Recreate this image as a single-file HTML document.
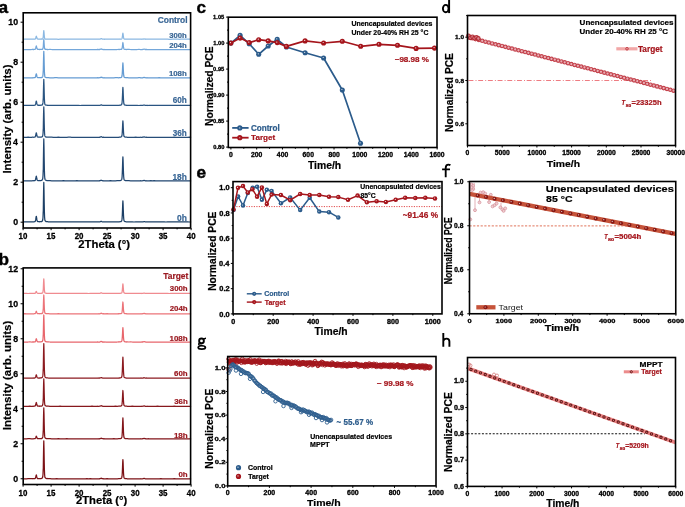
<!DOCTYPE html>
<html><head><meta charset="utf-8"><style>
html,body{margin:0;padding:0;background:#fff;overflow:hidden;width:685px;height:507px;}
svg{display:block;will-change:transform;}
text{font-family:"Liberation Sans",sans-serif;}
</style></head><body>
<svg width="685" height="507" viewBox="0 0 685 507">
<rect width="685" height="507" fill="#fff"/>
<text x="-1.62" y="12.86" font-size="17.2" fill="#000" stroke="#000" stroke-width="0.5" font-weight="bold">a</text>
<text x="-1.62" y="264.85" font-size="17.2" fill="#000" stroke="#000" stroke-width="0.35" font-weight="bold">b</text>
<text x="196.61" y="13.11" font-size="17.2" fill="#000" stroke="#000" stroke-width="0.35" font-weight="bold">c</text>
<g fill="none" stroke="#000"><ellipse cx="445.75" cy="8.6" rx="2.85" ry="3.7" stroke-width="1.9"/><path d="M449.1,-1 L449.1,13.1" stroke-width="1.95"/></g>
<text x="196.51" y="177.51" font-size="17.2" fill="#000" stroke="#000" stroke-width="0.5" font-weight="bold">e</text>
<path d="M445.7,177.2 L445.7,168 Q445.7,164.6 448.5,164.6 Q449.6,164.6 450.4,165.2 M442.1,169.4 L450,169.4" fill="none" stroke="#000" stroke-width="1.85"/>
<g fill="none" stroke="#000"><circle cx="201.5" cy="340.9" r="2.35" stroke-width="1.9"/><path d="M203.5,339.3 Q204.4,338.3 206,338.2" stroke-width="1.5"/><path d="M199.9,342.7 Q198.2,343.6 198.8,344.8 Q199.5,345.4 202.4,345.4" stroke-width="1.5"/><ellipse cx="201.8" cy="347.4" rx="3.6" ry="1.65" stroke-width="1.7"/></g>
<path d="M443.3,333 L443.3,346.7 M443.3,341 Q444,338.6 446.5,338.6 Q449.4,338.6 449.4,341.5 L449.4,346.7" fill="none" stroke="#000" stroke-width="1.9"/>
<polyline points="23.1,39.3 24.8,39.2 26.5,39.2 28.1,39.1 29.8,39.2 31.5,39.2 32.4,39.2 32.6,39.2 32.8,39.2 33,39.2 33.2,39.1 33.4,39.2 33.6,39.2 33.8,39.2 34,39.1 34.2,39.1 34.4,39.1 34.6,39.1 34.7,39.1 34.9,39 34.9,39 35.1,39 35.3,38.9 35.5,38.5 35.7,38 35.9,37.3 36.1,36.6 36.3,36.2 36.5,36.5 36.5,36.6 36.7,37.3 36.9,38.1 37.1,38.5 37.3,38.8 37.5,38.9 37.7,39 37.9,39.1 38.1,39.1 38.2,39.1 38.3,39.1 38.5,39.1 38.7,39.2 38.9,39.1 39.1,39.1 39.3,39.1 39.5,39.1 39.6,39.1 39.8,39.1 39.9,39.1 40,39.1 40.1,39.2 40.3,39.2 40.5,39.2 40.7,39.2 40.9,39.2 41.1,39.1 41.3,39.1 41.5,39 41.6,39.1 41.7,39 41.9,39.1 42.1,39.1 42.3,39 42.4,39 42.6,38.8 42.8,38.7 43,38.2 43.2,37 43.3,36.9 43.4,35.1 43.6,32.3 43.8,30.7 44,32.3 44.2,35.1 44.4,37.1 44.6,38.2 44.8,38.7 44.9,38.8 45,38.8 45.2,39 45.4,39 45.6,39.1 45.8,39.1 46,39.1 46.2,39.1 46.4,39.2 46.6,39.1 46.6,39.1 46.8,39.1 47,39.1 47.2,39.1 47.3,39.1 47.5,39.1 48.3,39.2 50,39.2 51.7,39.2 53.3,39.2 55,39.2 56.7,39.2 58.4,39.3 60.1,39.2 61.7,39.2 63.4,39.2 65.1,39.2 66.8,39.2 68.5,39.2 70.1,39.2 71.8,39.2 73.5,39.2 75.2,39.2 76.9,39.2 78.5,39.2 80.2,39.2 81.9,39.2 83.6,39.2 85.3,39.2 86.9,39.2 88.6,39.2 90.3,39.2 92,39.2 93.7,39.2 95.3,39.2 97,39.2 97.3,39.1 97.5,39.2 97.7,39.2 97.9,39.2 98.1,39.2 98.3,39.2 98.5,39.2 98.7,39.2 98.7,39.2 98.9,39.2 99.1,39.2 99.3,39.2 99.5,39.2 99.7,39.1 99.8,39.2 100,39.1 100.2,39 100.4,39 100.4,39 100.6,38.9 100.8,38.8 101,38.6 101.2,38.6 101.4,38.7 101.6,38.7 101.8,38.9 102,39 102.1,39 102.2,39.1 102.4,39.1 102.6,39.1 102.8,39.2 103,39.2 103.2,39.2 103.4,39.2 103.6,39.2 103.7,39.2 103.8,39.2 104,39.2 104.2,39.2 104.4,39.1 104.6,39.3 104.7,39.2 104.9,39.1 105.4,39.2 107.1,39.2 108.8,39.2 110.5,39.2 112.1,39.2 113.8,39.2 115.5,39.2 117.2,39.2 118.9,39.1 119,39.1 119.2,39.2 119.4,39.2 119.6,39.2 119.8,39.2 120,39.2 120.1,39.1 120.3,39.1 120.5,39.1 120.7,39.1 120.9,39.1 121.1,39.1 121.3,39.1 121.5,39 121.7,38.9 121.9,38.6 122.1,38.2 122.2,37.7 122.3,37.3 122.5,35.8 122.7,34.2 122.9,33.2 123.1,34.1 123.3,35.8 123.5,37.2 123.7,38.2 123.9,38.7 123.9,38.7 124.1,38.9 124.3,39 124.5,39.1 124.7,39.1 124.9,39.1 125,39.1 125.2,39.1 125.4,39.2 125.6,39.1 125.6,39.2 125.8,39.1 126,39.2 126.2,39.2 126.4,39.2 126.6,39.2 127.3,39.2 128.9,39.2 130.6,39.2 132.3,39.2 134,39.2 135.7,39.2 137.3,39.2 139,39.1 140.1,39.2 140.3,39.2 140.5,39.2 140.7,39.2 140.7,39.2 140.9,39.2 141.1,39.2 141.3,39.3 141.5,39.2 141.7,39.2 141.9,39.2 142.1,39.2 142.3,39.1 142.4,39.2 142.5,39.2 142.7,39.2 142.9,39.1 143.1,39.1 143.3,39.1 143.5,39 143.7,39 143.9,38.9 144.1,38.8 144.3,38.9 144.5,38.8 144.6,39 144.8,39 145,39.1 145.2,39.1 145.4,39.1 145.6,39.1 145.7,39.3 145.8,39.2 146,39.2 146.2,39.2 146.4,39.2 146.6,39.2 146.8,39.2 147,39.2 147.2,39.2 147.4,39.2 147.4,39.2 147.6,39.2 147.8,39.2 148,39.2 149.1,39.2 150.8,39.2 152.5,39.2 154.1,39.2 155.8,39.2 157.5,39.1 159.2,39.2 160.9,39.2 162.5,39.2 164.2,39.2 165.9,39.2 167.6,39.2 169.3,39.3 170.9,39.3 172.6,39.2 174.3,39.2 176,39.2 177.7,39.2 179.3,39.3 181,39.2 182.7,39.2 184.4,39.2 186.1,39.2 187.7,39.2 189.4,39.2 191.1,39.2" fill="none" stroke="#8bb8e2" stroke-width="1.25" stroke-linejoin="round" />
<polyline points="23.1,49.5 24.8,49.5 26.5,49.5 28.1,49.5 29.8,49.5 31.5,49.5 32.4,49.4 32.6,49.4 32.8,49.5 33,49.5 33.2,49.4 33.4,49.5 33.6,49.5 33.8,49.5 34,49.4 34.2,49.4 34.4,49.4 34.6,49.3 34.7,49.4 34.9,49.3 34.9,49.3 35.1,49.2 35.3,49.1 35.5,48.7 35.7,48.1 35.9,47.3 36.1,46.4 36.3,45.9 36.5,46.4 36.5,46.6 36.7,47.3 36.9,48.1 37.1,48.7 37.3,49 37.5,49.2 37.7,49.4 37.9,49.3 38.1,49.3 38.2,49.4 38.3,49.4 38.5,49.4 38.7,49.4 38.9,49.4 39.1,49.4 39.3,49.5 39.5,49.5 39.6,49.5 39.8,49.4 39.9,49.4 40,49.3 40.1,49.4 40.3,49.4 40.5,49.4 40.7,49.4 40.9,49.4 41.1,49.4 41.3,49.4 41.5,49.4 41.6,49.3 41.7,49.3 41.9,49.3 42.1,49.3 42.3,49.3 42.4,49.3 42.6,49.1 42.8,48.9 43,48.3 43.2,47 43.3,46.7 43.4,44.6 43.6,41.4 43.8,39.5 44,41.4 44.2,44.6 44.4,47 44.6,48.3 44.8,48.9 44.9,49 45,49.1 45.2,49.3 45.4,49.2 45.6,49.3 45.8,49.3 46,49.4 46.2,49.3 46.4,49.4 46.6,49.4 46.6,49.4 46.8,49.4 47,49.5 47.2,49.4 47.3,49.4 47.5,49.5 48.3,49.5 50,49.4 51.7,49.5 53.3,49.5 55,49.5 56.7,49.6 58.4,49.5 60.1,49.5 61.7,49.5 63.4,49.5 65.1,49.5 66.8,49.5 68.5,49.5 70.1,49.5 71.8,49.5 73.5,49.6 75.2,49.5 76.9,49.5 78.5,49.5 80.2,49.5 81.9,49.5 83.6,49.5 85.3,49.5 86.9,49.5 88.6,49.5 90.3,49.5 92,49.5 93.7,49.5 95.3,49.5 97,49.5 97.3,49.5 97.5,49.4 97.7,49.5 97.9,49.5 98.1,49.4 98.3,49.5 98.5,49.5 98.7,49.5 98.7,49.5 98.9,49.5 99.1,49.5 99.3,49.4 99.5,49.5 99.7,49.5 99.8,49.4 100,49.3 100.2,49.3 100.4,49.3 100.4,49.3 100.6,49.2 100.8,49 101,49 101.2,48.9 101.4,48.9 101.6,49.1 101.8,49.1 102,49.3 102.1,49.3 102.2,49.4 102.4,49.4 102.6,49.4 102.8,49.5 103,49.5 103.2,49.5 103.4,49.5 103.6,49.5 103.7,49.5 103.8,49.5 104,49.4 104.2,49.5 104.4,49.5 104.6,49.5 104.7,49.5 104.9,49.5 105.4,49.5 107.1,49.5 108.8,49.5 110.5,49.5 112.1,49.5 113.8,49.5 115.5,49.5 117.2,49.5 118.9,49.4 119,49.5 119.2,49.5 119.4,49.5 119.6,49.4 119.8,49.4 120,49.4 120.1,49.4 120.3,49.4 120.5,49.4 120.7,49.4 120.9,49.4 121.1,49.3 121.3,49.3 121.5,49.3 121.7,49.1 121.9,48.9 122.1,48.3 122.2,47.7 122.3,47.3 122.5,45.5 122.7,43.5 122.9,42.5 123.1,43.6 123.3,45.5 123.5,47.2 123.7,48.2 123.9,48.9 123.9,48.9 124.1,49.1 124.3,49.2 124.5,49.3 124.7,49.4 124.9,49.3 125,49.4 125.2,49.4 125.4,49.4 125.6,49.4 125.6,49.4 125.8,49.4 126,49.5 126.2,49.4 126.4,49.5 126.6,49.5 127.3,49.4 128.9,49.4 130.6,49.5 132.3,49.5 134,49.5 135.7,49.5 137.3,49.5 139,49.4 140.1,49.5 140.3,49.5 140.5,49.6 140.7,49.5 140.7,49.5 140.9,49.5 141.1,49.5 141.3,49.5 141.5,49.5 141.7,49.5 141.9,49.5 142.1,49.5 142.3,49.5 142.4,49.5 142.5,49.4 142.7,49.4 142.9,49.4 143.1,49.4 143.3,49.4 143.5,49.3 143.7,49.2 143.9,49.2 144.1,49.1 144.3,49.1 144.5,49.1 144.6,49.2 144.8,49.3 145,49.3 145.2,49.5 145.4,49.5 145.6,49.5 145.7,49.4 145.8,49.4 146,49.5 146.2,49.5 146.4,49.4 146.6,49.5 146.8,49.5 147,49.5 147.2,49.5 147.4,49.5 147.4,49.5 147.6,49.5 147.8,49.5 148,49.5 149.1,49.5 150.8,49.5 152.5,49.5 154.1,49.5 155.8,49.5 157.5,49.5 159.2,49.5 160.9,49.5 162.5,49.5 164.2,49.5 165.9,49.5 167.6,49.5 169.3,49.5 170.9,49.5 172.6,49.5 174.3,49.5 176,49.5 177.7,49.5 179.3,49.5 181,49.6 182.7,49.5 184.4,49.5 186.1,49.5 187.7,49.5 189.4,49.5 191.1,49.5" fill="none" stroke="#74a7da" stroke-width="1.25" stroke-linejoin="round" />
<polyline points="23.1,77.8 24.8,77.8 26.5,77.8 28.1,77.8 29.8,77.8 31.5,77.8 32.4,77.8 32.6,77.8 32.8,77.7 33,77.8 33.2,77.8 33.4,77.8 33.6,77.7 33.8,77.7 34,77.7 34.2,77.7 34.4,77.7 34.6,77.7 34.7,77.7 34.9,77.6 34.9,77.6 35.1,77.5 35.3,77.3 35.5,76.9 35.7,76.2 35.9,75.2 36.1,74.2 36.3,73.8 36.5,74.3 36.5,74.4 36.7,75.2 36.9,76.2 37.1,76.8 37.3,77.3 37.5,77.5 37.7,77.6 37.9,77.6 38.1,77.6 38.2,77.6 38.3,77.7 38.5,77.7 38.7,77.7 38.9,77.7 39.1,77.7 39.3,77.7 39.5,77.7 39.6,77.6 39.8,77.6 39.9,77.7 40,77.7 40.1,77.6 40.3,77.7 40.5,77.7 40.7,77.6 40.9,77.6 41.1,77.6 41.3,77.6 41.5,77.5 41.6,77.6 41.7,77.5 41.9,77.4 42.1,77.4 42.3,77.2 42.4,77.1 42.6,76.7 42.8,76.2 43,74.6 43.2,71.2 43.3,70.5 43.4,64.8 43.6,56.3 43.8,51.3 44,56.2 44.2,64.8 44.4,71.2 44.6,74.7 44.8,76.2 44.9,76.8 45,76.8 45.2,77.1 45.4,77.2 45.6,77.4 45.8,77.4 46,77.5 46.2,77.5 46.4,77.5 46.6,77.6 46.6,77.6 46.8,77.6 47,77.6 47.2,77.7 47.3,77.7 47.5,77.7 48.3,77.7 50,77.8 51.7,77.8 53.3,77.8 55,77.7 56.7,77.7 58.4,77.8 60.1,77.8 61.7,77.8 63.4,77.8 65.1,77.8 66.8,77.8 68.5,77.8 70.1,77.8 71.8,77.8 73.5,77.8 75.2,77.8 76.9,77.8 78.5,77.8 80.2,77.8 81.9,77.8 83.6,77.8 85.3,77.8 86.9,77.8 88.6,77.8 90.3,77.8 92,77.8 93.7,77.8 95.3,77.8 97,77.8 97.3,77.7 97.5,77.8 97.7,77.8 97.9,77.7 98.1,77.8 98.3,77.8 98.5,77.8 98.7,77.7 98.7,77.8 98.9,77.8 99.1,77.8 99.3,77.8 99.5,77.7 99.7,77.7 99.8,77.7 100,77.7 100.2,77.7 100.4,77.6 100.4,77.6 100.6,77.4 100.8,77.3 101,77.2 101.2,77.3 101.4,77.2 101.6,77.3 101.8,77.4 102,77.6 102.1,77.5 102.2,77.6 102.4,77.7 102.6,77.7 102.8,77.8 103,77.8 103.2,77.7 103.4,77.8 103.6,77.8 103.7,77.8 103.8,77.8 104,77.8 104.2,77.8 104.4,77.8 104.6,77.7 104.7,77.8 104.9,77.8 105.4,77.8 107.1,77.8 108.8,77.8 110.5,77.8 112.1,77.8 113.8,77.8 115.5,77.7 117.2,77.7 118.9,77.8 119,77.7 119.2,77.7 119.4,77.7 119.6,77.7 119.8,77.7 120,77.7 120.1,77.6 120.3,77.6 120.5,77.6 120.7,77.6 120.9,77.5 121.1,77.5 121.3,77.4 121.5,77.2 121.7,77 121.9,76.5 122.1,75.2 122.2,74.1 122.3,72.9 122.5,69.3 122.7,65.1 122.9,62.8 123.1,65 123.3,69.3 123.5,72.9 123.7,75.2 123.9,76.4 123.9,76.6 124.1,77 124.3,77.2 124.5,77.4 124.7,77.4 124.9,77.6 125,77.6 125.2,77.6 125.4,77.6 125.6,77.6 125.6,77.6 125.8,77.7 126,77.7 126.2,77.7 126.4,77.8 126.6,77.7 127.3,77.7 128.9,77.8 130.6,77.8 132.3,77.8 134,77.8 135.7,77.8 137.3,77.8 139,77.7 140.1,77.7 140.3,77.8 140.5,77.8 140.7,77.8 140.7,77.8 140.9,77.7 141.1,77.8 141.3,77.8 141.5,77.8 141.7,77.8 141.9,77.8 142.1,77.8 142.3,77.8 142.4,77.8 142.5,77.8 142.7,77.7 142.9,77.8 143.1,77.7 143.3,77.7 143.5,77.6 143.7,77.5 143.9,77.4 144.1,77.4 144.3,77.4 144.5,77.5 144.6,77.6 144.8,77.7 145,77.6 145.2,77.7 145.4,77.7 145.6,77.8 145.7,77.8 145.8,77.8 146,77.8 146.2,77.8 146.4,77.7 146.6,77.8 146.8,77.8 147,77.8 147.2,77.8 147.4,77.9 147.4,77.8 147.6,77.7 147.8,77.8 148,77.8 149.1,77.8 150.8,77.8 152.5,77.8 154.1,77.8 155.8,77.8 157.5,77.8 159.2,77.7 160.9,77.8 162.5,77.8 164.2,77.8 165.9,77.8 167.6,77.8 169.3,77.8 170.9,77.8 172.6,77.8 174.3,77.8 176,77.8 177.7,77.8 179.3,77.8 181,77.8 182.7,77.8 184.4,77.8 186.1,77.8 187.7,77.8 189.4,77.8 191.1,77.8" fill="none" stroke="#659cd3" stroke-width="1.25" stroke-linejoin="round" />
<polyline points="23.1,105.4 24.8,105.4 26.5,105.4 28.1,105.4 29.8,105.3 31.5,105.4 32.4,105.4 32.6,105.4 32.8,105.4 33,105.4 33.2,105.4 33.4,105.4 33.6,105.3 33.8,105.3 34,105.3 34.2,105.3 34.4,105.3 34.6,105.2 34.7,105.2 34.9,105.2 34.9,105.2 35.1,105.1 35.3,104.9 35.5,104.4 35.7,103.7 35.9,102.7 36.1,101.6 36.3,101.1 36.5,101.6 36.5,101.7 36.7,102.7 36.9,103.7 37.1,104.3 37.3,104.8 37.5,105 37.7,105.2 37.9,105.2 38.1,105.3 38.2,105.3 38.3,105.2 38.5,105.2 38.7,105.3 38.9,105.2 39.1,105.3 39.3,105.2 39.5,105.3 39.6,105.3 39.8,105.3 39.9,105.3 40,105.2 40.1,105.2 40.3,105.3 40.5,105.3 40.7,105.2 40.9,105.2 41.1,105.2 41.3,105.2 41.5,105.2 41.6,105.1 41.7,105.1 41.9,105.1 42.1,104.9 42.3,104.9 42.4,104.7 42.6,104.4 42.8,103.8 43,102.4 43.2,98.9 43.3,98.2 43.4,92.6 43.6,84.3 43.8,79.4 44,84.3 44.2,92.6 44.4,98.9 44.6,102.3 44.8,103.8 44.9,104.3 45,104.4 45.2,104.7 45.4,104.9 45.6,105 45.8,105 46,105.1 46.2,105.2 46.4,105.2 46.6,105.2 46.6,105.2 46.8,105.2 47,105.3 47.2,105.2 47.3,105.3 47.5,105.3 48.3,105.3 50,105.4 51.7,105.3 53.3,105.4 55,105.4 56.7,105.4 58.4,105.4 60.1,105.4 61.7,105.4 63.4,105.4 65.1,105.4 66.8,105.4 68.5,105.4 70.1,105.4 71.8,105.4 73.5,105.3 75.2,105.4 76.9,105.3 78.5,105.3 80.2,105.5 81.9,105.4 83.6,105.4 85.3,105.4 86.9,105.4 88.6,105.4 90.3,105.4 92,105.4 93.7,105.4 95.3,105.4 97,105.4 97.3,105.4 97.5,105.4 97.7,105.4 97.9,105.3 98.1,105.4 98.3,105.4 98.5,105.4 98.7,105.4 98.7,105.4 98.9,105.4 99.1,105.4 99.3,105.4 99.5,105.4 99.7,105.4 99.8,105.3 100,105.3 100.2,105.3 100.4,105.2 100.4,105.1 100.6,105.1 100.8,105 101,104.8 101.2,104.8 101.4,104.8 101.6,105 101.8,105 102,105.2 102.1,105.1 102.2,105.2 102.4,105.3 102.6,105.3 102.8,105.3 103,105.4 103.2,105.4 103.4,105.4 103.6,105.4 103.7,105.4 103.8,105.4 104,105.4 104.2,105.4 104.4,105.4 104.6,105.4 104.7,105.4 104.9,105.3 105.4,105.4 107.1,105.3 108.8,105.4 110.5,105.3 112.1,105.4 113.8,105.4 115.5,105.3 117.2,105.3 118.9,105.4 119,105.3 119.2,105.3 119.4,105.2 119.6,105.2 119.8,105.3 120,105.3 120.1,105.2 120.3,105.2 120.5,105.1 120.7,105.2 120.9,105.1 121.1,105 121.3,104.8 121.5,104.7 121.7,104.4 121.9,103.8 122.1,102.3 122.2,100.9 122.3,99.5 122.5,95.2 122.7,90.1 122.9,87.3 123.1,90.1 123.3,95.2 123.5,99.5 123.7,102.3 123.9,103.8 123.9,103.8 124.1,104.4 124.3,104.7 124.5,104.9 124.7,105 124.9,105.1 125,105.1 125.2,105.2 125.4,105.2 125.6,105.2 125.6,105.2 125.8,105.2 126,105.3 126.2,105.2 126.4,105.3 126.6,105.4 127.3,105.4 128.9,105.4 130.6,105.4 132.3,105.4 134,105.4 135.7,105.4 137.3,105.4 139,105.5 140.1,105.4 140.3,105.4 140.5,105.4 140.7,105.4 140.7,105.4 140.9,105.4 141.1,105.4 141.3,105.4 141.5,105.4 141.7,105.3 141.9,105.4 142.1,105.3 142.3,105.4 142.4,105.4 142.5,105.3 142.7,105.3 142.9,105.3 143.1,105.3 143.3,105.2 143.5,105.1 143.7,105.1 143.9,105 144.1,105 144.3,105 144.5,105.1 144.6,105.1 144.8,105.2 145,105.3 145.2,105.4 145.4,105.3 145.6,105.4 145.7,105.3 145.8,105.4 146,105.3 146.2,105.3 146.4,105.4 146.6,105.3 146.8,105.4 147,105.4 147.2,105.4 147.4,105.4 147.4,105.4 147.6,105.4 147.8,105.4 148,105.5 149.1,105.4 150.8,105.3 152.5,105.4 154.1,105.4 155.8,105.4 157.5,105.4 159.2,105.4 160.9,105.4 162.5,105.4 164.2,105.4 165.9,105.4 167.6,105.3 169.3,105.4 170.9,105.4 172.6,105.4 174.3,105.4 176,105.4 177.7,105.4 179.3,105.4 181,105.4 182.7,105.4 184.4,105.4 186.1,105.4 187.7,105.4 189.4,105.4 191.1,105.3" fill="none" stroke="#2a5582" stroke-width="1.25" stroke-linejoin="round" />
<polyline points="23.1,137.2 24.8,137.3 26.5,137.3 28.1,137.2 29.8,137.3 31.5,137.3 32.4,137.2 32.6,137.2 32.8,137.2 33,137.3 33.2,137.3 33.4,137.3 33.6,137.2 33.8,137.2 34,137.2 34.2,137.2 34.4,137.2 34.6,137.2 34.7,137.1 34.9,137.1 34.9,137.1 35.1,136.9 35.3,136.7 35.5,136.2 35.7,135.5 35.9,134.4 36.1,133.3 36.3,132.8 36.5,133.3 36.5,133.5 36.7,134.4 36.9,135.5 37.1,136.2 37.3,136.7 37.5,136.9 37.7,137 37.9,137.1 38.1,137.1 38.2,137.1 38.3,137.2 38.5,137.1 38.7,137.2 38.9,137.1 39.1,137.2 39.3,137.2 39.5,137.1 39.6,137.2 39.8,137.1 39.9,137.2 40,137.2 40.1,137.2 40.3,137.2 40.5,137.1 40.7,137.1 40.9,137.1 41.1,137.1 41.3,137.1 41.5,137 41.6,136.9 41.7,136.9 41.9,136.8 42.1,136.8 42.3,136.6 42.4,136.5 42.6,136.1 42.8,135.4 43,133.7 43.2,129.7 43.3,128.9 43.4,122.3 43.6,112.5 43.8,106.8 44,112.5 44.2,122.4 44.4,129.6 44.6,133.7 44.8,135.4 44.9,135.9 45,136.1 45.2,136.4 45.4,136.6 45.6,136.8 45.8,136.8 46,137 46.2,137 46.4,137 46.6,137 46.6,137 46.8,137.1 47,137.1 47.2,137.2 47.3,137.2 47.5,137.1 48.3,137.1 50,137.2 51.7,137.2 53.3,137.3 55,137.3 56.7,137.4 58.4,137.2 60.1,137.3 61.7,137.3 63.4,137.3 65.1,137.3 66.8,137.3 68.5,137.2 70.1,137.2 71.8,137.3 73.5,137.3 75.2,137.3 76.9,137.3 78.5,137.4 80.2,137.3 81.9,137.3 83.6,137.3 85.3,137.3 86.9,137.3 88.6,137.3 90.3,137.3 92,137.3 93.7,137.3 95.3,137.3 97,137.3 97.3,137.3 97.5,137.3 97.7,137.3 97.9,137.3 98.1,137.3 98.3,137.3 98.5,137.3 98.7,137.3 98.7,137.3 98.9,137.3 99.1,137.3 99.3,137.3 99.5,137.2 99.7,137.3 99.8,137.2 100,137.2 100.2,137.1 100.4,137.1 100.4,137.1 100.6,136.9 100.8,136.8 101,136.7 101.2,136.7 101.4,136.7 101.6,136.8 101.8,137 102,137.1 102.1,137.1 102.2,137.1 102.4,137.3 102.6,137.2 102.8,137.3 103,137.3 103.2,137.2 103.4,137.3 103.6,137.3 103.7,137.2 103.8,137.3 104,137.3 104.2,137.3 104.4,137.3 104.6,137.3 104.7,137.3 104.9,137.3 105.4,137.3 107.1,137.3 108.8,137.3 110.5,137.3 112.1,137.3 113.8,137.3 115.5,137.3 117.2,137.3 118.9,137.3 119,137.2 119.2,137.2 119.4,137.2 119.6,137.2 119.8,137.1 120,137.1 120.1,137.1 120.3,137.1 120.5,137.1 120.7,137.1 120.9,137 121.1,136.9 121.3,136.8 121.5,136.7 121.7,136.4 121.9,135.8 122.1,134.5 122.2,133.2 122.3,131.9 122.5,127.9 122.7,123.3 122.9,120.8 123.1,123.3 123.3,127.9 123.5,131.9 123.7,134.5 123.9,135.8 123.9,135.9 124.1,136.4 124.3,136.7 124.5,136.8 124.7,136.9 124.9,137 125,137 125.2,137.1 125.4,137.1 125.6,137.1 125.6,137.2 125.8,137.2 126,137.2 126.2,137.2 126.4,137.2 126.6,137.2 127.3,137.3 128.9,137.3 130.6,137.3 132.3,137.3 134,137.3 135.7,137.2 137.3,137.3 139,137.3 140.1,137.3 140.3,137.3 140.5,137.3 140.7,137.2 140.7,137.2 140.9,137.2 141.1,137.3 141.3,137.3 141.5,137.3 141.7,137.3 141.9,137.3 142.1,137.3 142.3,137.3 142.4,137.2 142.5,137.3 142.7,137.2 142.9,137.2 143.1,137.2 143.3,137.2 143.5,137.1 143.7,137 143.9,136.9 144.1,136.9 144.3,136.9 144.5,137 144.6,137.1 144.8,137.2 145,137.2 145.2,137.2 145.4,137.2 145.6,137.3 145.7,137.3 145.8,137.3 146,137.3 146.2,137.2 146.4,137.3 146.6,137.2 146.8,137.4 147,137.3 147.2,137.3 147.4,137.3 147.4,137.3 147.6,137.3 147.8,137.3 148,137.3 149.1,137.3 150.8,137.3 152.5,137.3 154.1,137.3 155.8,137.3 157.5,137.3 159.2,137.3 160.9,137.4 162.5,137.3 164.2,137.3 165.9,137.4 167.6,137.3 169.3,137.3 170.9,137.3 172.6,137.3 174.3,137.2 176,137.3 177.7,137.3 179.3,137.3 181,137.3 182.7,137.3 184.4,137.3 186.1,137.3 187.7,137.3 189.4,137.2 191.1,137.3" fill="none" stroke="#264d78" stroke-width="1.25" stroke-linejoin="round" />
<polyline points="23.1,180.8 24.8,180.8 26.5,180.8 28.1,180.8 29.8,180.8 31.5,180.8 32.4,180.8 32.6,180.7 32.8,180.7 33,180.7 33.2,180.7 33.4,180.8 33.6,180.7 33.8,180.7 34,180.8 34.2,180.7 34.4,180.6 34.6,180.7 34.7,180.6 34.9,180.6 34.9,180.5 35.1,180.5 35.3,180.2 35.5,179.7 35.7,179 35.9,177.9 36.1,176.8 36.3,176.2 36.5,176.8 36.5,176.9 36.7,177.9 36.9,179 37.1,179.7 37.3,180.2 37.5,180.4 37.7,180.5 37.9,180.5 38.1,180.6 38.2,180.6 38.3,180.6 38.5,180.6 38.7,180.7 38.9,180.7 39.1,180.6 39.3,180.7 39.5,180.6 39.6,180.7 39.8,180.7 39.9,180.5 40,180.6 40.1,180.6 40.3,180.6 40.5,180.5 40.7,180.5 40.9,180.5 41.1,180.5 41.3,180.4 41.5,180.3 41.6,180.4 41.7,180.3 41.9,180.2 42.1,180 42.3,179.8 42.4,179.6 42.6,179.2 42.8,178.1 43,175.8 43.2,170.4 43.3,169.1 43.4,160.1 43.6,146.7 43.8,138.8 44,146.6 44.2,160.1 44.4,170.3 44.6,175.8 44.8,178.2 44.9,179 45,179.2 45.2,179.6 45.4,179.9 45.6,180.1 45.8,180.2 46,180.3 46.2,180.4 46.4,180.4 46.6,180.5 46.6,180.5 46.8,180.5 47,180.5 47.2,180.6 47.3,180.6 47.5,180.6 48.3,180.7 50,180.7 51.7,180.8 53.3,180.8 55,180.8 56.7,180.8 58.4,180.8 60.1,180.8 61.7,180.8 63.4,180.7 65.1,180.8 66.8,180.8 68.5,180.8 70.1,180.8 71.8,180.8 73.5,180.8 75.2,180.8 76.9,180.7 78.5,180.8 80.2,180.8 81.9,180.8 83.6,180.8 85.3,180.8 86.9,180.8 88.6,180.8 90.3,180.8 92,180.8 93.7,180.8 95.3,180.8 97,180.8 97.3,180.8 97.5,180.8 97.7,180.8 97.9,180.8 98.1,180.8 98.3,180.8 98.5,180.8 98.7,180.8 98.7,180.8 98.9,180.8 99.1,180.8 99.3,180.8 99.5,180.7 99.7,180.7 99.8,180.8 100,180.7 100.2,180.6 100.4,180.6 100.4,180.6 100.6,180.5 100.8,180.3 101,180.2 101.2,180.2 101.4,180.3 101.6,180.4 101.8,180.4 102,180.6 102.1,180.6 102.2,180.6 102.4,180.7 102.6,180.8 102.8,180.7 103,180.8 103.2,180.8 103.4,180.7 103.6,180.8 103.7,180.8 103.8,180.8 104,180.8 104.2,180.8 104.4,180.8 104.6,180.8 104.7,180.8 104.9,180.8 105.4,180.8 107.1,180.8 108.8,180.8 110.5,180.7 112.1,180.8 113.8,180.8 115.5,180.8 117.2,180.7 118.9,180.6 119,180.7 119.2,180.7 119.4,180.7 119.6,180.6 119.8,180.7 120,180.6 120.1,180.6 120.3,180.5 120.5,180.5 120.7,180.4 120.9,180.4 121.1,180.2 121.3,180.1 121.5,179.9 121.7,179.5 121.9,178.6 122.1,176.7 122.2,174.8 122.3,172.9 122.5,167.1 122.7,160.4 122.9,156.8 123.1,160.4 123.3,167.1 123.5,172.9 123.7,176.7 123.9,178.6 123.9,178.8 124.1,179.5 124.3,180 124.5,180.1 124.7,180.3 124.9,180.4 125,180.4 125.2,180.5 125.4,180.5 125.6,180.6 125.6,180.6 125.8,180.6 126,180.6 126.2,180.7 126.4,180.6 126.6,180.7 127.3,180.7 128.9,180.7 130.6,180.8 132.3,180.8 134,180.8 135.7,180.8 137.3,180.8 139,180.8 140.1,180.8 140.3,180.8 140.5,180.7 140.7,180.8 140.7,180.7 140.9,180.8 141.1,180.8 141.3,180.8 141.5,180.8 141.7,180.8 141.9,180.8 142.1,180.8 142.3,180.8 142.4,180.8 142.5,180.8 142.7,180.7 142.9,180.7 143.1,180.7 143.3,180.6 143.5,180.5 143.7,180.5 143.9,180.4 144.1,180.4 144.3,180.4 144.5,180.5 144.6,180.6 144.8,180.6 145,180.7 145.2,180.8 145.4,180.7 145.6,180.8 145.7,180.8 145.8,180.8 146,180.8 146.2,180.7 146.4,180.8 146.6,180.8 146.8,180.8 147,180.8 147.2,180.8 147.4,180.8 147.4,180.8 147.6,180.8 147.8,180.8 148,180.8 149.1,180.8 150.8,180.7 152.5,180.8 154.1,180.7 155.8,180.8 157.5,180.8 159.2,180.8 160.9,180.8 162.5,180.8 164.2,180.8 165.9,180.8 167.6,180.8 169.3,180.8 170.9,180.8 172.6,180.8 174.3,180.8 176,180.8 177.7,180.8 179.3,180.8 181,180.8 182.7,180.8 184.4,180.8 186.1,180.8 187.7,180.8 189.4,180.8 191.1,180.8" fill="none" stroke="#214670" stroke-width="1.25" stroke-linejoin="round" />
<polyline points="23.1,221.8 24.8,221.9 26.5,221.8 28.1,221.9 29.8,221.9 31.5,221.8 32.4,221.8 32.6,221.8 32.8,221.8 33,221.8 33.2,221.8 33.4,221.8 33.6,221.8 33.8,221.8 34,221.8 34.2,221.8 34.4,221.7 34.6,221.7 34.7,221.7 34.9,221.6 34.9,221.5 35.1,221.5 35.3,221.1 35.5,220.6 35.7,219.7 35.9,218.3 36.1,216.9 36.3,216.3 36.5,216.9 36.5,217.1 36.7,218.3 36.9,219.7 37.1,220.6 37.3,221.1 37.5,221.4 37.7,221.5 37.9,221.6 38.1,221.7 38.2,221.7 38.3,221.7 38.5,221.7 38.7,221.7 38.9,221.7 39.1,221.7 39.3,221.8 39.5,221.8 39.6,221.7 39.8,221.7 39.9,221.7 40,221.7 40.1,221.7 40.3,221.7 40.5,221.7 40.7,221.7 40.9,221.6 41.1,221.6 41.3,221.5 41.5,221.5 41.6,221.5 41.7,221.5 41.9,221.3 42.1,221.2 42.3,221.1 42.4,220.8 42.6,220.3 42.8,219.5 43,217.2 43.2,212 43.3,211 43.4,202.5 43.6,189.8 43.8,182.4 44,189.8 44.2,202.5 44.4,212 44.6,217.2 44.8,219.5 44.9,220.2 45,220.4 45.2,220.8 45.4,221 45.6,221.2 45.8,221.3 46,221.5 46.2,221.5 46.4,221.6 46.6,221.6 46.6,221.6 46.8,221.7 47,221.7 47.2,221.7 47.3,221.7 47.5,221.7 48.3,221.8 50,221.8 51.7,221.9 53.3,221.9 55,221.9 56.7,221.9 58.4,221.9 60.1,221.9 61.7,221.8 63.4,221.9 65.1,221.9 66.8,221.9 68.5,221.9 70.1,221.9 71.8,221.9 73.5,221.9 75.2,221.9 76.9,221.9 78.5,221.9 80.2,221.9 81.9,221.9 83.6,221.9 85.3,221.9 86.9,221.9 88.6,221.9 90.3,221.9 92,221.9 93.7,221.9 95.3,221.9 97,221.9 97.3,221.9 97.5,221.9 97.7,221.8 97.9,221.9 98.1,221.8 98.3,221.9 98.5,221.9 98.7,221.9 98.7,221.9 98.9,221.8 99.1,221.9 99.3,221.9 99.5,221.9 99.7,221.9 99.8,221.9 100,221.8 100.2,221.7 100.4,221.7 100.4,221.7 100.6,221.6 100.8,221.4 101,221.3 101.2,221.3 101.4,221.3 101.6,221.5 101.8,221.6 102,221.6 102.1,221.7 102.2,221.8 102.4,221.8 102.6,221.9 102.8,221.8 103,221.8 103.2,221.9 103.4,221.9 103.6,221.8 103.7,221.9 103.8,221.9 104,221.8 104.2,221.9 104.4,221.9 104.6,221.9 104.7,221.9 104.9,221.9 105.4,221.9 107.1,221.9 108.8,221.8 110.5,221.9 112.1,221.9 113.8,221.9 115.5,221.8 117.2,221.8 118.9,221.8 119,221.8 119.2,221.8 119.4,221.8 119.6,221.8 119.8,221.7 120,221.7 120.1,221.7 120.3,221.7 120.5,221.6 120.7,221.6 120.9,221.5 121.1,221.5 121.3,221.3 121.5,221.1 121.7,220.8 121.9,219.9 122.1,218.3 122.2,216.6 122.3,215 122.5,210 122.7,204.1 122.9,200.9 123.1,204.1 123.3,210 123.5,215.1 123.7,218.3 123.9,220 123.9,220.1 124.1,220.8 124.3,221.1 124.5,221.3 124.7,221.4 124.9,221.5 125,221.6 125.2,221.6 125.4,221.7 125.6,221.7 125.6,221.7 125.8,221.7 126,221.8 126.2,221.8 126.4,221.8 126.6,221.8 127.3,221.9 128.9,221.8 130.6,221.9 132.3,221.8 134,222 135.7,221.9 137.3,221.9 139,221.9 140.1,221.9 140.3,221.9 140.5,221.8 140.7,221.9 140.7,221.9 140.9,221.9 141.1,221.9 141.3,221.9 141.5,221.9 141.7,221.8 141.9,221.9 142.1,221.9 142.3,221.9 142.4,221.9 142.5,221.9 142.7,221.8 142.9,221.8 143.1,221.8 143.3,221.8 143.5,221.6 143.7,221.6 143.9,221.5 144.1,221.5 144.3,221.5 144.5,221.6 144.6,221.6 144.8,221.7 145,221.8 145.2,221.8 145.4,221.8 145.6,221.8 145.7,221.9 145.8,221.9 146,221.9 146.2,221.9 146.4,221.9 146.6,221.9 146.8,221.9 147,221.9 147.2,221.9 147.4,221.9 147.4,221.9 147.6,221.9 147.8,221.9 148,221.9 149.1,221.8 150.8,221.8 152.5,221.9 154.1,221.9 155.8,221.9 157.5,221.9 159.2,221.9 160.9,221.9 162.5,221.9 164.2,221.8 165.9,222 167.6,221.9 169.3,221.9 170.9,221.9 172.6,221.9 174.3,221.9 176,221.9 177.7,221.9 179.3,221.9 181,221.9 182.7,221.9 184.4,221.9 186.1,221.9 187.7,221.9 189.4,222 191.1,221.9" fill="none" stroke="#1d4066" stroke-width="1.25" stroke-linejoin="round" />
<rect x="23.2" y="12.8" width="167.4" height="215.2" fill="none" stroke="#000" stroke-width="1.6"/>
<line x1="20.6" y1="222.2" x2="23.2" y2="222.2" stroke="#000" stroke-width="1" />
<text x="13.21" y="224.95" font-size="9.71" fill="#000" stroke="#000" stroke-width="0.3" font-weight="bold" textLength="4.9" lengthAdjust="spacingAndGlyphs">0</text>
<line x1="20.6" y1="182.2" x2="23.2" y2="182.2" stroke="#000" stroke-width="1" />
<text x="13.21" y="185" font-size="9.71" fill="#000" stroke="#000" stroke-width="0.3" font-weight="bold" textLength="4.9" lengthAdjust="spacingAndGlyphs">2</text>
<line x1="20.6" y1="142.2" x2="23.2" y2="142.2" stroke="#000" stroke-width="1" />
<text x="12.91" y="144.95" font-size="9.71" fill="#000" stroke="#000" stroke-width="0.3" font-weight="bold" textLength="4.9" lengthAdjust="spacingAndGlyphs">4</text>
<line x1="20.6" y1="102.2" x2="23.2" y2="102.2" stroke="#000" stroke-width="1" />
<text x="13.17" y="104.95" font-size="9.71" fill="#000" stroke="#000" stroke-width="0.3" font-weight="bold" textLength="4.9" lengthAdjust="spacingAndGlyphs">6</text>
<line x1="20.6" y1="62.2" x2="23.2" y2="62.2" stroke="#000" stroke-width="1" />
<text x="13.13" y="64.95" font-size="9.71" fill="#000" stroke="#000" stroke-width="0.3" font-weight="bold" textLength="4.9" lengthAdjust="spacingAndGlyphs">8</text>
<line x1="20.6" y1="22.2" x2="23.2" y2="22.2" stroke="#000" stroke-width="1" />
<text x="8.33" y="24.95" font-size="9.71" fill="#000" stroke="#000" stroke-width="0.3" font-weight="bold" textLength="9.8" lengthAdjust="spacingAndGlyphs">10</text>
<line x1="21.6" y1="202.2" x2="23.2" y2="202.2" stroke="#000" stroke-width="1" />
<line x1="21.6" y1="162.2" x2="23.2" y2="162.2" stroke="#000" stroke-width="1" />
<line x1="21.6" y1="122.2" x2="23.2" y2="122.2" stroke="#000" stroke-width="1" />
<line x1="21.6" y1="82.2" x2="23.2" y2="82.2" stroke="#000" stroke-width="1" />
<line x1="21.6" y1="42.2" x2="23.2" y2="42.2" stroke="#000" stroke-width="1" />
<line x1="23.1" y1="228" x2="23.1" y2="230.2" stroke="#000" stroke-width="1" />
<text x="18.6" y="239.3" font-size="8.57" fill="#000" stroke="#000" stroke-width="0.3" font-weight="bold" textLength="8.81" lengthAdjust="spacingAndGlyphs">10</text>
<line x1="51.1" y1="228" x2="51.1" y2="230.2" stroke="#000" stroke-width="1" />
<text x="46.54" y="239.21" font-size="8.57" fill="#000" stroke="#000" stroke-width="0.3" font-weight="bold" textLength="8.81" lengthAdjust="spacingAndGlyphs">15</text>
<line x1="79.1" y1="228" x2="79.1" y2="230.2" stroke="#000" stroke-width="1" />
<text x="74.72" y="239.3" font-size="8.57" fill="#000" stroke="#000" stroke-width="0.3" font-weight="bold" textLength="8.81" lengthAdjust="spacingAndGlyphs">20</text>
<line x1="107.1" y1="228" x2="107.1" y2="230.2" stroke="#000" stroke-width="1" />
<text x="102.66" y="239.3" font-size="8.57" fill="#000" stroke="#000" stroke-width="0.3" font-weight="bold" textLength="8.81" lengthAdjust="spacingAndGlyphs">25</text>
<line x1="135.1" y1="228" x2="135.1" y2="230.2" stroke="#000" stroke-width="1" />
<text x="130.76" y="239.3" font-size="8.57" fill="#000" stroke="#000" stroke-width="0.3" font-weight="bold" textLength="8.81" lengthAdjust="spacingAndGlyphs">30</text>
<line x1="163.1" y1="228" x2="163.1" y2="230.2" stroke="#000" stroke-width="1" />
<text x="158.7" y="239.3" font-size="8.57" fill="#000" stroke="#000" stroke-width="0.3" font-weight="bold" textLength="8.81" lengthAdjust="spacingAndGlyphs">35</text>
<line x1="191.1" y1="228" x2="191.1" y2="230.2" stroke="#000" stroke-width="1" />
<text x="186.8" y="239.3" font-size="8.57" fill="#000" stroke="#000" stroke-width="0.3" font-weight="bold" textLength="8.81" lengthAdjust="spacingAndGlyphs">40</text>
<line x1="37.1" y1="228" x2="37.1" y2="229.4" stroke="#000" stroke-width="1" />
<line x1="65.1" y1="228" x2="65.1" y2="229.4" stroke="#000" stroke-width="1" />
<line x1="93.1" y1="228" x2="93.1" y2="229.4" stroke="#000" stroke-width="1" />
<line x1="121.1" y1="228" x2="121.1" y2="229.4" stroke="#000" stroke-width="1" />
<line x1="149.1" y1="228" x2="149.1" y2="229.4" stroke="#000" stroke-width="1" />
<line x1="177.1" y1="228" x2="177.1" y2="229.4" stroke="#000" stroke-width="1" />
<text x="169.21" y="38" font-size="7.7" fill="#3a6796" stroke="#3a6796" stroke-width="0.2" font-weight="bold">300h</text>
<text x="169.13" y="48.17" font-size="7.73" fill="#3a6796" stroke="#3a6796" stroke-width="0.2" font-weight="bold">204h</text>
<text x="168.89" y="76.3" font-size="7.84" fill="#3a6796" stroke="#3a6796" stroke-width="0.2" font-weight="bold">108h</text>
<text x="172.71" y="103.43" font-size="8.18" fill="#3a6796" stroke="#3a6796" stroke-width="0.2" font-weight="bold">60h</text>
<text x="172.8" y="136.41" font-size="8.13" fill="#3a6796" stroke="#3a6796" stroke-width="0.2" font-weight="bold">36h</text>
<text x="172.46" y="179.98" font-size="8.34" fill="#3a6796" stroke="#3a6796" stroke-width="0.2" font-weight="bold">18h</text>
<text x="176.96" y="220.52" font-size="8.45" fill="#3a6796" stroke="#3a6796" stroke-width="0.2" font-weight="bold">0h</text>
<text x="157.66" y="23.26" font-size="8.43" fill="#3a6796" stroke="#3a6796" stroke-width="0.2" font-weight="bold">Control</text>
<text x="11.3" y="173.54" font-size="11.1" transform="rotate(-90 11.3 173.54)" fill="#000" stroke="#000" stroke-width="0.2" font-weight="bold" textLength="108.97" lengthAdjust="spacingAndGlyphs">Intensity (arb. units)</text>
<text x="78.3" y="247.6" font-size="10.34" fill="#000" stroke="#000" stroke-width="0.2" font-weight="bold" textLength="51.63" lengthAdjust="spacingAndGlyphs" >2Theta (°)</text>
<polyline points="23.1,293.4 24.8,293.4 26.5,293.4 28.1,293.5 29.8,293.4 31.5,293.4 32.4,293.4 32.6,293.4 32.8,293.4 33,293.4 33.2,293.4 33.4,293.3 33.6,293.3 33.8,293.4 34,293.4 34.2,293.3 34.4,293.4 34.6,293.4 34.7,293.4 34.9,293.2 34.9,293.3 35.1,293.3 35.3,293.1 35.5,292.9 35.7,292.6 35.9,292.1 36.1,291.6 36.3,291.4 36.5,291.6 36.5,291.7 36.7,292.1 36.9,292.6 37.1,292.9 37.3,293.1 37.5,293.2 37.7,293.3 37.9,293.3 38.1,293.3 38.2,293.3 38.3,293.3 38.5,293.4 38.7,293.3 38.9,293.3 39.1,293.3 39.3,293.4 39.5,293.4 39.6,293.3 39.8,293.3 39.9,293.3 40,293.3 40.1,293.3 40.3,293.3 40.5,293.4 40.7,293.3 40.9,293.3 41.1,293.3 41.3,293.3 41.5,293.3 41.6,293.2 41.7,293.3 41.9,293.2 42.1,293.2 42.3,293.1 42.4,293 42.6,292.8 42.8,292.5 43,291.6 43.2,289.8 43.3,289.3 43.4,286.3 43.6,281.6 43.8,278.9 44,281.6 44.2,286.3 44.4,289.8 44.6,291.7 44.8,292.5 44.9,292.8 45,292.9 45.2,293 45.4,293.1 45.6,293.1 45.8,293.2 46,293.2 46.2,293.2 46.4,293.3 46.6,293.3 46.6,293.4 46.8,293.3 47,293.3 47.2,293.4 47.3,293.3 47.5,293.3 48.3,293.4 50,293.4 51.7,293.4 53.3,293.4 55,293.4 56.7,293.4 58.4,293.4 60.1,293.4 61.7,293.4 63.4,293.4 65.1,293.4 66.8,293.4 68.5,293.4 70.1,293.4 71.8,293.4 73.5,293.4 75.2,293.4 76.9,293.4 78.5,293.4 80.2,293.4 81.9,293.4 83.6,293.4 85.3,293.4 86.9,293.4 88.6,293.5 90.3,293.4 92,293.4 93.7,293.4 95.3,293.4 97,293.4 97.3,293.4 97.5,293.4 97.7,293.4 97.9,293.4 98.1,293.3 98.3,293.4 98.5,293.3 98.7,293.4 98.7,293.4 98.9,293.4 99.1,293.4 99.3,293.3 99.5,293.4 99.7,293.3 99.8,293.4 100,293.3 100.2,293.2 100.4,293.2 100.4,293.2 100.6,293 100.8,292.9 101,292.8 101.2,292.8 101.4,292.8 101.6,292.9 101.8,293 102,293.2 102.1,293.2 102.2,293.2 102.4,293.3 102.6,293.3 102.8,293.3 103,293.4 103.2,293.4 103.4,293.4 103.6,293.4 103.7,293.4 103.8,293.4 104,293.4 104.2,293.4 104.4,293.4 104.6,293.4 104.7,293.4 104.9,293.4 105.4,293.3 107.1,293.3 108.8,293.4 110.5,293.4 112.1,293.4 113.8,293.4 115.5,293.4 117.2,293.4 118.9,293.3 119,293.3 119.2,293.4 119.4,293.4 119.6,293.4 119.8,293.3 120,293.3 120.1,293.3 120.3,293.3 120.5,293.3 120.7,293.2 120.9,293.2 121.1,293.2 121.3,293.1 121.5,293 121.7,292.9 121.9,292.5 122.1,291.8 122.2,291 122.3,290.3 122.5,288 122.7,285.3 122.9,283.9 123.1,285.3 123.3,288 123.5,290.3 123.7,291.7 123.9,292.5 123.9,292.6 124.1,292.9 124.3,293 124.5,293.1 124.7,293.2 124.9,293.3 125,293.2 125.2,293.3 125.4,293.3 125.6,293.3 125.6,293.3 125.8,293.3 126,293.3 126.2,293.4 126.4,293.3 126.6,293.4 127.3,293.4 128.9,293.4 130.6,293.4 132.3,293.4 134,293.4 135.7,293.4 137.3,293.4 139,293.4 140.1,293.4 140.3,293.4 140.5,293.4 140.7,293.4 140.7,293.4 140.9,293.4 141.1,293.4 141.3,293.4 141.5,293.5 141.7,293.4 141.9,293.4 142.1,293.4 142.3,293.4 142.4,293.4 142.5,293.4 142.7,293.4 142.9,293.3 143.1,293.4 143.3,293.3 143.5,293.2 143.7,293.1 143.9,293 144.1,293 144.3,293 144.5,293.1 144.6,293.2 144.8,293.3 145,293.3 145.2,293.3 145.4,293.4 145.6,293.4 145.7,293.4 145.8,293.4 146,293.4 146.2,293.4 146.4,293.4 146.6,293.4 146.8,293.4 147,293.4 147.2,293.4 147.4,293.4 147.4,293.4 147.6,293.4 147.8,293.4 148,293.4 149.1,293.3 150.8,293.4 152.5,293.3 154.1,293.3 155.8,293.4 157.5,293.4 159.2,293.4 160.9,293.4 162.5,293.4 164.2,293.4 165.9,293.4 167.6,293.4 169.3,293.5 170.9,293.4 172.6,293.4 174.3,293.4 176,293.4 177.7,293.4 179.3,293.4 181,293.4 182.7,293.4 184.4,293.4 186.1,293.4 187.7,293.4 189.4,293.4 191.1,293.4" fill="none" stroke="#f08b90" stroke-width="1.25" stroke-linejoin="round" />
<polyline points="23.1,313.8 24.8,313.7 26.5,313.8 28.1,313.8 29.8,313.8 31.5,313.8 32.4,313.8 32.6,313.8 32.8,313.8 33,313.8 33.2,313.8 33.4,313.8 33.6,313.8 33.8,313.8 34,313.8 34.2,313.7 34.4,313.7 34.6,313.7 34.7,313.7 34.9,313.7 34.9,313.6 35.1,313.6 35.3,313.4 35.5,313.2 35.7,312.8 35.9,312.2 36.1,311.6 36.3,311.2 36.5,311.6 36.5,311.7 36.7,312.2 36.9,312.8 37.1,313.2 37.3,313.4 37.5,313.6 37.7,313.6 37.9,313.7 38.1,313.7 38.2,313.7 38.3,313.7 38.5,313.7 38.7,313.7 38.9,313.7 39.1,313.7 39.3,313.7 39.5,313.7 39.6,313.8 39.8,313.7 39.9,313.7 40,313.7 40.1,313.7 40.3,313.7 40.5,313.7 40.7,313.7 40.9,313.7 41.1,313.7 41.3,313.7 41.5,313.6 41.6,313.5 41.7,313.6 41.9,313.5 42.1,313.5 42.3,313.4 42.4,313.3 42.6,313 42.8,312.7 43,311.6 43.2,309.1 43.3,308.6 43.4,304.6 43.6,298.5 43.8,295 44,298.5 44.2,304.6 44.4,309.1 44.6,311.5 44.8,312.6 44.9,313 45,313.1 45.2,313.2 45.4,313.4 45.6,313.5 45.8,313.5 46,313.6 46.2,313.6 46.4,313.6 46.6,313.7 46.6,313.7 46.8,313.7 47,313.8 47.2,313.7 47.3,313.7 47.5,313.7 48.3,313.7 50,313.8 51.7,313.8 53.3,313.8 55,313.8 56.7,313.8 58.4,313.7 60.1,313.8 61.7,313.8 63.4,313.8 65.1,313.8 66.8,313.8 68.5,313.8 70.1,313.8 71.8,313.8 73.5,313.8 75.2,313.8 76.9,313.8 78.5,313.8 80.2,313.8 81.9,313.8 83.6,313.8 85.3,313.8 86.9,313.8 88.6,313.8 90.3,313.8 92,313.8 93.7,313.8 95.3,313.8 97,313.8 97.3,313.8 97.5,313.8 97.7,313.8 97.9,313.8 98.1,313.8 98.3,313.8 98.5,313.8 98.7,313.8 98.7,313.7 98.9,313.8 99.1,313.8 99.3,313.8 99.5,313.8 99.7,313.8 99.8,313.7 100,313.7 100.2,313.7 100.4,313.6 100.4,313.5 100.6,313.5 100.8,313.3 101,313.3 101.2,313.2 101.4,313.2 101.6,313.3 101.8,313.5 102,313.6 102.1,313.6 102.2,313.6 102.4,313.7 102.6,313.8 102.8,313.8 103,313.7 103.2,313.8 103.4,313.7 103.6,313.8 103.7,313.7 103.8,313.8 104,313.8 104.2,313.8 104.4,313.8 104.6,313.8 104.7,313.8 104.9,313.7 105.4,313.8 107.1,313.7 108.8,313.8 110.5,313.8 112.1,313.8 113.8,313.8 115.5,313.8 117.2,313.8 118.9,313.7 119,313.7 119.2,313.8 119.4,313.7 119.6,313.7 119.8,313.7 120,313.7 120.1,313.7 120.3,313.6 120.5,313.7 120.7,313.6 120.9,313.5 121.1,313.5 121.3,313.5 121.5,313.4 121.7,313.2 121.9,312.7 122.1,311.8 122.2,310.9 122.3,310 122.5,307.1 122.7,303.7 122.9,302 123.1,303.8 123.3,307.1 123.5,309.9 123.7,311.7 123.9,312.7 123.9,312.8 124.1,313.1 124.3,313.3 124.5,313.4 124.7,313.5 124.9,313.7 125,313.6 125.2,313.7 125.4,313.7 125.6,313.7 125.6,313.7 125.8,313.7 126,313.7 126.2,313.7 126.4,313.8 126.6,313.7 127.3,313.8 128.9,313.8 130.6,313.8 132.3,313.8 134,313.8 135.7,313.8 137.3,313.8 139,313.8 140.1,313.9 140.3,313.8 140.5,313.8 140.7,313.8 140.7,313.8 140.9,313.7 141.1,313.8 141.3,313.8 141.5,313.7 141.7,313.8 141.9,313.8 142.1,313.8 142.3,313.8 142.4,313.8 142.5,313.7 142.7,313.7 142.9,313.7 143.1,313.7 143.3,313.6 143.5,313.6 143.7,313.5 143.9,313.4 144.1,313.4 144.3,313.4 144.5,313.4 144.6,313.6 144.8,313.6 145,313.7 145.2,313.7 145.4,313.8 145.6,313.7 145.7,313.8 145.8,313.8 146,313.8 146.2,313.8 146.4,313.8 146.6,313.8 146.8,313.8 147,313.7 147.2,313.8 147.4,313.8 147.4,313.8 147.6,313.8 147.8,313.8 148,313.8 149.1,313.8 150.8,313.8 152.5,313.8 154.1,313.8 155.8,313.9 157.5,313.8 159.2,313.8 160.9,313.8 162.5,313.8 164.2,313.8 165.9,313.8 167.6,313.8 169.3,313.8 170.9,313.8 172.6,313.8 174.3,313.8 176,313.8 177.7,313.8 179.3,313.8 181,313.8 182.7,313.8 184.4,313.8 186.1,313.8 187.7,313.8 189.4,313.8 191.1,313.8" fill="none" stroke="#ec7479" stroke-width="1.25" stroke-linejoin="round" />
<polyline points="23.1,342 24.8,342 26.5,342 28.1,342 29.8,341.9 31.5,342 32.4,342 32.6,341.9 32.8,341.9 33,342 33.2,341.9 33.4,342 33.6,341.9 33.8,341.9 34,342 34.2,341.9 34.4,341.9 34.6,341.9 34.7,341.9 34.9,341.9 34.9,341.8 35.1,341.7 35.3,341.6 35.5,341.2 35.7,340.7 35.9,339.8 36.1,339.1 36.3,338.7 36.5,339.1 36.5,339.2 36.7,339.9 36.9,340.7 37.1,341.2 37.3,341.5 37.5,341.6 37.7,341.8 37.9,341.8 38.1,341.9 38.2,341.8 38.3,341.9 38.5,341.9 38.7,341.8 38.9,341.9 39.1,341.9 39.3,341.9 39.5,341.9 39.6,341.9 39.8,341.9 39.9,341.9 40,341.9 40.1,341.8 40.3,341.9 40.5,341.8 40.7,341.8 40.9,341.8 41.1,341.8 41.3,341.8 41.5,341.7 41.6,341.7 41.7,341.7 41.9,341.6 42.1,341.5 42.3,341.4 42.4,341.2 42.6,340.9 42.8,340.3 43,338.8 43.2,335.2 43.3,334.5 43.4,328.8 43.6,320.1 43.8,315 44,320.1 44.2,328.7 44.4,335.3 44.6,338.8 44.8,340.3 44.9,340.9 45,340.9 45.2,341.3 45.4,341.4 45.6,341.6 45.8,341.7 46,341.7 46.2,341.7 46.4,341.8 46.6,341.8 46.6,341.8 46.8,341.8 47,341.8 47.2,341.8 47.3,341.9 47.5,341.9 48.3,341.9 50,342 51.7,342 53.3,342 55,342 56.7,342 58.4,342 60.1,342 61.7,342 63.4,342.1 65.1,342 66.8,342 68.5,342 70.1,342 71.8,342.1 73.5,342 75.2,342 76.9,342 78.5,342 80.2,342 81.9,342 83.6,342 85.3,342 86.9,342 88.6,342 90.3,342 92,342 93.7,342 95.3,342 97,342 97.3,342 97.5,341.9 97.7,342 97.9,342 98.1,342 98.3,342 98.5,342 98.7,342 98.7,342 98.9,342 99.1,342 99.3,342 99.5,342 99.7,342 99.8,341.9 100,341.9 100.2,341.8 100.4,341.8 100.4,341.8 100.6,341.7 100.8,341.5 101,341.4 101.2,341.4 101.4,341.5 101.6,341.6 101.8,341.7 102,341.8 102.1,341.8 102.2,341.8 102.4,342 102.6,341.9 102.8,342 103,342 103.2,341.9 103.4,342 103.6,342 103.7,342 103.8,342 104,342 104.2,342.1 104.4,342 104.6,342 104.7,342 104.9,341.9 105.4,342 107.1,342 108.8,342 110.5,342 112.1,342 113.8,342 115.5,342 117.2,342 118.9,341.9 119,342 119.2,341.9 119.4,341.9 119.6,341.9 119.8,341.9 120,341.8 120.1,341.9 120.3,341.8 120.5,341.9 120.7,341.8 120.9,341.7 121.1,341.7 121.3,341.6 121.5,341.5 121.7,341.2 121.9,340.7 122.1,339.5 122.2,338.4 122.3,337.3 122.5,333.8 122.7,329.7 122.9,327.6 123.1,329.8 123.3,333.8 123.5,337.3 123.7,339.5 123.9,340.7 123.9,340.8 124.1,341.2 124.3,341.4 124.5,341.6 124.7,341.7 124.9,341.8 125,341.8 125.2,341.8 125.4,341.9 125.6,341.9 125.6,341.9 125.8,341.9 126,341.9 126.2,342 126.4,342 126.6,341.9 127.3,341.9 128.9,342 130.6,341.9 132.3,342 134,342 135.7,342 137.3,342 139,342 140.1,342 140.3,342 140.5,342 140.7,342 140.7,342 140.9,342 141.1,342 141.3,342 141.5,342 141.7,342 141.9,341.9 142.1,341.9 142.3,342 142.4,342 142.5,342 142.7,341.9 142.9,342 143.1,341.9 143.3,341.8 143.5,341.8 143.7,341.7 143.9,341.6 144.1,341.6 144.3,341.6 144.5,341.7 144.6,341.7 144.8,341.8 145,341.9 145.2,341.9 145.4,341.9 145.6,342 145.7,342 145.8,342 146,342 146.2,342 146.4,342 146.6,342 146.8,342 147,342 147.2,342 147.4,342 147.4,342 147.6,342 147.8,342 148,342 149.1,342 150.8,342 152.5,342 154.1,342 155.8,342 157.5,342 159.2,342 160.9,342 162.5,342 164.2,342 165.9,342 167.6,342 169.3,342 170.9,342 172.6,342 174.3,342 176,342 177.7,342 179.3,342 181,342 182.7,342 184.4,342 186.1,342 187.7,342 189.4,342 191.1,342" fill="none" stroke="#e8666c" stroke-width="1.25" stroke-linejoin="round" />
<polyline points="23.1,378 24.8,378.1 26.5,378.1 28.1,378.1 29.8,378.1 31.5,378.1 32.4,378 32.6,378 32.8,378.1 33,378 33.2,378.1 33.4,378.1 33.6,378 33.8,378.1 34,378 34.2,378 34.4,378 34.6,377.9 34.7,378 34.9,377.9 34.9,377.9 35.1,377.8 35.3,377.6 35.5,377.3 35.7,376.7 35.9,375.9 36.1,375.1 36.3,374.8 36.5,375.1 36.5,375.3 36.7,376 36.9,376.7 37.1,377.3 37.3,377.7 37.5,377.8 37.7,377.9 37.9,377.9 38.1,377.9 38.2,378 38.3,378 38.5,378 38.7,378 38.9,378 39.1,378 39.3,378 39.5,378 39.6,377.9 39.8,377.9 39.9,378 40,378 40.1,377.9 40.3,377.9 40.5,377.9 40.7,377.9 40.9,377.9 41.1,377.8 41.3,377.8 41.5,377.8 41.6,377.7 41.7,377.7 41.9,377.6 42.1,377.5 42.3,377.4 42.4,377.1 42.6,376.7 42.8,375.9 43,374 43.2,369.5 43.3,368.5 43.4,361.2 43.6,350.1 43.8,343.6 44,350.1 44.2,361.1 44.4,369.6 44.6,374.1 44.8,375.9 44.9,376.6 45,376.7 45.2,377.1 45.4,377.4 45.6,377.5 45.8,377.6 46,377.7 46.2,377.8 46.4,377.8 46.6,377.8 46.6,377.8 46.8,377.9 47,377.9 47.2,377.9 47.3,377.9 47.5,377.9 48.3,378 50,378 51.7,378.1 53.3,378.1 55,378.1 56.7,378.1 58.4,378.1 60.1,378 61.7,378.1 63.4,378.1 65.1,378.1 66.8,378.1 68.5,378.1 70.1,378.1 71.8,378.1 73.5,378.1 75.2,378 76.9,378.1 78.5,378.1 80.2,378.1 81.9,378.1 83.6,378.1 85.3,378.1 86.9,378.1 88.6,378.1 90.3,378.1 92,378.1 93.7,378.1 95.3,378.1 97,378 97.3,378.1 97.5,378.1 97.7,378.1 97.9,378.1 98.1,378.1 98.3,378.1 98.5,378.1 98.7,378 98.7,378.1 98.9,378.1 99.1,378 99.3,378.1 99.5,378 99.7,378.1 99.8,378 100,378 100.2,377.9 100.4,377.9 100.4,377.9 100.6,377.8 100.8,377.6 101,377.6 101.2,377.5 101.4,377.5 101.6,377.6 101.8,377.8 102,377.8 102.1,377.8 102.2,377.9 102.4,378 102.6,378 102.8,378.1 103,378.1 103.2,378.1 103.4,378.1 103.6,378.1 103.7,378.1 103.8,378.1 104,378.1 104.2,378.1 104.4,378.1 104.6,378.1 104.7,378.1 104.9,378.1 105.4,378.1 107.1,378.1 108.8,378 110.5,378.1 112.1,378.1 113.8,378.1 115.5,378 117.2,378.1 118.9,378 119,377.9 119.2,378 119.4,378 119.6,378 119.8,377.9 120,377.9 120.1,377.9 120.3,377.9 120.5,377.8 120.7,377.8 120.9,377.7 121.1,377.6 121.3,377.5 121.5,377.3 121.7,377 121.9,376.2 122.1,374.5 122.2,372.9 122.3,371.2 122.5,366.2 122.7,360.2 122.9,357.1 123.1,360.3 123.3,366.2 123.5,371.2 123.7,374.5 123.9,376.2 123.9,376.4 124.1,377 124.3,377.4 124.5,377.5 124.7,377.6 124.9,377.7 125,377.7 125.2,377.8 125.4,377.9 125.6,377.9 125.6,377.9 125.8,377.9 126,378 126.2,378 126.4,378 126.6,378 127.3,378 128.9,378 130.6,378 132.3,378.1 134,378.1 135.7,378.1 137.3,378.1 139,378 140.1,378.1 140.3,378.1 140.5,378 140.7,378.1 140.7,378.1 140.9,378.1 141.1,378.1 141.3,378.1 141.5,378 141.7,378.1 141.9,378.1 142.1,378.1 142.3,378.1 142.4,378.1 142.5,378 142.7,378 142.9,378 143.1,378 143.3,378 143.5,377.8 143.7,377.8 143.9,377.7 144.1,377.7 144.3,377.8 144.5,377.8 144.6,377.9 144.8,377.9 145,378 145.2,378 145.4,378.1 145.6,378.1 145.7,378.1 145.8,378.1 146,378.1 146.2,378 146.4,378.1 146.6,378 146.8,378.1 147,378.1 147.2,378.1 147.4,378.1 147.4,378.1 147.6,378.1 147.8,378.1 148,378.1 149.1,378.1 150.8,378.1 152.5,378.1 154.1,378.1 155.8,378.1 157.5,378.1 159.2,378.1 160.9,378 162.5,378.1 164.2,378.1 165.9,378.1 167.6,378.1 169.3,378.1 170.9,378.1 172.6,378.1 174.3,378.1 176,378.2 177.7,378.1 179.3,378.1 181,378.1 182.7,378.1 184.4,378.1 186.1,378.1 187.7,378.1 189.4,378.1 191.1,378" fill="none" stroke="#8c1b20" stroke-width="1.25" stroke-linejoin="round" />
<polyline points="23.1,406.3 24.8,406.3 26.5,406.3 28.1,406.3 29.8,406.2 31.5,406.3 32.4,406.3 32.6,406.3 32.8,406.2 33,406.3 33.2,406.3 33.4,406.2 33.6,406.3 33.8,406.2 34,406.2 34.2,406.2 34.4,406.1 34.6,406.2 34.7,406.1 34.9,406.1 34.9,406.1 35.1,405.9 35.3,405.8 35.5,405.4 35.7,404.8 35.9,403.9 36.1,403 36.3,402.5 36.5,402.9 36.5,403.1 36.7,403.9 36.9,404.8 37.1,405.4 37.3,405.8 37.5,406 37.7,406.1 37.9,406.1 38.1,406.2 38.2,406.2 38.3,406.1 38.5,406.2 38.7,406.2 38.9,406.2 39.1,406.2 39.3,406.1 39.5,406.3 39.6,406.2 39.8,406.2 39.9,406.2 40,406.1 40.1,406.2 40.3,406.2 40.5,406.1 40.7,406.2 40.9,406.1 41.1,406.1 41.3,406.1 41.5,406 41.6,406 41.7,405.9 41.9,405.9 42.1,405.8 42.3,405.7 42.4,405.5 42.6,405.2 42.8,404.5 43,403 43.2,399.4 43.3,398.7 43.4,392.8 43.6,384 43.8,378.8 44,384 44.2,392.8 44.4,399.5 44.6,403 44.8,404.6 44.9,405.1 45,405.2 45.2,405.5 45.4,405.7 45.6,405.8 45.8,405.9 46,406 46.2,406 46.4,406.1 46.6,406.1 46.6,406.1 46.8,406.1 47,406.2 47.2,406.1 47.3,406.2 47.5,406.2 48.3,406.2 50,406.3 51.7,406.3 53.3,406.3 55,406.3 56.7,406.3 58.4,406.3 60.1,406.2 61.7,406.3 63.4,406.3 65.1,406.3 66.8,406.3 68.5,406.3 70.1,406.3 71.8,406.3 73.5,406.3 75.2,406.3 76.9,406.3 78.5,406.3 80.2,406.3 81.9,406.3 83.6,406.3 85.3,406.3 86.9,406.3 88.6,406.3 90.3,406.3 92,406.2 93.7,406.3 95.3,406.3 97,406.3 97.3,406.2 97.5,406.3 97.7,406.3 97.9,406.3 98.1,406.3 98.3,406.3 98.5,406.3 98.7,406.3 98.7,406.3 98.9,406.3 99.1,406.3 99.3,406.3 99.5,406.2 99.7,406.2 99.8,406.2 100,406.2 100.2,406.1 100.4,406.1 100.4,406 100.6,405.9 100.8,405.9 101,405.8 101.2,405.7 101.4,405.7 101.6,405.9 101.8,405.9 102,406 102.1,406.1 102.2,406.1 102.4,406.2 102.6,406.3 102.8,406.2 103,406.3 103.2,406.3 103.4,406.3 103.6,406.3 103.7,406.3 103.8,406.3 104,406.3 104.2,406.3 104.4,406.3 104.6,406.3 104.7,406.3 104.9,406.3 105.4,406.3 107.1,406.4 108.8,406.3 110.5,406.3 112.1,406.3 113.8,406.3 115.5,406.2 117.2,406.3 118.9,406.2 119,406.2 119.2,406.2 119.4,406.2 119.6,406.2 119.8,406.2 120,406.2 120.1,406.1 120.3,406.1 120.5,406.1 120.7,406 120.9,406 121.1,405.9 121.3,405.9 121.5,405.7 121.7,405.4 121.9,404.9 122.1,403.6 122.2,402.3 122.3,401.2 122.5,397.3 122.7,393 122.9,390.5 123.1,392.8 123.3,397.4 123.5,401.1 123.7,403.6 123.9,404.8 123.9,405 124.1,405.4 124.3,405.7 124.5,405.8 124.7,405.9 124.9,406 125,406.1 125.2,406.1 125.4,406.1 125.6,406.1 125.6,406.1 125.8,406.2 126,406.2 126.2,406.2 126.4,406.2 126.6,406.2 127.3,406.3 128.9,406.3 130.6,406.3 132.3,406.2 134,406.3 135.7,406.3 137.3,406.3 139,406.3 140.1,406.3 140.3,406.3 140.5,406.3 140.7,406.3 140.7,406.3 140.9,406.3 141.1,406.3 141.3,406.3 141.5,406.3 141.7,406.2 141.9,406.3 142.1,406.3 142.3,406.3 142.4,406.3 142.5,406.3 142.7,406.2 142.9,406.2 143.1,406.2 143.3,406.1 143.5,406.1 143.7,406 143.9,406 144.1,405.9 144.3,405.9 144.5,406 144.6,406 144.8,406.1 145,406.1 145.2,406.3 145.4,406.2 145.6,406.3 145.7,406.3 145.8,406.3 146,406.3 146.2,406.3 146.4,406.3 146.6,406.4 146.8,406.3 147,406.3 147.2,406.3 147.4,406.3 147.4,406.3 147.6,406.3 147.8,406.2 148,406.3 149.1,406.3 150.8,406.3 152.5,406.3 154.1,406.3 155.8,406.3 157.5,406.2 159.2,406.3 160.9,406.3 162.5,406.4 164.2,406.3 165.9,406.3 167.6,406.4 169.3,406.3 170.9,406.3 172.6,406.3 174.3,406.2 176,406.3 177.7,406.3 179.3,406.3 181,406.3 182.7,406.3 184.4,406.3 186.1,406.3 187.7,406.3 189.4,406.3 191.1,406.3" fill="none" stroke="#87181d" stroke-width="1.25" stroke-linejoin="round" />
<polyline points="23.1,438.8 24.8,438.8 26.5,438.8 28.1,438.7 29.8,438.7 31.5,438.8 32.4,438.8 32.6,438.8 32.8,438.8 33,438.8 33.2,438.8 33.4,438.8 33.6,438.8 33.8,438.7 34,438.7 34.2,438.7 34.4,438.7 34.6,438.7 34.7,438.7 34.9,438.7 34.9,438.7 35.1,438.6 35.3,438.4 35.5,438.2 35.7,437.7 35.9,437.1 36.1,436.5 36.3,436.2 36.5,436.5 36.5,436.6 36.7,437.1 36.9,437.8 37.1,438.2 37.3,438.5 37.5,438.6 37.7,438.6 37.9,438.7 38.1,438.7 38.2,438.6 38.3,438.7 38.5,438.7 38.7,438.7 38.9,438.7 39.1,438.7 39.3,438.7 39.5,438.7 39.6,438.6 39.8,438.7 39.9,438.7 40,438.6 40.1,438.7 40.3,438.6 40.5,438.6 40.7,438.5 40.9,438.5 41.1,438.5 41.3,438.5 41.5,438.5 41.6,438.5 41.7,438.4 41.9,438.3 42.1,438.2 42.3,438.1 42.4,437.9 42.6,437.6 42.8,436.9 43,435.1 43.2,431.1 43.3,430.2 43.4,423.6 43.6,413.6 43.8,407.8 44,413.6 44.2,423.6 44.4,431 44.6,435.1 44.8,436.9 44.9,437.5 45,437.6 45.2,437.9 45.4,438.2 45.6,438.3 45.8,438.4 46,438.4 46.2,438.5 46.4,438.5 46.6,438.6 46.6,438.5 46.8,438.6 47,438.7 47.2,438.6 47.3,438.7 47.5,438.7 48.3,438.7 50,438.7 51.7,438.8 53.3,438.8 55,438.8 56.7,438.8 58.4,438.7 60.1,438.8 61.7,438.8 63.4,438.8 65.1,438.8 66.8,438.7 68.5,438.8 70.1,438.8 71.8,438.9 73.5,438.8 75.2,438.8 76.9,438.8 78.5,438.8 80.2,438.8 81.9,438.8 83.6,438.8 85.3,438.8 86.9,438.8 88.6,438.9 90.3,438.8 92,438.8 93.7,438.8 95.3,438.8 97,438.8 97.3,438.8 97.5,438.8 97.7,438.8 97.9,438.8 98.1,438.7 98.3,438.8 98.5,438.8 98.7,438.8 98.7,438.8 98.9,438.8 99.1,438.8 99.3,438.7 99.5,438.8 99.7,438.8 99.8,438.7 100,438.7 100.2,438.6 100.4,438.6 100.4,438.6 100.6,438.5 100.8,438.3 101,438.3 101.2,438.2 101.4,438.2 101.6,438.3 101.8,438.5 102,438.6 102.1,438.6 102.2,438.6 102.4,438.6 102.6,438.7 102.8,438.7 103,438.7 103.2,438.8 103.4,438.8 103.6,438.8 103.7,438.7 103.8,438.8 104,438.7 104.2,438.8 104.4,438.7 104.6,438.8 104.7,438.8 104.9,438.8 105.4,438.8 107.1,438.8 108.8,438.8 110.5,438.8 112.1,438.8 113.8,438.7 115.5,438.8 117.2,438.8 118.9,438.7 119,438.7 119.2,438.7 119.4,438.7 119.6,438.6 119.8,438.7 120,438.6 120.1,438.6 120.3,438.6 120.5,438.6 120.7,438.5 120.9,438.4 121.1,438.4 121.3,438.3 121.5,438 121.7,437.7 121.9,436.9 122.1,435.2 122.2,433.6 122.3,432 122.5,427 122.7,421.2 122.9,417.9 123.1,421.2 123.3,427 123.5,432 123.7,435.2 123.9,437 123.9,437 124.1,437.7 124.3,438 124.5,438.2 124.7,438.3 124.9,438.4 125,438.5 125.2,438.6 125.4,438.6 125.6,438.6 125.6,438.6 125.8,438.7 126,438.6 126.2,438.7 126.4,438.7 126.6,438.7 127.3,438.7 128.9,438.8 130.6,438.8 132.3,438.8 134,438.9 135.7,438.8 137.3,438.8 139,438.8 140.1,438.8 140.3,438.8 140.5,438.8 140.7,438.8 140.7,438.7 140.9,438.8 141.1,438.8 141.3,438.8 141.5,438.8 141.7,438.8 141.9,438.9 142.1,438.8 142.3,438.8 142.4,438.8 142.5,438.7 142.7,438.7 142.9,438.7 143.1,438.7 143.3,438.7 143.5,438.5 143.7,438.5 143.9,438.4 144.1,438.4 144.3,438.4 144.5,438.5 144.6,438.6 144.8,438.6 145,438.7 145.2,438.7 145.4,438.8 145.6,438.7 145.7,438.7 145.8,438.8 146,438.8 146.2,438.8 146.4,438.8 146.6,438.8 146.8,438.8 147,438.8 147.2,438.8 147.4,438.8 147.4,438.8 147.6,438.8 147.8,438.8 148,438.7 149.1,438.8 150.8,438.8 152.5,438.8 154.1,438.8 155.8,438.8 157.5,438.8 159.2,438.8 160.9,438.8 162.5,438.8 164.2,438.8 165.9,438.8 167.6,438.8 169.3,438.8 170.9,438.8 172.6,438.8 174.3,438.8 176,438.8 177.7,438.8 179.3,438.8 181,438.8 182.7,438.8 184.4,438.8 186.1,438.8 187.7,438.8 189.4,438.8 191.1,438.8" fill="none" stroke="#82151a" stroke-width="1.25" stroke-linejoin="round" />
<polyline points="23.1,478.8 24.8,478.8 26.5,478.8 28.1,478.7 29.8,478.7 31.5,478.7 32.4,478.7 32.6,478.8 32.8,478.7 33,478.7 33.2,478.7 33.4,478.7 33.6,478.7 33.8,478.7 34,478.8 34.2,478.7 34.4,478.7 34.6,478.6 34.7,478.6 34.9,478.6 34.9,478.6 35.1,478.5 35.3,478.3 35.5,477.8 35.7,477.3 35.9,476.4 36.1,475.5 36.3,474.9 36.5,475.5 36.5,475.5 36.7,476.4 36.9,477.2 37.1,477.9 37.3,478.3 37.5,478.5 37.7,478.5 37.9,478.6 38.1,478.6 38.2,478.6 38.3,478.6 38.5,478.6 38.7,478.7 38.9,478.6 39.1,478.7 39.3,478.7 39.5,478.7 39.6,478.7 39.8,478.7 39.9,478.6 40,478.7 40.1,478.6 40.3,478.6 40.5,478.6 40.7,478.5 40.9,478.5 41.1,478.5 41.3,478.5 41.5,478.4 41.6,478.4 41.7,478.3 41.9,478.2 42.1,478.1 42.3,478 42.4,477.7 42.6,477.3 42.8,476.5 43,474.3 43.2,469.3 43.3,468.3 43.4,460 43.6,448 43.8,440.8 44,447.9 44.2,460.1 44.4,469.3 44.6,474.3 44.8,476.5 44.9,477.2 45,477.3 45.2,477.7 45.4,478 45.6,478.1 45.8,478.2 46,478.3 46.2,478.4 46.4,478.5 46.6,478.6 46.6,478.5 46.8,478.5 47,478.6 47.2,478.5 47.3,478.6 47.5,478.6 48.3,478.7 50,478.7 51.7,478.8 53.3,478.8 55,478.8 56.7,478.7 58.4,478.8 60.1,478.8 61.7,478.8 63.4,478.8 65.1,478.8 66.8,478.9 68.5,478.8 70.1,478.8 71.8,478.8 73.5,478.8 75.2,478.8 76.9,478.9 78.5,478.8 80.2,478.8 81.9,478.8 83.6,478.8 85.3,478.8 86.9,478.7 88.6,478.8 90.3,478.7 92,478.8 93.7,478.8 95.3,478.8 97,478.8 97.3,478.8 97.5,478.8 97.7,478.8 97.9,478.8 98.1,478.8 98.3,478.8 98.5,478.8 98.7,478.8 98.7,478.8 98.9,478.8 99.1,478.8 99.3,478.8 99.5,478.7 99.7,478.7 99.8,478.8 100,478.7 100.2,478.7 100.4,478.6 100.4,478.5 100.6,478.4 100.8,478.4 101,478.3 101.2,478.2 101.4,478.2 101.6,478.3 101.8,478.5 102,478.5 102.1,478.6 102.2,478.6 102.4,478.7 102.6,478.7 102.8,478.8 103,478.7 103.2,478.8 103.4,478.8 103.6,478.8 103.7,478.7 103.8,478.8 104,478.8 104.2,478.8 104.4,478.8 104.6,478.8 104.7,478.8 104.9,478.8 105.4,478.8 107.1,478.7 108.8,478.8 110.5,478.8 112.1,478.8 113.8,478.8 115.5,478.8 117.2,478.8 118.9,478.7 119,478.7 119.2,478.7 119.4,478.7 119.6,478.7 119.8,478.7 120,478.6 120.1,478.6 120.3,478.6 120.5,478.5 120.7,478.5 120.9,478.4 121.1,478.3 121.3,478.3 121.5,478.1 121.7,477.7 121.9,477 122.1,475.5 122.2,474 122.3,472.5 122.5,467.8 122.7,462.3 122.9,459.6 123.1,462.3 123.3,467.8 123.5,472.5 123.7,475.5 123.9,477 123.9,477.2 124.1,477.7 124.3,478.1 124.5,478.2 124.7,478.3 124.9,478.5 125,478.5 125.2,478.6 125.4,478.6 125.6,478.6 125.6,478.6 125.8,478.6 126,478.7 126.2,478.7 126.4,478.7 126.6,478.7 127.3,478.8 128.9,478.8 130.6,478.8 132.3,478.8 134,478.8 135.7,478.8 137.3,478.8 139,478.8 140.1,478.8 140.3,478.7 140.5,478.8 140.7,478.8 140.7,478.8 140.9,478.8 141.1,478.8 141.3,478.8 141.5,478.8 141.7,478.8 141.9,478.8 142.1,478.8 142.3,478.8 142.4,478.8 142.5,478.8 142.7,478.8 142.9,478.7 143.1,478.7 143.3,478.6 143.5,478.6 143.7,478.5 143.9,478.4 144.1,478.4 144.3,478.4 144.5,478.5 144.6,478.6 144.8,478.6 145,478.7 145.2,478.8 145.4,478.8 145.6,478.8 145.7,478.8 145.8,478.8 146,478.8 146.2,478.8 146.4,478.8 146.6,478.8 146.8,478.8 147,478.8 147.2,478.8 147.4,478.8 147.4,478.8 147.6,478.8 147.8,478.8 148,478.8 149.1,478.8 150.8,478.8 152.5,478.8 154.1,478.8 155.8,478.8 157.5,478.8 159.2,478.8 160.9,478.7 162.5,478.8 164.2,478.8 165.9,478.8 167.6,478.8 169.3,478.8 170.9,478.8 172.6,478.8 174.3,478.7 176,478.8 177.7,478.8 179.3,478.9 181,478.8 182.7,478.8 184.4,478.8 186.1,478.8 187.7,478.8 189.4,478.8 191.1,478.8" fill="none" stroke="#7c1216" stroke-width="1.25" stroke-linejoin="round" />
<rect x="23.2" y="267.9" width="167.4" height="216.6" fill="none" stroke="#000" stroke-width="1.6"/>
<line x1="20.6" y1="478.75" x2="23.2" y2="478.75" stroke="#000" stroke-width="1" />
<text x="13.21" y="481.5" font-size="9.71" fill="#000" stroke="#000" stroke-width="0.3" font-weight="bold" textLength="4.9" lengthAdjust="spacingAndGlyphs">0</text>
<line x1="20.6" y1="443.75" x2="23.2" y2="443.75" stroke="#000" stroke-width="1" />
<text x="13.21" y="446.55" font-size="9.71" fill="#000" stroke="#000" stroke-width="0.3" font-weight="bold" textLength="4.9" lengthAdjust="spacingAndGlyphs">2</text>
<line x1="20.6" y1="408.75" x2="23.2" y2="408.75" stroke="#000" stroke-width="1" />
<text x="12.91" y="411.5" font-size="9.71" fill="#000" stroke="#000" stroke-width="0.3" font-weight="bold" textLength="4.9" lengthAdjust="spacingAndGlyphs">4</text>
<line x1="20.6" y1="373.75" x2="23.2" y2="373.75" stroke="#000" stroke-width="1" />
<text x="13.17" y="376.5" font-size="9.71" fill="#000" stroke="#000" stroke-width="0.3" font-weight="bold" textLength="4.9" lengthAdjust="spacingAndGlyphs">6</text>
<line x1="20.6" y1="338.75" x2="23.2" y2="338.75" stroke="#000" stroke-width="1" />
<text x="13.13" y="341.5" font-size="9.71" fill="#000" stroke="#000" stroke-width="0.3" font-weight="bold" textLength="4.9" lengthAdjust="spacingAndGlyphs">8</text>
<line x1="20.6" y1="303.75" x2="23.2" y2="303.75" stroke="#000" stroke-width="1" />
<text x="8.33" y="306.5" font-size="9.71" fill="#000" stroke="#000" stroke-width="0.3" font-weight="bold" textLength="9.8" lengthAdjust="spacingAndGlyphs">10</text>
<line x1="20.6" y1="268.75" x2="23.2" y2="268.75" stroke="#000" stroke-width="1" />
<text x="8.33" y="271.55" font-size="9.71" fill="#000" stroke="#000" stroke-width="0.3" font-weight="bold" textLength="9.8" lengthAdjust="spacingAndGlyphs">12</text>
<line x1="21.6" y1="461.25" x2="23.2" y2="461.25" stroke="#000" stroke-width="1" />
<line x1="21.6" y1="426.25" x2="23.2" y2="426.25" stroke="#000" stroke-width="1" />
<line x1="21.6" y1="391.25" x2="23.2" y2="391.25" stroke="#000" stroke-width="1" />
<line x1="21.6" y1="356.25" x2="23.2" y2="356.25" stroke="#000" stroke-width="1" />
<line x1="21.6" y1="321.25" x2="23.2" y2="321.25" stroke="#000" stroke-width="1" />
<line x1="21.6" y1="286.25" x2="23.2" y2="286.25" stroke="#000" stroke-width="1" />
<line x1="23.1" y1="484.5" x2="23.1" y2="486.7" stroke="#000" stroke-width="1" />
<text x="18.6" y="495.8" font-size="8.57" fill="#000" stroke="#000" stroke-width="0.3" font-weight="bold" textLength="8.81" lengthAdjust="spacingAndGlyphs">10</text>
<line x1="51.1" y1="484.5" x2="51.1" y2="486.7" stroke="#000" stroke-width="1" />
<text x="46.54" y="495.71" font-size="8.57" fill="#000" stroke="#000" stroke-width="0.3" font-weight="bold" textLength="8.81" lengthAdjust="spacingAndGlyphs">15</text>
<line x1="79.1" y1="484.5" x2="79.1" y2="486.7" stroke="#000" stroke-width="1" />
<text x="74.72" y="495.8" font-size="8.57" fill="#000" stroke="#000" stroke-width="0.3" font-weight="bold" textLength="8.81" lengthAdjust="spacingAndGlyphs">20</text>
<line x1="107.1" y1="484.5" x2="107.1" y2="486.7" stroke="#000" stroke-width="1" />
<text x="102.66" y="495.8" font-size="8.57" fill="#000" stroke="#000" stroke-width="0.3" font-weight="bold" textLength="8.81" lengthAdjust="spacingAndGlyphs">25</text>
<line x1="135.1" y1="484.5" x2="135.1" y2="486.7" stroke="#000" stroke-width="1" />
<text x="130.76" y="495.8" font-size="8.57" fill="#000" stroke="#000" stroke-width="0.3" font-weight="bold" textLength="8.81" lengthAdjust="spacingAndGlyphs">30</text>
<line x1="163.1" y1="484.5" x2="163.1" y2="486.7" stroke="#000" stroke-width="1" />
<text x="158.7" y="495.8" font-size="8.57" fill="#000" stroke="#000" stroke-width="0.3" font-weight="bold" textLength="8.81" lengthAdjust="spacingAndGlyphs">35</text>
<line x1="191.1" y1="484.5" x2="191.1" y2="486.7" stroke="#000" stroke-width="1" />
<text x="186.8" y="495.8" font-size="8.57" fill="#000" stroke="#000" stroke-width="0.3" font-weight="bold" textLength="8.81" lengthAdjust="spacingAndGlyphs">40</text>
<line x1="37.1" y1="484.5" x2="37.1" y2="485.9" stroke="#000" stroke-width="1" />
<line x1="65.1" y1="484.5" x2="65.1" y2="485.9" stroke="#000" stroke-width="1" />
<line x1="93.1" y1="484.5" x2="93.1" y2="485.9" stroke="#000" stroke-width="1" />
<line x1="121.1" y1="484.5" x2="121.1" y2="485.9" stroke="#000" stroke-width="1" />
<line x1="149.1" y1="484.5" x2="149.1" y2="485.9" stroke="#000" stroke-width="1" />
<line x1="177.1" y1="484.5" x2="177.1" y2="485.9" stroke="#000" stroke-width="1" />
<text x="169.8" y="290.55" font-size="7.84" fill="#9b1b22" stroke="#9b1b22" stroke-width="0.2" font-weight="bold">300h</text>
<text x="169.72" y="311.46" font-size="7.87" fill="#9b1b22" stroke="#9b1b22" stroke-width="0.2" font-weight="bold">204h</text>
<text x="169.48" y="340.6" font-size="7.98" fill="#9b1b22" stroke="#9b1b22" stroke-width="0.2" font-weight="bold">108h</text>
<text x="174.12" y="375.57" font-size="7.88" fill="#9b1b22" stroke="#9b1b22" stroke-width="0.2" font-weight="bold">60h</text>
<text x="174.2" y="404.35" font-size="7.83" fill="#9b1b22" stroke="#9b1b22" stroke-width="0.2" font-weight="bold">36h</text>
<text x="173.88" y="437.62" font-size="8.03" fill="#9b1b22" stroke="#9b1b22" stroke-width="0.2" font-weight="bold">18h</text>
<text x="178.48" y="477.47" font-size="7.89" fill="#9b1b22" stroke="#9b1b22" stroke-width="0.2" font-weight="bold">0h</text>
<text x="163.22" y="278.82" font-size="8.41" fill="#9b1b22" stroke="#9b1b22" stroke-width="0.2" font-weight="bold">Target</text>
<text x="10.8" y="430.24" font-size="11.79" transform="rotate(-90 10.8 430.24)" fill="#000" stroke="#000" stroke-width="0.2" font-weight="bold" textLength="109.48" lengthAdjust="spacingAndGlyphs">Intensity (arb. units)</text>
<text x="75.91" y="504" font-size="10.62" fill="#000" stroke="#000" stroke-width="0.2" font-weight="bold" textLength="51.32" lengthAdjust="spacingAndGlyphs" >2Theta (°)</text>
<polyline points="230.9,43.1 240.1,35.3 249.2,43.8 258.7,54.3 268.2,46 277.2,39.3 286.4,47 305.1,52.8 323.6,58 342.3,90 360.5,143.3" fill="none" stroke="#2b5b8b" stroke-width="1.7" stroke-linejoin="round" />
<circle cx="230.9" cy="43.1" r="2.55" fill="#2b5b8b"/>
<circle cx="230.5" cy="42.6" r="0.6" fill="#fff" opacity="0.9"/>
<circle cx="240.1" cy="35.3" r="2.55" fill="#2b5b8b"/>
<circle cx="239.7" cy="34.8" r="0.6" fill="#fff" opacity="0.9"/>
<circle cx="249.2" cy="43.8" r="2.55" fill="#2b5b8b"/>
<circle cx="248.8" cy="43.3" r="0.6" fill="#fff" opacity="0.9"/>
<circle cx="258.7" cy="54.3" r="2.55" fill="#2b5b8b"/>
<circle cx="258.3" cy="53.8" r="0.6" fill="#fff" opacity="0.9"/>
<circle cx="268.2" cy="46" r="2.55" fill="#2b5b8b"/>
<circle cx="267.8" cy="45.5" r="0.6" fill="#fff" opacity="0.9"/>
<circle cx="277.2" cy="39.3" r="2.55" fill="#2b5b8b"/>
<circle cx="276.8" cy="38.8" r="0.6" fill="#fff" opacity="0.9"/>
<circle cx="286.4" cy="47" r="2.55" fill="#2b5b8b"/>
<circle cx="286" cy="46.5" r="0.6" fill="#fff" opacity="0.9"/>
<circle cx="305.1" cy="52.8" r="2.55" fill="#2b5b8b"/>
<circle cx="304.7" cy="52.3" r="0.6" fill="#fff" opacity="0.9"/>
<circle cx="323.6" cy="58" r="2.55" fill="#2b5b8b"/>
<circle cx="323.2" cy="57.5" r="0.6" fill="#fff" opacity="0.9"/>
<circle cx="342.3" cy="90" r="2.55" fill="#2b5b8b"/>
<circle cx="341.9" cy="89.5" r="0.6" fill="#fff" opacity="0.9"/>
<circle cx="360.5" cy="143.3" r="2.55" fill="#2b5b8b"/>
<circle cx="360.1" cy="142.8" r="0.6" fill="#fff" opacity="0.9"/>
<polyline points="230.9,43.1 240.1,38.1 249.2,42.6 258.7,39.7 268.2,40.9 277.2,42.6 286.4,46.4 305.1,40.9 323.6,43 342.3,41.3 360.7,46.3 379,44.3 397.5,45.3 416.1,48.4 434.5,48.1" fill="none" stroke="#a5151c" stroke-width="1.7" stroke-linejoin="round" />
<circle cx="230.9" cy="43.1" r="2.55" fill="#a5151c"/>
<circle cx="230.5" cy="42.6" r="0.6" fill="#fff" opacity="0.9"/>
<circle cx="240.1" cy="38.1" r="2.55" fill="#a5151c"/>
<circle cx="239.7" cy="37.6" r="0.6" fill="#fff" opacity="0.9"/>
<circle cx="249.2" cy="42.6" r="2.55" fill="#a5151c"/>
<circle cx="248.8" cy="42.1" r="0.6" fill="#fff" opacity="0.9"/>
<circle cx="258.7" cy="39.7" r="2.55" fill="#a5151c"/>
<circle cx="258.3" cy="39.2" r="0.6" fill="#fff" opacity="0.9"/>
<circle cx="268.2" cy="40.9" r="2.55" fill="#a5151c"/>
<circle cx="267.8" cy="40.4" r="0.6" fill="#fff" opacity="0.9"/>
<circle cx="277.2" cy="42.6" r="2.55" fill="#a5151c"/>
<circle cx="276.8" cy="42.1" r="0.6" fill="#fff" opacity="0.9"/>
<circle cx="286.4" cy="46.4" r="2.55" fill="#a5151c"/>
<circle cx="286" cy="45.9" r="0.6" fill="#fff" opacity="0.9"/>
<circle cx="305.1" cy="40.9" r="2.55" fill="#a5151c"/>
<circle cx="304.7" cy="40.4" r="0.6" fill="#fff" opacity="0.9"/>
<circle cx="323.6" cy="43" r="2.55" fill="#a5151c"/>
<circle cx="323.2" cy="42.5" r="0.6" fill="#fff" opacity="0.9"/>
<circle cx="342.3" cy="41.3" r="2.55" fill="#a5151c"/>
<circle cx="341.9" cy="40.8" r="0.6" fill="#fff" opacity="0.9"/>
<circle cx="360.7" cy="46.3" r="2.55" fill="#a5151c"/>
<circle cx="360.3" cy="45.8" r="0.6" fill="#fff" opacity="0.9"/>
<circle cx="379" cy="44.3" r="2.55" fill="#a5151c"/>
<circle cx="378.6" cy="43.8" r="0.6" fill="#fff" opacity="0.9"/>
<circle cx="397.5" cy="45.3" r="2.55" fill="#a5151c"/>
<circle cx="397.1" cy="44.8" r="0.6" fill="#fff" opacity="0.9"/>
<circle cx="416.1" cy="48.4" r="2.55" fill="#a5151c"/>
<circle cx="415.7" cy="47.9" r="0.6" fill="#fff" opacity="0.9"/>
<circle cx="434.5" cy="48.1" r="2.55" fill="#a5151c"/>
<circle cx="434.1" cy="47.6" r="0.6" fill="#fff" opacity="0.9"/>
<rect x="228.3" y="17.2" width="208.7" height="130.3" fill="none" stroke="#000" stroke-width="1.6"/>
<line x1="226.1" y1="147.1" x2="228.3" y2="147.1" stroke="#000" stroke-width="1" />
<text x="213.21" y="149.02" font-size="5.57" fill="#000" stroke="#000" stroke-width="0.3" font-weight="bold" textLength="11.12" lengthAdjust="spacingAndGlyphs">0.80</text>
<line x1="226.1" y1="121.1" x2="228.3" y2="121.1" stroke="#000" stroke-width="1" />
<text x="213.13" y="123.02" font-size="5.57" fill="#000" stroke="#000" stroke-width="0.3" font-weight="bold" textLength="11.12" lengthAdjust="spacingAndGlyphs">0.85</text>
<line x1="226.1" y1="95.1" x2="228.3" y2="95.1" stroke="#000" stroke-width="1" />
<text x="213.21" y="97.02" font-size="5.57" fill="#000" stroke="#000" stroke-width="0.3" font-weight="bold" textLength="11.12" lengthAdjust="spacingAndGlyphs">0.90</text>
<line x1="226.1" y1="69.1" x2="228.3" y2="69.1" stroke="#000" stroke-width="1" />
<text x="213.13" y="71.02" font-size="5.57" fill="#000" stroke="#000" stroke-width="0.3" font-weight="bold" textLength="11.12" lengthAdjust="spacingAndGlyphs">0.95</text>
<line x1="226.1" y1="43.1" x2="228.3" y2="43.1" stroke="#000" stroke-width="1" />
<text x="213.21" y="45.02" font-size="5.57" fill="#000" stroke="#000" stroke-width="0.3" font-weight="bold" textLength="11.12" lengthAdjust="spacingAndGlyphs">1.00</text>
<line x1="226.1" y1="17.1" x2="228.3" y2="17.1" stroke="#000" stroke-width="1" />
<text x="213.13" y="19.02" font-size="5.57" fill="#000" stroke="#000" stroke-width="0.3" font-weight="bold" textLength="11.12" lengthAdjust="spacingAndGlyphs">1.05</text>
<line x1="227" y1="134.1" x2="228.3" y2="134.1" stroke="#000" stroke-width="1" />
<line x1="227" y1="108.1" x2="228.3" y2="108.1" stroke="#000" stroke-width="1" />
<line x1="227" y1="82.1" x2="228.3" y2="82.1" stroke="#000" stroke-width="1" />
<line x1="227" y1="56.1" x2="228.3" y2="56.1" stroke="#000" stroke-width="1" />
<line x1="227" y1="30.1" x2="228.3" y2="30.1" stroke="#000" stroke-width="1" />
<line x1="230.9" y1="147.5" x2="230.9" y2="149.5" stroke="#000" stroke-width="1" />
<text x="229.02" y="157" font-size="6.57" fill="#000" stroke="#000" stroke-width="0.3" font-weight="bold" textLength="3.78" lengthAdjust="spacingAndGlyphs">0</text>
<line x1="256.68" y1="147.5" x2="256.68" y2="149.5" stroke="#000" stroke-width="1" />
<text x="251.04" y="157" font-size="6.57" fill="#000" stroke="#000" stroke-width="0.3" font-weight="bold" textLength="11.33" lengthAdjust="spacingAndGlyphs">200</text>
<line x1="282.46" y1="147.5" x2="282.46" y2="149.5" stroke="#000" stroke-width="1" />
<text x="276.89" y="157" font-size="6.57" fill="#000" stroke="#000" stroke-width="0.3" font-weight="bold" textLength="11.33" lengthAdjust="spacingAndGlyphs">400</text>
<line x1="308.24" y1="147.5" x2="308.24" y2="149.5" stroke="#000" stroke-width="1" />
<text x="302.6" y="157" font-size="6.57" fill="#000" stroke="#000" stroke-width="0.3" font-weight="bold" textLength="11.33" lengthAdjust="spacingAndGlyphs">600</text>
<line x1="334.02" y1="147.5" x2="334.02" y2="149.5" stroke="#000" stroke-width="1" />
<text x="328.4" y="157" font-size="6.57" fill="#000" stroke="#000" stroke-width="0.3" font-weight="bold" textLength="11.33" lengthAdjust="spacingAndGlyphs">800</text>
<line x1="359.8" y1="147.5" x2="359.8" y2="149.5" stroke="#000" stroke-width="1" />
<text x="352.16" y="157" font-size="6.57" fill="#000" stroke="#000" stroke-width="0.3" font-weight="bold" textLength="15.11" lengthAdjust="spacingAndGlyphs">1000</text>
<line x1="385.58" y1="147.5" x2="385.58" y2="149.5" stroke="#000" stroke-width="1" />
<text x="377.94" y="157" font-size="6.57" fill="#000" stroke="#000" stroke-width="0.3" font-weight="bold" textLength="15.11" lengthAdjust="spacingAndGlyphs">1200</text>
<line x1="411.36" y1="147.5" x2="411.36" y2="149.5" stroke="#000" stroke-width="1" />
<text x="403.72" y="157" font-size="6.57" fill="#000" stroke="#000" stroke-width="0.3" font-weight="bold" textLength="15.11" lengthAdjust="spacingAndGlyphs">1400</text>
<line x1="437.14" y1="147.5" x2="437.14" y2="149.5" stroke="#000" stroke-width="1" />
<text x="429.5" y="157" font-size="6.57" fill="#000" stroke="#000" stroke-width="0.3" font-weight="bold" textLength="15.11" lengthAdjust="spacingAndGlyphs">1600</text>
<line x1="243.79" y1="147.5" x2="243.79" y2="148.8" stroke="#000" stroke-width="1" />
<line x1="269.57" y1="147.5" x2="269.57" y2="148.8" stroke="#000" stroke-width="1" />
<line x1="295.35" y1="147.5" x2="295.35" y2="148.8" stroke="#000" stroke-width="1" />
<line x1="321.13" y1="147.5" x2="321.13" y2="148.8" stroke="#000" stroke-width="1" />
<line x1="346.91" y1="147.5" x2="346.91" y2="148.8" stroke="#000" stroke-width="1" />
<line x1="372.69" y1="147.5" x2="372.69" y2="148.8" stroke="#000" stroke-width="1" />
<line x1="398.47" y1="147.5" x2="398.47" y2="148.8" stroke="#000" stroke-width="1" />
<line x1="424.25" y1="147.5" x2="424.25" y2="148.8" stroke="#000" stroke-width="1" />
<text x="212.6" y="126.07" font-size="11.59" transform="rotate(-90 212.6 126.07)" fill="#000" stroke="#000" stroke-width="0.2" font-weight="bold" textLength="79.78" lengthAdjust="spacingAndGlyphs">Normalized PCE</text>
<text x="307.9" y="168.9" font-size="10.62" fill="#000" stroke="#000" stroke-width="0.2" font-weight="bold" textLength="33.22" lengthAdjust="spacingAndGlyphs" >Time/h</text>
<line x1="232.2" y1="127.9" x2="248.6" y2="127.9" stroke="#2b5b8b" stroke-width="1.8" />
<circle cx="239.8" cy="127.9" r="2.6" fill="#2b5b8b"/>
<circle cx="239.8" cy="127.9" r="0.55" fill="#fff" opacity="0.9"/>
<line x1="232.2" y1="137.7" x2="248.6" y2="137.7" stroke="#a5151c" stroke-width="1.8" />
<circle cx="239.8" cy="137.7" r="2.6" fill="#a5151c"/>
<circle cx="239.8" cy="137.7" r="0.55" fill="#fff" opacity="0.9"/>
<text x="250.88" y="130.7" font-size="8.14" fill="#2b5b8b" stroke="#2b5b8b" stroke-width="0.2" font-weight="bold" >Control</text>
<text x="251.12" y="140.3" font-size="7.83" fill="#a5151c" stroke="#a5151c" stroke-width="0.2" font-weight="bold" textLength="24.08" lengthAdjust="spacingAndGlyphs" >Target</text>
<text x="351.48" y="26.2" font-size="6.34" fill="#000" stroke="#000" stroke-width="0.2" font-weight="bold" textLength="80.91" lengthAdjust="spacingAndGlyphs" >Unencapsulated devices</text>
<text x="351.49" y="35" font-size="6.76" fill="#000" stroke="#000" stroke-width="0.2" font-weight="bold" textLength="76.9" lengthAdjust="spacingAndGlyphs" >Under 20-40% RH 25 °C</text>
<text x="394.68" y="61.8" font-size="7.71" fill="#a5151c" stroke="#a5151c" stroke-width="0.2" font-weight="bold" textLength="34.31" lengthAdjust="spacingAndGlyphs" >~98.98 %</text>
<line x1="468.5" y1="80.5" x2="651" y2="80.5" stroke="#ee7c82" stroke-width="1" stroke-dasharray="4.9,2.1,1,1.7"/>
<circle cx="469" cy="37.39" r="1.7" fill="#eab0b6" stroke="#c4434d" stroke-width="1.15" opacity="1"/>
<circle cx="472.3" cy="38.25" r="1.7" fill="#eab0b6" stroke="#c4434d" stroke-width="1.15" opacity="1"/>
<circle cx="475.6" cy="39.11" r="1.7" fill="#eab0b6" stroke="#c4434d" stroke-width="1.15" opacity="1"/>
<circle cx="478.9" cy="39.97" r="1.7" fill="#eab0b6" stroke="#c4434d" stroke-width="1.15" opacity="1"/>
<circle cx="482.2" cy="40.83" r="1.7" fill="#eab0b6" stroke="#c4434d" stroke-width="1.15" opacity="1"/>
<circle cx="485.5" cy="41.69" r="1.7" fill="#eab0b6" stroke="#c4434d" stroke-width="1.15" opacity="1"/>
<circle cx="488.8" cy="42.55" r="1.7" fill="#eab0b6" stroke="#c4434d" stroke-width="1.15" opacity="1"/>
<circle cx="492.1" cy="43.41" r="1.7" fill="#eab0b6" stroke="#c4434d" stroke-width="1.15" opacity="1"/>
<circle cx="495.4" cy="44.27" r="1.7" fill="#eab0b6" stroke="#c4434d" stroke-width="1.15" opacity="1"/>
<circle cx="498.7" cy="45.13" r="1.7" fill="#eab0b6" stroke="#c4434d" stroke-width="1.15" opacity="1"/>
<circle cx="502" cy="45.99" r="1.7" fill="#eab0b6" stroke="#c4434d" stroke-width="1.15" opacity="1"/>
<circle cx="505.3" cy="46.85" r="1.7" fill="#eab0b6" stroke="#c4434d" stroke-width="1.15" opacity="1"/>
<circle cx="508.6" cy="47.71" r="1.7" fill="#eab0b6" stroke="#c4434d" stroke-width="1.15" opacity="1"/>
<circle cx="511.9" cy="48.57" r="1.7" fill="#eab0b6" stroke="#c4434d" stroke-width="1.15" opacity="1"/>
<circle cx="515.2" cy="49.43" r="1.7" fill="#eab0b6" stroke="#c4434d" stroke-width="1.15" opacity="1"/>
<circle cx="518.5" cy="50.29" r="1.7" fill="#eab0b6" stroke="#c4434d" stroke-width="1.15" opacity="1"/>
<circle cx="521.8" cy="51.15" r="1.7" fill="#eab0b6" stroke="#c4434d" stroke-width="1.15" opacity="1"/>
<circle cx="525.1" cy="52" r="1.7" fill="#eab0b6" stroke="#c4434d" stroke-width="1.15" opacity="1"/>
<circle cx="528.4" cy="52.86" r="1.7" fill="#eab0b6" stroke="#c4434d" stroke-width="1.15" opacity="1"/>
<circle cx="531.7" cy="53.72" r="1.7" fill="#eab0b6" stroke="#c4434d" stroke-width="1.15" opacity="1"/>
<circle cx="535" cy="54.58" r="1.7" fill="#eab0b6" stroke="#c4434d" stroke-width="1.15" opacity="1"/>
<circle cx="538.3" cy="55.44" r="1.7" fill="#eab0b6" stroke="#c4434d" stroke-width="1.15" opacity="1"/>
<circle cx="541.6" cy="56.3" r="1.7" fill="#eab0b6" stroke="#c4434d" stroke-width="1.15" opacity="1"/>
<circle cx="544.9" cy="57.16" r="1.7" fill="#eab0b6" stroke="#c4434d" stroke-width="1.15" opacity="1"/>
<circle cx="548.2" cy="58.02" r="1.7" fill="#eab0b6" stroke="#c4434d" stroke-width="1.15" opacity="1"/>
<circle cx="551.5" cy="58.88" r="1.7" fill="#eab0b6" stroke="#c4434d" stroke-width="1.15" opacity="1"/>
<circle cx="554.8" cy="59.74" r="1.7" fill="#eab0b6" stroke="#c4434d" stroke-width="1.15" opacity="1"/>
<circle cx="558.1" cy="60.6" r="1.7" fill="#eab0b6" stroke="#c4434d" stroke-width="1.15" opacity="1"/>
<circle cx="561.4" cy="61.46" r="1.7" fill="#eab0b6" stroke="#c4434d" stroke-width="1.15" opacity="1"/>
<circle cx="564.7" cy="62.32" r="1.7" fill="#eab0b6" stroke="#c4434d" stroke-width="1.15" opacity="1"/>
<circle cx="568" cy="63.18" r="1.7" fill="#eab0b6" stroke="#c4434d" stroke-width="1.15" opacity="1"/>
<circle cx="571.3" cy="64.04" r="1.7" fill="#eab0b6" stroke="#c4434d" stroke-width="1.15" opacity="1"/>
<circle cx="574.6" cy="64.9" r="1.7" fill="#eab0b6" stroke="#c4434d" stroke-width="1.15" opacity="1"/>
<circle cx="577.9" cy="65.76" r="1.7" fill="#eab0b6" stroke="#c4434d" stroke-width="1.15" opacity="1"/>
<circle cx="581.2" cy="66.62" r="1.7" fill="#eab0b6" stroke="#c4434d" stroke-width="1.15" opacity="1"/>
<circle cx="584.5" cy="67.48" r="1.7" fill="#eab0b6" stroke="#c4434d" stroke-width="1.15" opacity="1"/>
<circle cx="587.8" cy="68.34" r="1.7" fill="#eab0b6" stroke="#c4434d" stroke-width="1.15" opacity="1"/>
<circle cx="591.1" cy="69.2" r="1.7" fill="#eab0b6" stroke="#c4434d" stroke-width="1.15" opacity="1"/>
<circle cx="594.4" cy="70.06" r="1.7" fill="#eab0b6" stroke="#c4434d" stroke-width="1.15" opacity="1"/>
<circle cx="597.7" cy="70.92" r="1.7" fill="#eab0b6" stroke="#c4434d" stroke-width="1.15" opacity="1"/>
<circle cx="601" cy="71.78" r="1.7" fill="#eab0b6" stroke="#c4434d" stroke-width="1.15" opacity="1"/>
<circle cx="604.3" cy="72.64" r="1.7" fill="#eab0b6" stroke="#c4434d" stroke-width="1.15" opacity="1"/>
<circle cx="607.6" cy="73.5" r="1.7" fill="#eab0b6" stroke="#c4434d" stroke-width="1.15" opacity="1"/>
<circle cx="610.9" cy="74.36" r="1.7" fill="#eab0b6" stroke="#c4434d" stroke-width="1.15" opacity="1"/>
<circle cx="614.2" cy="75.22" r="1.7" fill="#eab0b6" stroke="#c4434d" stroke-width="1.15" opacity="1"/>
<circle cx="617.5" cy="76.07" r="1.7" fill="#eab0b6" stroke="#c4434d" stroke-width="1.15" opacity="1"/>
<circle cx="620.8" cy="76.93" r="1.7" fill="#eab0b6" stroke="#c4434d" stroke-width="1.15" opacity="1"/>
<circle cx="624.1" cy="77.79" r="1.7" fill="#eab0b6" stroke="#c4434d" stroke-width="1.15" opacity="1"/>
<circle cx="627.4" cy="78.65" r="1.7" fill="#eab0b6" stroke="#c4434d" stroke-width="1.15" opacity="1"/>
<circle cx="630.7" cy="79.51" r="1.7" fill="#eab0b6" stroke="#c4434d" stroke-width="1.15" opacity="1"/>
<circle cx="634" cy="80.37" r="1.7" fill="#eab0b6" stroke="#c4434d" stroke-width="1.15" opacity="1"/>
<circle cx="637.3" cy="81.23" r="1.7" fill="#eab0b6" stroke="#c4434d" stroke-width="1.15" opacity="1"/>
<circle cx="640.6" cy="82.09" r="1.7" fill="#eab0b6" stroke="#c4434d" stroke-width="1.15" opacity="1"/>
<circle cx="643.9" cy="82.95" r="1.7" fill="#eab0b6" stroke="#c4434d" stroke-width="1.15" opacity="1"/>
<circle cx="647.2" cy="83.81" r="1.7" fill="#eab0b6" stroke="#c4434d" stroke-width="1.15" opacity="1"/>
<circle cx="650.5" cy="84.67" r="1.7" fill="#eab0b6" stroke="#c4434d" stroke-width="1.15" opacity="1"/>
<circle cx="653.8" cy="85.53" r="1.7" fill="#eab0b6" stroke="#c4434d" stroke-width="1.15" opacity="1"/>
<circle cx="657.1" cy="86.39" r="1.7" fill="#eab0b6" stroke="#c4434d" stroke-width="1.15" opacity="1"/>
<circle cx="660.4" cy="87.25" r="1.7" fill="#eab0b6" stroke="#c4434d" stroke-width="1.15" opacity="1"/>
<circle cx="663.7" cy="88.11" r="1.7" fill="#eab0b6" stroke="#c4434d" stroke-width="1.15" opacity="1"/>
<circle cx="667" cy="88.97" r="1.7" fill="#eab0b6" stroke="#c4434d" stroke-width="1.15" opacity="1"/>
<circle cx="670.3" cy="89.83" r="1.7" fill="#eab0b6" stroke="#c4434d" stroke-width="1.15" opacity="1"/>
<circle cx="673.6" cy="90.69" r="1.7" fill="#eab0b6" stroke="#c4434d" stroke-width="1.15" opacity="1"/>
<circle cx="468.5" cy="35.8" r="1.8" fill="#e09098" stroke="#b02830" stroke-width="1.2" opacity="0.95"/>
<circle cx="470.5" cy="37.8" r="1.8" fill="#e09098" stroke="#b02830" stroke-width="1.2" opacity="0.95"/>
<circle cx="472.5" cy="36.8" r="1.8" fill="#e09098" stroke="#b02830" stroke-width="1.2" opacity="0.95"/>
<circle cx="474.5" cy="38.2" r="1.8" fill="#e09098" stroke="#b02830" stroke-width="1.2" opacity="0.95"/>
<circle cx="476.5" cy="37.3" r="1.8" fill="#e09098" stroke="#b02830" stroke-width="1.2" opacity="0.95"/>
<circle cx="478.3" cy="38.5" r="1.8" fill="#e09098" stroke="#b02830" stroke-width="1.2" opacity="0.95"/>
<rect x="467.5" y="15.5" width="208" height="130" fill="none" stroke="#000" stroke-width="1.6"/>
<line x1="465.3" y1="123.8" x2="467.5" y2="123.8" stroke="#000" stroke-width="1" />
<text x="455.05" y="125.92" font-size="6.14" fill="#000" stroke="#000" stroke-width="0.3" font-weight="bold" textLength="8.98" lengthAdjust="spacingAndGlyphs">0.6</text>
<line x1="465.3" y1="80.5" x2="467.5" y2="80.5" stroke="#000" stroke-width="1" />
<text x="455.02" y="82.62" font-size="6.14" fill="#000" stroke="#000" stroke-width="0.3" font-weight="bold" textLength="8.98" lengthAdjust="spacingAndGlyphs">0.8</text>
<line x1="465.3" y1="37.2" x2="467.5" y2="37.2" stroke="#000" stroke-width="1" />
<text x="455.08" y="39.32" font-size="6.14" fill="#000" stroke="#000" stroke-width="0.3" font-weight="bold" textLength="8.98" lengthAdjust="spacingAndGlyphs">1.0</text>
<line x1="466.2" y1="102.15" x2="467.5" y2="102.15" stroke="#000" stroke-width="1" />
<line x1="466.2" y1="58.85" x2="467.5" y2="58.85" stroke="#000" stroke-width="1" />
<line x1="466.2" y1="15.55" x2="467.5" y2="15.55" stroke="#000" stroke-width="1" />
<line x1="467.5" y1="145.5" x2="467.5" y2="147.5" stroke="#000" stroke-width="1" />
<text x="465.63" y="155" font-size="6.29" fill="#000" stroke="#000" stroke-width="0.3" font-weight="bold" textLength="3.74" lengthAdjust="spacingAndGlyphs">0</text>
<line x1="502.2" y1="145.5" x2="502.2" y2="147.5" stroke="#000" stroke-width="1" />
<text x="494.75" y="155" font-size="6.29" fill="#000" stroke="#000" stroke-width="0.3" font-weight="bold" textLength="14.97" lengthAdjust="spacingAndGlyphs">5000</text>
<line x1="536.9" y1="145.5" x2="536.9" y2="147.5" stroke="#000" stroke-width="1" />
<text x="527.46" y="155" font-size="6.29" fill="#000" stroke="#000" stroke-width="0.3" font-weight="bold" textLength="18.71" lengthAdjust="spacingAndGlyphs">10000</text>
<line x1="571.6" y1="145.5" x2="571.6" y2="147.5" stroke="#000" stroke-width="1" />
<text x="562.16" y="155" font-size="6.29" fill="#000" stroke="#000" stroke-width="0.3" font-weight="bold" textLength="18.71" lengthAdjust="spacingAndGlyphs">15000</text>
<line x1="606.3" y1="145.5" x2="606.3" y2="147.5" stroke="#000" stroke-width="1" />
<text x="596.96" y="155" font-size="6.29" fill="#000" stroke="#000" stroke-width="0.3" font-weight="bold" textLength="18.71" lengthAdjust="spacingAndGlyphs">20000</text>
<line x1="641" y1="145.5" x2="641" y2="147.5" stroke="#000" stroke-width="1" />
<text x="631.66" y="155" font-size="6.29" fill="#000" stroke="#000" stroke-width="0.3" font-weight="bold" textLength="18.71" lengthAdjust="spacingAndGlyphs">25000</text>
<line x1="675.7" y1="145.5" x2="675.7" y2="147.5" stroke="#000" stroke-width="1" />
<text x="666.4" y="155" font-size="6.29" fill="#000" stroke="#000" stroke-width="0.3" font-weight="bold" textLength="18.71" lengthAdjust="spacingAndGlyphs">30000</text>
<line x1="484.85" y1="145.5" x2="484.85" y2="146.8" stroke="#000" stroke-width="1" />
<line x1="519.55" y1="145.5" x2="519.55" y2="146.8" stroke="#000" stroke-width="1" />
<line x1="554.25" y1="145.5" x2="554.25" y2="146.8" stroke="#000" stroke-width="1" />
<line x1="588.95" y1="145.5" x2="588.95" y2="146.8" stroke="#000" stroke-width="1" />
<line x1="623.65" y1="145.5" x2="623.65" y2="146.8" stroke="#000" stroke-width="1" />
<line x1="658.35" y1="145.5" x2="658.35" y2="146.8" stroke="#000" stroke-width="1" />
<text x="453" y="131.96" font-size="11.03" transform="rotate(-90 453 131.96)" fill="#000" stroke="#000" stroke-width="0.2" font-weight="bold" textLength="78.86" lengthAdjust="spacingAndGlyphs">Normalized PCE</text>
<text x="546.8" y="167" font-size="9.66" fill="#000" stroke="#000" stroke-width="0.2" font-weight="bold" textLength="33.22" lengthAdjust="spacingAndGlyphs" >Time/h</text>
<text x="579.62" y="24.6" font-size="7.59" fill="#000" stroke="#000" stroke-width="0.2" font-weight="bold" textLength="93.82" lengthAdjust="spacingAndGlyphs" >Unencapsulated devices</text>
<text x="579.62" y="34.1" font-size="7.59" fill="#000" stroke="#000" stroke-width="0.2" font-weight="bold" textLength="88.28" lengthAdjust="spacingAndGlyphs" >Under 20-40% RH 25 °C</text>
<line x1="616.3" y1="48.8" x2="637.5" y2="48.8" stroke="#f2a8a8" stroke-width="3.2" />
<circle cx="627" cy="48.8" r="1.3" fill="none" stroke="#b8303a" stroke-width="0.9" opacity="1"/>
<text x="637.92" y="51.5" font-size="8.26" fill="#a5151c" stroke="#a5151c" stroke-width="0.2" font-weight="bold" >Target</text>
<text x="621.48" y="104.6" font-size="7.97" fill="#a5151c" stroke="#a5151c" stroke-width="0.2" font-weight="bold" font-style="italic" textLength="3.71" lengthAdjust="spacingAndGlyphs" >T</text>
<text x="625.86" y="106.8" font-size="3.71" fill="#a5151c" stroke="#a5151c" stroke-width="0.2" font-weight="bold" textLength="5.35" lengthAdjust="spacingAndGlyphs" >80</text>
<text x="631.5" y="104.8" font-size="8" fill="#a5151c" stroke="#a5151c" stroke-width="0.2" font-weight="bold" textLength="30.06" lengthAdjust="spacingAndGlyphs" >=23325h</text>
<line x1="233.8" y1="206.6" x2="442" y2="206.6" stroke="#e04c4c" stroke-width="1" stroke-dasharray="1.2,1.3"/>
<polyline points="233.5,210 238.1,196.5 243,205.4 247.8,193 252.7,187.8 257.1,186.7 261.9,199.8 266.8,189.8 271.6,190.9 280.9,203.3 290.2,197.5 300.2,210.1 309.7,197.7 319.3,211.6 329,212.2 338.3,217.4" fill="none" stroke="#2b5b8b" stroke-width="1.5" stroke-linejoin="round" />
<circle cx="233.5" cy="210" r="2.25" fill="#2b5b8b"/>
<circle cx="233.1" cy="209.6" r="0.55" fill="#fff" opacity="0.9"/>
<circle cx="238.1" cy="196.5" r="2.25" fill="#2b5b8b"/>
<circle cx="237.7" cy="196.1" r="0.55" fill="#fff" opacity="0.9"/>
<circle cx="243" cy="205.4" r="2.25" fill="#2b5b8b"/>
<circle cx="242.6" cy="205" r="0.55" fill="#fff" opacity="0.9"/>
<circle cx="247.8" cy="193" r="2.25" fill="#2b5b8b"/>
<circle cx="247.4" cy="192.6" r="0.55" fill="#fff" opacity="0.9"/>
<circle cx="252.7" cy="187.8" r="2.25" fill="#2b5b8b"/>
<circle cx="252.3" cy="187.4" r="0.55" fill="#fff" opacity="0.9"/>
<circle cx="257.1" cy="186.7" r="2.25" fill="#2b5b8b"/>
<circle cx="256.7" cy="186.3" r="0.55" fill="#fff" opacity="0.9"/>
<circle cx="261.9" cy="199.8" r="2.25" fill="#2b5b8b"/>
<circle cx="261.5" cy="199.4" r="0.55" fill="#fff" opacity="0.9"/>
<circle cx="266.8" cy="189.8" r="2.25" fill="#2b5b8b"/>
<circle cx="266.4" cy="189.4" r="0.55" fill="#fff" opacity="0.9"/>
<circle cx="271.6" cy="190.9" r="2.25" fill="#2b5b8b"/>
<circle cx="271.2" cy="190.5" r="0.55" fill="#fff" opacity="0.9"/>
<circle cx="280.9" cy="203.3" r="2.25" fill="#2b5b8b"/>
<circle cx="280.5" cy="202.9" r="0.55" fill="#fff" opacity="0.9"/>
<circle cx="290.2" cy="197.5" r="2.25" fill="#2b5b8b"/>
<circle cx="289.8" cy="197.1" r="0.55" fill="#fff" opacity="0.9"/>
<circle cx="300.2" cy="210.1" r="2.25" fill="#2b5b8b"/>
<circle cx="299.8" cy="209.7" r="0.55" fill="#fff" opacity="0.9"/>
<circle cx="309.7" cy="197.7" r="2.25" fill="#2b5b8b"/>
<circle cx="309.3" cy="197.3" r="0.55" fill="#fff" opacity="0.9"/>
<circle cx="319.3" cy="211.6" r="2.25" fill="#2b5b8b"/>
<circle cx="318.9" cy="211.2" r="0.55" fill="#fff" opacity="0.9"/>
<circle cx="329" cy="212.2" r="2.25" fill="#2b5b8b"/>
<circle cx="328.6" cy="211.8" r="0.55" fill="#fff" opacity="0.9"/>
<circle cx="338.3" cy="217.4" r="2.25" fill="#2b5b8b"/>
<circle cx="337.9" cy="217" r="0.55" fill="#fff" opacity="0.9"/>
<polyline points="233.5,209.5 238,187.8 243,186.1 247.8,192.5 252.3,189.2 257.1,196.7 261.9,187.4 266.8,203.9 271.6,194.6 280.9,195 290.2,200.2 300.2,194 309.7,195 319.3,195 329,196.7 338.3,197.1 348,199.8 357.6,195.6 366.9,202.3 376.6,201.2 385.9,201.9 395.7,199.8 405.2,197.7 415.3,198.1 425.3,197.7 435,198.5" fill="none" stroke="#a5151c" stroke-width="1.5" stroke-linejoin="round" />
<circle cx="233.5" cy="209.5" r="2.25" fill="#a5151c"/>
<circle cx="233.1" cy="209.1" r="0.55" fill="#fff" opacity="0.9"/>
<circle cx="238" cy="187.8" r="2.25" fill="#a5151c"/>
<circle cx="237.6" cy="187.4" r="0.55" fill="#fff" opacity="0.9"/>
<circle cx="243" cy="186.1" r="2.25" fill="#a5151c"/>
<circle cx="242.6" cy="185.7" r="0.55" fill="#fff" opacity="0.9"/>
<circle cx="247.8" cy="192.5" r="2.25" fill="#a5151c"/>
<circle cx="247.4" cy="192.1" r="0.55" fill="#fff" opacity="0.9"/>
<circle cx="252.3" cy="189.2" r="2.25" fill="#a5151c"/>
<circle cx="251.9" cy="188.8" r="0.55" fill="#fff" opacity="0.9"/>
<circle cx="257.1" cy="196.7" r="2.25" fill="#a5151c"/>
<circle cx="256.7" cy="196.3" r="0.55" fill="#fff" opacity="0.9"/>
<circle cx="261.9" cy="187.4" r="2.25" fill="#a5151c"/>
<circle cx="261.5" cy="187" r="0.55" fill="#fff" opacity="0.9"/>
<circle cx="266.8" cy="203.9" r="2.25" fill="#a5151c"/>
<circle cx="266.4" cy="203.5" r="0.55" fill="#fff" opacity="0.9"/>
<circle cx="271.6" cy="194.6" r="2.25" fill="#a5151c"/>
<circle cx="271.2" cy="194.2" r="0.55" fill="#fff" opacity="0.9"/>
<circle cx="280.9" cy="195" r="2.25" fill="#a5151c"/>
<circle cx="280.5" cy="194.6" r="0.55" fill="#fff" opacity="0.9"/>
<circle cx="290.2" cy="200.2" r="2.25" fill="#a5151c"/>
<circle cx="289.8" cy="199.8" r="0.55" fill="#fff" opacity="0.9"/>
<circle cx="300.2" cy="194" r="2.25" fill="#a5151c"/>
<circle cx="299.8" cy="193.6" r="0.55" fill="#fff" opacity="0.9"/>
<circle cx="309.7" cy="195" r="2.25" fill="#a5151c"/>
<circle cx="309.3" cy="194.6" r="0.55" fill="#fff" opacity="0.9"/>
<circle cx="319.3" cy="195" r="2.25" fill="#a5151c"/>
<circle cx="318.9" cy="194.6" r="0.55" fill="#fff" opacity="0.9"/>
<circle cx="329" cy="196.7" r="2.25" fill="#a5151c"/>
<circle cx="328.6" cy="196.3" r="0.55" fill="#fff" opacity="0.9"/>
<circle cx="338.3" cy="197.1" r="2.25" fill="#a5151c"/>
<circle cx="337.9" cy="196.7" r="0.55" fill="#fff" opacity="0.9"/>
<circle cx="348" cy="199.8" r="2.25" fill="#a5151c"/>
<circle cx="347.6" cy="199.4" r="0.55" fill="#fff" opacity="0.9"/>
<circle cx="357.6" cy="195.6" r="2.25" fill="#a5151c"/>
<circle cx="357.2" cy="195.2" r="0.55" fill="#fff" opacity="0.9"/>
<circle cx="366.9" cy="202.3" r="2.25" fill="#a5151c"/>
<circle cx="366.5" cy="201.9" r="0.55" fill="#fff" opacity="0.9"/>
<circle cx="376.6" cy="201.2" r="2.25" fill="#a5151c"/>
<circle cx="376.2" cy="200.8" r="0.55" fill="#fff" opacity="0.9"/>
<circle cx="385.9" cy="201.9" r="2.25" fill="#a5151c"/>
<circle cx="385.5" cy="201.5" r="0.55" fill="#fff" opacity="0.9"/>
<circle cx="395.7" cy="199.8" r="2.25" fill="#a5151c"/>
<circle cx="395.3" cy="199.4" r="0.55" fill="#fff" opacity="0.9"/>
<circle cx="405.2" cy="197.7" r="2.25" fill="#a5151c"/>
<circle cx="404.8" cy="197.3" r="0.55" fill="#fff" opacity="0.9"/>
<circle cx="415.3" cy="198.1" r="2.25" fill="#a5151c"/>
<circle cx="414.9" cy="197.7" r="0.55" fill="#fff" opacity="0.9"/>
<circle cx="425.3" cy="197.7" r="2.25" fill="#a5151c"/>
<circle cx="424.9" cy="197.3" r="0.55" fill="#fff" opacity="0.9"/>
<circle cx="435" cy="198.5" r="2.25" fill="#a5151c"/>
<circle cx="434.6" cy="198.1" r="0.55" fill="#fff" opacity="0.9"/>
<rect x="233" y="181.6" width="209" height="132.3" fill="none" stroke="#000" stroke-width="1.6"/>
<line x1="230.8" y1="313.9" x2="233" y2="313.9" stroke="#000" stroke-width="1" />
<text x="219.38" y="316.62" font-size="6.43" fill="#000" stroke="#000" stroke-width="0.3" font-weight="bold" textLength="10.32" lengthAdjust="spacingAndGlyphs">0.0</text>
<line x1="230.8" y1="288.66" x2="233" y2="288.66" stroke="#000" stroke-width="1" />
<text x="219.38" y="291.38" font-size="6.43" fill="#000" stroke="#000" stroke-width="0.3" font-weight="bold" textLength="10.32" lengthAdjust="spacingAndGlyphs">0.2</text>
<line x1="230.8" y1="263.42" x2="233" y2="263.42" stroke="#000" stroke-width="1" />
<text x="219.12" y="266.14" font-size="6.43" fill="#000" stroke="#000" stroke-width="0.3" font-weight="bold" textLength="10.32" lengthAdjust="spacingAndGlyphs">0.4</text>
<line x1="230.8" y1="238.18" x2="233" y2="238.18" stroke="#000" stroke-width="1" />
<text x="219.34" y="240.9" font-size="6.43" fill="#000" stroke="#000" stroke-width="0.3" font-weight="bold" textLength="10.32" lengthAdjust="spacingAndGlyphs">0.6</text>
<line x1="230.8" y1="212.94" x2="233" y2="212.94" stroke="#000" stroke-width="1" />
<text x="219.3" y="215.66" font-size="6.43" fill="#000" stroke="#000" stroke-width="0.3" font-weight="bold" textLength="10.32" lengthAdjust="spacingAndGlyphs">0.8</text>
<line x1="230.8" y1="187.7" x2="233" y2="187.7" stroke="#000" stroke-width="1" />
<text x="219.38" y="190.42" font-size="6.43" fill="#000" stroke="#000" stroke-width="0.3" font-weight="bold" textLength="10.32" lengthAdjust="spacingAndGlyphs">1.0</text>
<line x1="231.7" y1="301.28" x2="233" y2="301.28" stroke="#000" stroke-width="1" />
<line x1="231.7" y1="276.04" x2="233" y2="276.04" stroke="#000" stroke-width="1" />
<line x1="231.7" y1="250.8" x2="233" y2="250.8" stroke="#000" stroke-width="1" />
<line x1="231.7" y1="225.56" x2="233" y2="225.56" stroke="#000" stroke-width="1" />
<line x1="231.7" y1="200.32" x2="233" y2="200.32" stroke="#000" stroke-width="1" />
<line x1="233.3" y1="313.9" x2="233.3" y2="315.9" stroke="#000" stroke-width="1" />
<text x="231.31" y="323.9" font-size="6.57" fill="#000" stroke="#000" stroke-width="0.3" font-weight="bold" textLength="3.99" lengthAdjust="spacingAndGlyphs">0</text>
<line x1="273.2" y1="313.9" x2="273.2" y2="315.9" stroke="#000" stroke-width="1" />
<text x="267.25" y="323.9" font-size="6.57" fill="#000" stroke="#000" stroke-width="0.3" font-weight="bold" textLength="11.96" lengthAdjust="spacingAndGlyphs">200</text>
<line x1="313.1" y1="313.9" x2="313.1" y2="315.9" stroke="#000" stroke-width="1" />
<text x="307.22" y="323.9" font-size="6.57" fill="#000" stroke="#000" stroke-width="0.3" font-weight="bold" textLength="11.96" lengthAdjust="spacingAndGlyphs">400</text>
<line x1="353" y1="313.9" x2="353" y2="315.9" stroke="#000" stroke-width="1" />
<text x="347.05" y="323.9" font-size="6.57" fill="#000" stroke="#000" stroke-width="0.3" font-weight="bold" textLength="11.96" lengthAdjust="spacingAndGlyphs">600</text>
<line x1="392.9" y1="313.9" x2="392.9" y2="315.9" stroke="#000" stroke-width="1" />
<text x="386.97" y="323.9" font-size="6.57" fill="#000" stroke="#000" stroke-width="0.3" font-weight="bold" textLength="11.96" lengthAdjust="spacingAndGlyphs">800</text>
<line x1="432.8" y1="313.9" x2="432.8" y2="315.9" stroke="#000" stroke-width="1" />
<text x="424.73" y="323.9" font-size="6.57" fill="#000" stroke="#000" stroke-width="0.3" font-weight="bold" textLength="15.95" lengthAdjust="spacingAndGlyphs">1000</text>
<line x1="253.25" y1="313.9" x2="253.25" y2="315.2" stroke="#000" stroke-width="1" />
<line x1="293.15" y1="313.9" x2="293.15" y2="315.2" stroke="#000" stroke-width="1" />
<line x1="333.05" y1="313.9" x2="333.05" y2="315.2" stroke="#000" stroke-width="1" />
<line x1="372.95" y1="313.9" x2="372.95" y2="315.2" stroke="#000" stroke-width="1" />
<line x1="412.85" y1="313.9" x2="412.85" y2="315.2" stroke="#000" stroke-width="1" />
<text x="216.5" y="290.87" font-size="11.17" transform="rotate(-90 216.5 290.87)" fill="#000" stroke="#000" stroke-width="0.2" font-weight="bold" textLength="79.27" lengthAdjust="spacingAndGlyphs">Normalized PCE</text>
<text x="314.5" y="334.6" font-size="10.34" fill="#000" stroke="#000" stroke-width="0.2" font-weight="bold" >Time/h</text>
<line x1="246.8" y1="293.8" x2="261.7" y2="293.8" stroke="#2b5b8b" stroke-width="1.4" />
<circle cx="254.2" cy="293.8" r="2.1" fill="#2b5b8b"/>
<circle cx="254.2" cy="293.8" r="0.45" fill="#fff" opacity="0.9"/>
<line x1="246.8" y1="302.1" x2="261.7" y2="302.1" stroke="#a5151c" stroke-width="1.4" />
<circle cx="254.2" cy="302.1" r="2.1" fill="#a5151c"/>
<circle cx="254.2" cy="302.1" r="0.45" fill="#fff" opacity="0.9"/>
<text x="264.22" y="296.2" font-size="7.03" fill="#2b5b8b" stroke="#2b5b8b" stroke-width="0.2" font-weight="bold" >Control</text>
<text x="264.73" y="304.5" font-size="6.52" fill="#a5151c" stroke="#a5151c" stroke-width="0.2" font-weight="bold" textLength="20.75" lengthAdjust="spacingAndGlyphs" >Target</text>
<text x="360.29" y="189.2" font-size="6.76" fill="#000" stroke="#000" stroke-width="0.2" font-weight="bold" textLength="80.5" lengthAdjust="spacingAndGlyphs" >Unencapsulated devices</text>
<text x="360.49" y="198.1" font-size="7.29" fill="#000" stroke="#000" stroke-width="0.2" font-weight="bold" textLength="15.31" lengthAdjust="spacingAndGlyphs" >85°C</text>
<text x="402.77" y="218" font-size="8.29" fill="#a5151c" stroke="#a5151c" stroke-width="0.2" font-weight="bold" >~91.46 %</text>
<line x1="469.5" y1="225.9" x2="630" y2="225.9" stroke="#dc6448" stroke-width="0.9" stroke-dasharray="2.2,1.5"/>
<line x1="470.8" y1="182.8" x2="470.8" y2="191" stroke="#d6909a" stroke-width="0.7" />
<line x1="472.6" y1="183.5" x2="472.6" y2="190.5" stroke="#d6909a" stroke-width="0.7" />
<line x1="474.2" y1="183" x2="474.2" y2="189" stroke="#d6909a" stroke-width="0.7" />
<circle cx="471.5" cy="184.3" r="1.3" fill="#efcdd0" stroke="#d6909a" stroke-width="0.8" opacity="0.9"/>
<circle cx="473.3" cy="185.6" r="1.3" fill="#efcdd0" stroke="#d6909a" stroke-width="0.8" opacity="0.9"/>
<circle cx="471.6" cy="187.4" r="1.3" fill="#efcdd0" stroke="#d6909a" stroke-width="0.8" opacity="0.9"/>
<circle cx="473.4" cy="189.2" r="1.3" fill="#efcdd0" stroke="#d6909a" stroke-width="0.8" opacity="0.9"/>
<circle cx="472.2" cy="190.3" r="1.3" fill="#efcdd0" stroke="#d6909a" stroke-width="0.8" opacity="0.9"/>
<line x1="475" y1="195.5" x2="475" y2="209.5" stroke="#d6909a" stroke-width="0.7" />
<line x1="479.5" y1="196.5" x2="479.5" y2="202.4" stroke="#d6909a" stroke-width="0.7" />
<line x1="489.1" y1="197" x2="489.1" y2="202.1" stroke="#d6909a" stroke-width="0.7" />
<line x1="496" y1="199" x2="496" y2="205" stroke="#d6909a" stroke-width="0.7" />
<line x1="501" y1="202.5" x2="501" y2="208" stroke="#d6909a" stroke-width="0.7" />
<circle cx="475" cy="210.2" r="1.45" fill="#efcdd0" stroke="#d6909a" stroke-width="0.85" opacity="0.9"/>
<circle cx="479.5" cy="202.4" r="1.45" fill="#efcdd0" stroke="#d6909a" stroke-width="0.85" opacity="0.9"/>
<circle cx="480.6" cy="192.6" r="1.45" fill="#efcdd0" stroke="#d6909a" stroke-width="0.85" opacity="0.9"/>
<circle cx="483.2" cy="192.2" r="1.45" fill="#efcdd0" stroke="#d6909a" stroke-width="0.85" opacity="0.9"/>
<circle cx="485.2" cy="193.6" r="1.45" fill="#efcdd0" stroke="#d6909a" stroke-width="0.85" opacity="0.9"/>
<circle cx="489.1" cy="202.1" r="1.45" fill="#efcdd0" stroke="#d6909a" stroke-width="0.85" opacity="0.9"/>
<circle cx="490.8" cy="194.8" r="1.45" fill="#efcdd0" stroke="#d6909a" stroke-width="0.85" opacity="0.9"/>
<circle cx="492.6" cy="206.4" r="1.45" fill="#efcdd0" stroke="#d6909a" stroke-width="0.85" opacity="0.9"/>
<circle cx="494.6" cy="205.2" r="1.45" fill="#efcdd0" stroke="#d6909a" stroke-width="0.85" opacity="0.9"/>
<circle cx="496.6" cy="203.6" r="1.45" fill="#efcdd0" stroke="#d6909a" stroke-width="0.85" opacity="0.9"/>
<circle cx="500.4" cy="207.4" r="1.45" fill="#efcdd0" stroke="#d6909a" stroke-width="0.85" opacity="0.9"/>
<circle cx="502.4" cy="209.4" r="1.45" fill="#efcdd0" stroke="#d6909a" stroke-width="0.85" opacity="0.9"/>
<circle cx="503.6" cy="210.9" r="1.45" fill="#efcdd0" stroke="#d6909a" stroke-width="0.85" opacity="0.9"/>
<circle cx="505.2" cy="208.4" r="1.45" fill="#efcdd0" stroke="#d6909a" stroke-width="0.85" opacity="0.9"/>
<circle cx="470.3" cy="219.4" r="1.45" fill="#efcdd0" stroke="#d6909a" stroke-width="0.85" opacity="0.9"/>
<line x1="469.5" y1="193.8" x2="675.5" y2="233.9" stroke="#c6533a" stroke-width="4.3" />
<circle cx="477.7" cy="195.4" r="2" fill="#861612"/>
<circle cx="477.35" cy="195.1" r="0.6" fill="#fff" opacity="0.85"/>
<circle cx="486.13" cy="197.04" r="2" fill="#861612"/>
<circle cx="485.78" cy="196.74" r="0.6" fill="#fff" opacity="0.85"/>
<circle cx="494.56" cy="198.68" r="2" fill="#861612"/>
<circle cx="494.21" cy="198.38" r="0.6" fill="#fff" opacity="0.85"/>
<circle cx="502.99" cy="200.32" r="2" fill="#861612"/>
<circle cx="502.64" cy="200.02" r="0.6" fill="#fff" opacity="0.85"/>
<circle cx="511.42" cy="201.96" r="2" fill="#861612"/>
<circle cx="511.07" cy="201.66" r="0.6" fill="#fff" opacity="0.85"/>
<circle cx="519.85" cy="203.6" r="2" fill="#861612"/>
<circle cx="519.5" cy="203.3" r="0.6" fill="#fff" opacity="0.85"/>
<circle cx="528.28" cy="205.24" r="2" fill="#861612"/>
<circle cx="527.93" cy="204.94" r="0.6" fill="#fff" opacity="0.85"/>
<circle cx="536.71" cy="206.89" r="2" fill="#861612"/>
<circle cx="536.36" cy="206.59" r="0.6" fill="#fff" opacity="0.85"/>
<circle cx="545.14" cy="208.53" r="2" fill="#861612"/>
<circle cx="544.79" cy="208.23" r="0.6" fill="#fff" opacity="0.85"/>
<circle cx="553.57" cy="210.17" r="2" fill="#861612"/>
<circle cx="553.22" cy="209.87" r="0.6" fill="#fff" opacity="0.85"/>
<circle cx="562" cy="211.81" r="2" fill="#861612"/>
<circle cx="561.65" cy="211.51" r="0.6" fill="#fff" opacity="0.85"/>
<circle cx="570.43" cy="213.45" r="2" fill="#861612"/>
<circle cx="570.08" cy="213.15" r="0.6" fill="#fff" opacity="0.85"/>
<circle cx="578.86" cy="215.09" r="2" fill="#861612"/>
<circle cx="578.51" cy="214.79" r="0.6" fill="#fff" opacity="0.85"/>
<circle cx="587.29" cy="216.73" r="2" fill="#861612"/>
<circle cx="586.94" cy="216.43" r="0.6" fill="#fff" opacity="0.85"/>
<circle cx="595.72" cy="218.38" r="2" fill="#861612"/>
<circle cx="595.37" cy="218.08" r="0.6" fill="#fff" opacity="0.85"/>
<circle cx="604.15" cy="220.02" r="2" fill="#861612"/>
<circle cx="603.8" cy="219.72" r="0.6" fill="#fff" opacity="0.85"/>
<circle cx="612.58" cy="221.66" r="2" fill="#861612"/>
<circle cx="612.23" cy="221.36" r="0.6" fill="#fff" opacity="0.85"/>
<circle cx="621.01" cy="223.3" r="2" fill="#861612"/>
<circle cx="620.66" cy="223" r="0.6" fill="#fff" opacity="0.85"/>
<circle cx="629.44" cy="224.94" r="2" fill="#861612"/>
<circle cx="629.09" cy="224.64" r="0.6" fill="#fff" opacity="0.85"/>
<circle cx="637.87" cy="226.58" r="2" fill="#861612"/>
<circle cx="637.52" cy="226.28" r="0.6" fill="#fff" opacity="0.85"/>
<circle cx="646.3" cy="228.22" r="2" fill="#861612"/>
<circle cx="645.95" cy="227.92" r="0.6" fill="#fff" opacity="0.85"/>
<circle cx="654.73" cy="229.86" r="2" fill="#861612"/>
<circle cx="654.38" cy="229.56" r="0.6" fill="#fff" opacity="0.85"/>
<circle cx="663.16" cy="231.51" r="2" fill="#861612"/>
<circle cx="662.81" cy="231.21" r="0.6" fill="#fff" opacity="0.85"/>
<circle cx="671.59" cy="233.15" r="2" fill="#861612"/>
<circle cx="671.24" cy="232.85" r="0.6" fill="#fff" opacity="0.85"/>
<rect x="469.5" y="181.5" width="206.25" height="132.25" fill="none" stroke="#000" stroke-width="1.6"/>
<line x1="467.3" y1="313.75" x2="469.5" y2="313.75" stroke="#000" stroke-width="1" />
<text x="453.97" y="315.92" font-size="6.29" fill="#000" stroke="#000" stroke-width="0.3" font-weight="bold" textLength="9.27" lengthAdjust="spacingAndGlyphs">0.4</text>
<line x1="467.3" y1="269.75" x2="469.5" y2="269.75" stroke="#000" stroke-width="1" />
<text x="454.17" y="271.92" font-size="6.29" fill="#000" stroke="#000" stroke-width="0.3" font-weight="bold" textLength="9.27" lengthAdjust="spacingAndGlyphs">0.6</text>
<line x1="467.3" y1="225.75" x2="469.5" y2="225.75" stroke="#000" stroke-width="1" />
<text x="454.13" y="227.92" font-size="6.29" fill="#000" stroke="#000" stroke-width="0.3" font-weight="bold" textLength="9.27" lengthAdjust="spacingAndGlyphs">0.8</text>
<line x1="467.3" y1="181.75" x2="469.5" y2="181.75" stroke="#000" stroke-width="1" />
<text x="454.2" y="183.92" font-size="6.29" fill="#000" stroke="#000" stroke-width="0.3" font-weight="bold" textLength="9.27" lengthAdjust="spacingAndGlyphs">1.0</text>
<line x1="468.2" y1="291.75" x2="469.5" y2="291.75" stroke="#000" stroke-width="1" />
<line x1="468.2" y1="247.75" x2="469.5" y2="247.75" stroke="#000" stroke-width="1" />
<line x1="468.2" y1="203.75" x2="469.5" y2="203.75" stroke="#000" stroke-width="1" />
<line x1="469.5" y1="313.75" x2="469.5" y2="315.75" stroke="#000" stroke-width="1" />
<text x="467.43" y="323.3" font-size="6.14" fill="#000" stroke="#000" stroke-width="0.3" font-weight="bold" textLength="4.15" lengthAdjust="spacingAndGlyphs">0</text>
<line x1="503.9" y1="313.75" x2="503.9" y2="315.75" stroke="#000" stroke-width="1" />
<text x="495.52" y="323.3" font-size="6.14" fill="#000" stroke="#000" stroke-width="0.3" font-weight="bold" textLength="16.58" lengthAdjust="spacingAndGlyphs">1000</text>
<line x1="538.3" y1="313.75" x2="538.3" y2="315.75" stroke="#000" stroke-width="1" />
<text x="530.03" y="323.3" font-size="6.14" fill="#000" stroke="#000" stroke-width="0.3" font-weight="bold" textLength="16.58" lengthAdjust="spacingAndGlyphs">2000</text>
<line x1="572.7" y1="313.75" x2="572.7" y2="315.75" stroke="#000" stroke-width="1" />
<text x="564.46" y="323.3" font-size="6.14" fill="#000" stroke="#000" stroke-width="0.3" font-weight="bold" textLength="16.58" lengthAdjust="spacingAndGlyphs">3000</text>
<line x1="607.1" y1="313.75" x2="607.1" y2="315.75" stroke="#000" stroke-width="1" />
<text x="598.9" y="323.3" font-size="6.14" fill="#000" stroke="#000" stroke-width="0.3" font-weight="bold" textLength="16.58" lengthAdjust="spacingAndGlyphs">4000</text>
<line x1="641.5" y1="313.75" x2="641.5" y2="315.75" stroke="#000" stroke-width="1" />
<text x="633.25" y="323.3" font-size="6.14" fill="#000" stroke="#000" stroke-width="0.3" font-weight="bold" textLength="16.58" lengthAdjust="spacingAndGlyphs">5000</text>
<line x1="675.9" y1="313.75" x2="675.9" y2="315.75" stroke="#000" stroke-width="1" />
<text x="667.63" y="323.3" font-size="6.14" fill="#000" stroke="#000" stroke-width="0.3" font-weight="bold" textLength="16.58" lengthAdjust="spacingAndGlyphs">6000</text>
<line x1="486.7" y1="313.75" x2="486.7" y2="315.05" stroke="#000" stroke-width="1" />
<line x1="521.1" y1="313.75" x2="521.1" y2="315.05" stroke="#000" stroke-width="1" />
<line x1="555.5" y1="313.75" x2="555.5" y2="315.05" stroke="#000" stroke-width="1" />
<line x1="589.9" y1="313.75" x2="589.9" y2="315.05" stroke="#000" stroke-width="1" />
<line x1="624.3" y1="313.75" x2="624.3" y2="315.05" stroke="#000" stroke-width="1" />
<line x1="658.7" y1="313.75" x2="658.7" y2="315.05" stroke="#000" stroke-width="1" />
<text x="452" y="284.37" font-size="10.34" transform="rotate(-90 452 284.37)" fill="#000" stroke="#000" stroke-width="0.2" font-weight="bold" textLength="67.21" lengthAdjust="spacingAndGlyphs">Normalized PCE</text>
<text x="544.79" y="330.6" font-size="8.14" fill="#000" stroke="#000" stroke-width="0.2" font-weight="bold" textLength="34.35" lengthAdjust="spacingAndGlyphs" >Time/h</text>
<line x1="476.3" y1="307.3" x2="495.5" y2="307.3" stroke="#c6533a" stroke-width="4.3" />
<circle cx="485.5" cy="307.3" r="2" fill="#861612"/>
<circle cx="485.15" cy="307" r="0.6" fill="#fff" opacity="0.85"/>
<text x="498.58" y="310" font-size="7.97" fill="#1a1a1a" font-weight="normal" textLength="24.5" lengthAdjust="spacingAndGlyphs" >Target</text>
<text x="545.74" y="191.9" font-size="9.52" fill="#000" stroke="#000" stroke-width="0.2" font-weight="bold" textLength="128.02" lengthAdjust="spacingAndGlyphs" >Unencapsulated devices</text>
<text x="546.08" y="202.2" font-size="9" fill="#000" stroke="#000" stroke-width="0.2" font-weight="bold" textLength="26.4" lengthAdjust="spacingAndGlyphs" >85 °C</text>
<text x="604.21" y="238.9" font-size="6.67" fill="#a5151c" stroke="#a5151c" stroke-width="0.2" font-weight="bold" font-style="italic" textLength="3.4" lengthAdjust="spacingAndGlyphs" >T</text>
<text x="608.04" y="240.9" font-size="3.57" fill="#a5151c" stroke="#a5151c" stroke-width="0.2" font-weight="bold" textLength="5.99" lengthAdjust="spacingAndGlyphs" >80</text>
<text x="614.49" y="238.9" font-size="6.34" fill="#a5151c" stroke="#a5151c" stroke-width="0.2" font-weight="bold" textLength="26.78" lengthAdjust="spacingAndGlyphs" >=5004h</text>
<circle cx="228.94" cy="362.13" r="1.85" fill="none" stroke="#a3161c" stroke-width="0.95" opacity="0.9"/>
<circle cx="228.52" cy="359.08" r="1.85" fill="none" stroke="#a3161c" stroke-width="0.95" opacity="0.9"/>
<circle cx="229.52" cy="361.18" r="1.85" fill="none" stroke="#a3161c" stroke-width="0.95" opacity="0.9"/>
<circle cx="229.84" cy="360.63" r="1.85" fill="none" stroke="#a3161c" stroke-width="0.95" opacity="0.9"/>
<circle cx="230.6" cy="361.17" r="1.85" fill="none" stroke="#a3161c" stroke-width="0.95" opacity="0.9"/>
<circle cx="230.39" cy="360.78" r="1.85" fill="none" stroke="#a3161c" stroke-width="0.95" opacity="0.9"/>
<circle cx="231.45" cy="361.92" r="1.85" fill="none" stroke="#a3161c" stroke-width="0.95" opacity="0.9"/>
<circle cx="231.38" cy="362.39" r="1.85" fill="none" stroke="#a3161c" stroke-width="0.95" opacity="0.9"/>
<circle cx="232.25" cy="361.61" r="1.85" fill="none" stroke="#a3161c" stroke-width="0.95" opacity="0.9"/>
<circle cx="232.19" cy="360.38" r="1.85" fill="none" stroke="#a3161c" stroke-width="0.95" opacity="0.9"/>
<circle cx="233.21" cy="361.92" r="1.85" fill="none" stroke="#a3161c" stroke-width="0.95" opacity="0.9"/>
<circle cx="233.09" cy="360.05" r="1.85" fill="none" stroke="#a3161c" stroke-width="0.95" opacity="0.9"/>
<circle cx="233.94" cy="360.57" r="1.85" fill="none" stroke="#a3161c" stroke-width="0.95" opacity="0.9"/>
<circle cx="234.12" cy="361.38" r="1.85" fill="none" stroke="#a3161c" stroke-width="0.95" opacity="0.9"/>
<circle cx="235.12" cy="360.63" r="1.85" fill="none" stroke="#a3161c" stroke-width="0.95" opacity="0.9"/>
<circle cx="234.84" cy="359.87" r="1.85" fill="none" stroke="#a3161c" stroke-width="0.95" opacity="0.9"/>
<circle cx="236.2" cy="361.83" r="1.85" fill="none" stroke="#a3161c" stroke-width="0.95" opacity="0.9"/>
<circle cx="235.81" cy="359.38" r="1.85" fill="none" stroke="#a3161c" stroke-width="0.95" opacity="0.9"/>
<circle cx="236.84" cy="360.69" r="1.85" fill="none" stroke="#a3161c" stroke-width="0.95" opacity="0.9"/>
<circle cx="236.99" cy="362.54" r="1.85" fill="none" stroke="#a3161c" stroke-width="0.95" opacity="0.9"/>
<circle cx="237.56" cy="360.82" r="1.85" fill="none" stroke="#a3161c" stroke-width="0.95" opacity="0.9"/>
<circle cx="237.58" cy="359.82" r="1.85" fill="none" stroke="#a3161c" stroke-width="0.95" opacity="0.9"/>
<circle cx="238.77" cy="361.19" r="1.85" fill="none" stroke="#a3161c" stroke-width="0.95" opacity="0.9"/>
<circle cx="238.6" cy="361.36" r="1.85" fill="none" stroke="#a3161c" stroke-width="0.95" opacity="0.9"/>
<circle cx="239.59" cy="361" r="1.85" fill="none" stroke="#a3161c" stroke-width="0.95" opacity="0.9"/>
<circle cx="239.3" cy="361.32" r="1.85" fill="none" stroke="#a3161c" stroke-width="0.95" opacity="0.9"/>
<circle cx="240.53" cy="361.11" r="1.85" fill="none" stroke="#a3161c" stroke-width="0.95" opacity="0.9"/>
<circle cx="240.35" cy="360.83" r="1.85" fill="none" stroke="#a3161c" stroke-width="0.95" opacity="0.9"/>
<circle cx="241.42" cy="362.76" r="1.85" fill="none" stroke="#a3161c" stroke-width="0.95" opacity="0.9"/>
<circle cx="241.32" cy="360.89" r="1.85" fill="none" stroke="#a3161c" stroke-width="0.95" opacity="0.9"/>
<circle cx="242.24" cy="358.86" r="1.85" fill="none" stroke="#a3161c" stroke-width="0.95" opacity="0.9"/>
<circle cx="242.01" cy="361.06" r="1.85" fill="none" stroke="#a3161c" stroke-width="0.95" opacity="0.9"/>
<circle cx="243.11" cy="360.59" r="1.85" fill="none" stroke="#a3161c" stroke-width="0.95" opacity="0.9"/>
<circle cx="243.21" cy="361.6" r="1.85" fill="none" stroke="#a3161c" stroke-width="0.95" opacity="0.9"/>
<circle cx="244.25" cy="362.05" r="1.85" fill="none" stroke="#a3161c" stroke-width="0.95" opacity="0.9"/>
<circle cx="243.93" cy="362.16" r="1.85" fill="none" stroke="#a3161c" stroke-width="0.95" opacity="0.9"/>
<circle cx="245.17" cy="360.3" r="1.85" fill="none" stroke="#a3161c" stroke-width="0.95" opacity="0.9"/>
<circle cx="245.08" cy="362.04" r="1.85" fill="none" stroke="#a3161c" stroke-width="0.95" opacity="0.9"/>
<circle cx="245.69" cy="361.93" r="1.85" fill="none" stroke="#a3161c" stroke-width="0.95" opacity="0.9"/>
<circle cx="245.76" cy="362.05" r="1.85" fill="none" stroke="#a3161c" stroke-width="0.95" opacity="0.9"/>
<circle cx="246.79" cy="361.15" r="1.85" fill="none" stroke="#a3161c" stroke-width="0.95" opacity="0.9"/>
<circle cx="246.96" cy="361.47" r="1.85" fill="none" stroke="#a3161c" stroke-width="0.95" opacity="0.9"/>
<circle cx="247.9" cy="360.21" r="1.85" fill="none" stroke="#a3161c" stroke-width="0.95" opacity="0.9"/>
<circle cx="247.83" cy="361.89" r="1.85" fill="none" stroke="#a3161c" stroke-width="0.95" opacity="0.9"/>
<circle cx="248.55" cy="361.18" r="1.85" fill="none" stroke="#a3161c" stroke-width="0.95" opacity="0.9"/>
<circle cx="248.66" cy="361.2" r="1.85" fill="none" stroke="#a3161c" stroke-width="0.95" opacity="0.9"/>
<circle cx="249.5" cy="360.5" r="1.85" fill="none" stroke="#a3161c" stroke-width="0.95" opacity="0.9"/>
<circle cx="249.54" cy="361.91" r="1.85" fill="none" stroke="#a3161c" stroke-width="0.95" opacity="0.9"/>
<circle cx="250.33" cy="359.39" r="1.85" fill="none" stroke="#a3161c" stroke-width="0.95" opacity="0.9"/>
<circle cx="250.24" cy="361.75" r="1.85" fill="none" stroke="#a3161c" stroke-width="0.95" opacity="0.9"/>
<circle cx="251.46" cy="362.57" r="1.85" fill="none" stroke="#a3161c" stroke-width="0.95" opacity="0.9"/>
<circle cx="251.22" cy="362.2" r="1.85" fill="none" stroke="#a3161c" stroke-width="0.95" opacity="0.9"/>
<circle cx="252.09" cy="362.08" r="1.85" fill="none" stroke="#a3161c" stroke-width="0.95" opacity="0.9"/>
<circle cx="251.95" cy="361.05" r="1.85" fill="none" stroke="#a3161c" stroke-width="0.95" opacity="0.9"/>
<circle cx="252.85" cy="362.22" r="1.85" fill="none" stroke="#a3161c" stroke-width="0.95" opacity="0.9"/>
<circle cx="252.88" cy="361.7" r="1.85" fill="none" stroke="#a3161c" stroke-width="0.95" opacity="0.9"/>
<circle cx="253.86" cy="360.55" r="1.85" fill="none" stroke="#a3161c" stroke-width="0.95" opacity="0.9"/>
<circle cx="254.06" cy="361.23" r="1.85" fill="none" stroke="#a3161c" stroke-width="0.95" opacity="0.9"/>
<circle cx="255.05" cy="360.4" r="1.85" fill="none" stroke="#a3161c" stroke-width="0.95" opacity="0.9"/>
<circle cx="254.85" cy="361.47" r="1.85" fill="none" stroke="#a3161c" stroke-width="0.95" opacity="0.9"/>
<circle cx="255.87" cy="361.69" r="1.85" fill="none" stroke="#a3161c" stroke-width="0.95" opacity="0.9"/>
<circle cx="255.87" cy="360.98" r="1.85" fill="none" stroke="#a3161c" stroke-width="0.95" opacity="0.9"/>
<circle cx="256.66" cy="363.53" r="1.85" fill="none" stroke="#a3161c" stroke-width="0.95" opacity="0.9"/>
<circle cx="256.83" cy="361.53" r="1.85" fill="none" stroke="#a3161c" stroke-width="0.95" opacity="0.9"/>
<circle cx="257.67" cy="361.15" r="1.85" fill="none" stroke="#a3161c" stroke-width="0.95" opacity="0.9"/>
<circle cx="257.48" cy="360.89" r="1.85" fill="none" stroke="#a3161c" stroke-width="0.95" opacity="0.9"/>
<circle cx="258.61" cy="362.2" r="1.85" fill="none" stroke="#a3161c" stroke-width="0.95" opacity="0.9"/>
<circle cx="258.26" cy="361.02" r="1.85" fill="none" stroke="#a3161c" stroke-width="0.95" opacity="0.9"/>
<circle cx="259.23" cy="359.76" r="1.85" fill="none" stroke="#a3161c" stroke-width="0.95" opacity="0.9"/>
<circle cx="259.38" cy="360.84" r="1.85" fill="none" stroke="#a3161c" stroke-width="0.95" opacity="0.9"/>
<circle cx="260.15" cy="361.59" r="1.85" fill="none" stroke="#a3161c" stroke-width="0.95" opacity="0.9"/>
<circle cx="260.21" cy="362.87" r="1.85" fill="none" stroke="#a3161c" stroke-width="0.95" opacity="0.9"/>
<circle cx="260.94" cy="362.87" r="1.85" fill="none" stroke="#a3161c" stroke-width="0.95" opacity="0.9"/>
<circle cx="261.08" cy="362.21" r="1.85" fill="none" stroke="#a3161c" stroke-width="0.95" opacity="0.9"/>
<circle cx="262.12" cy="361.72" r="1.85" fill="none" stroke="#a3161c" stroke-width="0.95" opacity="0.9"/>
<circle cx="261.92" cy="360.96" r="1.85" fill="none" stroke="#a3161c" stroke-width="0.95" opacity="0.9"/>
<circle cx="262.86" cy="361.86" r="1.85" fill="none" stroke="#a3161c" stroke-width="0.95" opacity="0.9"/>
<circle cx="262.86" cy="361.73" r="1.85" fill="none" stroke="#a3161c" stroke-width="0.95" opacity="0.9"/>
<circle cx="263.89" cy="361.15" r="1.85" fill="none" stroke="#a3161c" stroke-width="0.95" opacity="0.9"/>
<circle cx="263.81" cy="361.6" r="1.85" fill="none" stroke="#a3161c" stroke-width="0.95" opacity="0.9"/>
<circle cx="264.93" cy="361.11" r="1.85" fill="none" stroke="#a3161c" stroke-width="0.95" opacity="0.9"/>
<circle cx="264.92" cy="361.68" r="1.85" fill="none" stroke="#a3161c" stroke-width="0.95" opacity="0.9"/>
<circle cx="265.66" cy="362.6" r="1.85" fill="none" stroke="#a3161c" stroke-width="0.95" opacity="0.9"/>
<circle cx="265.61" cy="362.99" r="1.85" fill="none" stroke="#a3161c" stroke-width="0.95" opacity="0.9"/>
<circle cx="266.55" cy="362.07" r="1.85" fill="none" stroke="#a3161c" stroke-width="0.95" opacity="0.9"/>
<circle cx="266.44" cy="362.28" r="1.85" fill="none" stroke="#a3161c" stroke-width="0.95" opacity="0.9"/>
<circle cx="267.31" cy="361.59" r="1.85" fill="none" stroke="#a3161c" stroke-width="0.95" opacity="0.9"/>
<circle cx="267.41" cy="361.47" r="1.85" fill="none" stroke="#a3161c" stroke-width="0.95" opacity="0.9"/>
<circle cx="268.36" cy="360.97" r="1.85" fill="none" stroke="#a3161c" stroke-width="0.95" opacity="0.9"/>
<circle cx="268.49" cy="362.71" r="1.85" fill="none" stroke="#a3161c" stroke-width="0.95" opacity="0.9"/>
<circle cx="269.24" cy="361.14" r="1.85" fill="none" stroke="#a3161c" stroke-width="0.95" opacity="0.9"/>
<circle cx="269.03" cy="362.01" r="1.85" fill="none" stroke="#a3161c" stroke-width="0.95" opacity="0.9"/>
<circle cx="270.12" cy="362.63" r="1.85" fill="none" stroke="#a3161c" stroke-width="0.95" opacity="0.9"/>
<circle cx="270.22" cy="361.98" r="1.85" fill="none" stroke="#a3161c" stroke-width="0.95" opacity="0.9"/>
<circle cx="270.92" cy="361.58" r="1.85" fill="none" stroke="#a3161c" stroke-width="0.95" opacity="0.9"/>
<circle cx="270.96" cy="362.1" r="1.85" fill="none" stroke="#a3161c" stroke-width="0.95" opacity="0.9"/>
<circle cx="272.13" cy="362.97" r="1.85" fill="none" stroke="#a3161c" stroke-width="0.95" opacity="0.9"/>
<circle cx="272.16" cy="362.22" r="1.85" fill="none" stroke="#a3161c" stroke-width="0.95" opacity="0.9"/>
<circle cx="272.99" cy="362.64" r="1.85" fill="none" stroke="#a3161c" stroke-width="0.95" opacity="0.9"/>
<circle cx="272.97" cy="361.57" r="1.85" fill="none" stroke="#a3161c" stroke-width="0.95" opacity="0.9"/>
<circle cx="273.53" cy="361.56" r="1.85" fill="none" stroke="#a3161c" stroke-width="0.95" opacity="0.9"/>
<circle cx="273.62" cy="362.76" r="1.85" fill="none" stroke="#a3161c" stroke-width="0.95" opacity="0.9"/>
<circle cx="274.86" cy="361.32" r="1.85" fill="none" stroke="#a3161c" stroke-width="0.95" opacity="0.9"/>
<circle cx="274.4" cy="361.83" r="1.85" fill="none" stroke="#a3161c" stroke-width="0.95" opacity="0.9"/>
<circle cx="275.43" cy="361.79" r="1.85" fill="none" stroke="#a3161c" stroke-width="0.95" opacity="0.9"/>
<circle cx="275.63" cy="361.95" r="1.85" fill="none" stroke="#a3161c" stroke-width="0.95" opacity="0.9"/>
<circle cx="276.31" cy="362.15" r="1.85" fill="none" stroke="#a3161c" stroke-width="0.95" opacity="0.9"/>
<circle cx="276.57" cy="363.27" r="1.85" fill="none" stroke="#a3161c" stroke-width="0.95" opacity="0.9"/>
<circle cx="277.19" cy="363.51" r="1.85" fill="none" stroke="#a3161c" stroke-width="0.95" opacity="0.9"/>
<circle cx="277.44" cy="362.05" r="1.85" fill="none" stroke="#a3161c" stroke-width="0.95" opacity="0.9"/>
<circle cx="278.44" cy="361.53" r="1.85" fill="none" stroke="#a3161c" stroke-width="0.95" opacity="0.9"/>
<circle cx="278.34" cy="360.88" r="1.85" fill="none" stroke="#a3161c" stroke-width="0.95" opacity="0.9"/>
<circle cx="279.08" cy="360.93" r="1.85" fill="none" stroke="#a3161c" stroke-width="0.95" opacity="0.9"/>
<circle cx="278.93" cy="362" r="1.85" fill="none" stroke="#a3161c" stroke-width="0.95" opacity="0.9"/>
<circle cx="279.93" cy="362.68" r="1.85" fill="none" stroke="#a3161c" stroke-width="0.95" opacity="0.9"/>
<circle cx="280.03" cy="363.12" r="1.85" fill="none" stroke="#a3161c" stroke-width="0.95" opacity="0.9"/>
<circle cx="281.17" cy="361.36" r="1.85" fill="none" stroke="#a3161c" stroke-width="0.95" opacity="0.9"/>
<circle cx="280.99" cy="362.58" r="1.85" fill="none" stroke="#a3161c" stroke-width="0.95" opacity="0.9"/>
<circle cx="282.09" cy="361.19" r="1.85" fill="none" stroke="#a3161c" stroke-width="0.95" opacity="0.9"/>
<circle cx="281.61" cy="363.27" r="1.85" fill="none" stroke="#a3161c" stroke-width="0.95" opacity="0.9"/>
<circle cx="282.79" cy="363.11" r="1.85" fill="none" stroke="#a3161c" stroke-width="0.95" opacity="0.9"/>
<circle cx="282.97" cy="362.21" r="1.85" fill="none" stroke="#a3161c" stroke-width="0.95" opacity="0.9"/>
<circle cx="283.49" cy="362.5" r="1.85" fill="none" stroke="#a3161c" stroke-width="0.95" opacity="0.9"/>
<circle cx="283.72" cy="362.27" r="1.85" fill="none" stroke="#a3161c" stroke-width="0.95" opacity="0.9"/>
<circle cx="284.58" cy="362.5" r="1.85" fill="none" stroke="#a3161c" stroke-width="0.95" opacity="0.9"/>
<circle cx="284.67" cy="362.93" r="1.85" fill="none" stroke="#a3161c" stroke-width="0.95" opacity="0.9"/>
<circle cx="285.69" cy="361.15" r="1.85" fill="none" stroke="#a3161c" stroke-width="0.95" opacity="0.9"/>
<circle cx="285.25" cy="362.62" r="1.85" fill="none" stroke="#a3161c" stroke-width="0.95" opacity="0.9"/>
<circle cx="286.17" cy="362.73" r="1.85" fill="none" stroke="#a3161c" stroke-width="0.95" opacity="0.9"/>
<circle cx="286.13" cy="363.81" r="1.85" fill="none" stroke="#a3161c" stroke-width="0.95" opacity="0.9"/>
<circle cx="287.07" cy="362.89" r="1.85" fill="none" stroke="#a3161c" stroke-width="0.95" opacity="0.9"/>
<circle cx="287.2" cy="361.87" r="1.85" fill="none" stroke="#a3161c" stroke-width="0.95" opacity="0.9"/>
<circle cx="287.92" cy="362.17" r="1.85" fill="none" stroke="#a3161c" stroke-width="0.95" opacity="0.9"/>
<circle cx="287.92" cy="361.97" r="1.85" fill="none" stroke="#a3161c" stroke-width="0.95" opacity="0.9"/>
<circle cx="289.25" cy="361.64" r="1.85" fill="none" stroke="#a3161c" stroke-width="0.95" opacity="0.9"/>
<circle cx="289.13" cy="362.22" r="1.85" fill="none" stroke="#a3161c" stroke-width="0.95" opacity="0.9"/>
<circle cx="290.18" cy="363.24" r="1.85" fill="none" stroke="#a3161c" stroke-width="0.95" opacity="0.9"/>
<circle cx="289.72" cy="362.81" r="1.85" fill="none" stroke="#a3161c" stroke-width="0.95" opacity="0.9"/>
<circle cx="290.77" cy="363.95" r="1.85" fill="none" stroke="#a3161c" stroke-width="0.95" opacity="0.9"/>
<circle cx="290.74" cy="363.52" r="1.85" fill="none" stroke="#a3161c" stroke-width="0.95" opacity="0.9"/>
<circle cx="291.65" cy="361.84" r="1.85" fill="none" stroke="#a3161c" stroke-width="0.95" opacity="0.9"/>
<circle cx="291.96" cy="361.71" r="1.85" fill="none" stroke="#a3161c" stroke-width="0.95" opacity="0.9"/>
<circle cx="292.59" cy="363.48" r="1.85" fill="none" stroke="#a3161c" stroke-width="0.95" opacity="0.9"/>
<circle cx="292.81" cy="362.82" r="1.85" fill="none" stroke="#a3161c" stroke-width="0.95" opacity="0.9"/>
<circle cx="293.67" cy="362.25" r="1.85" fill="none" stroke="#a3161c" stroke-width="0.95" opacity="0.9"/>
<circle cx="293.43" cy="363.15" r="1.85" fill="none" stroke="#a3161c" stroke-width="0.95" opacity="0.9"/>
<circle cx="294.64" cy="362.69" r="1.85" fill="none" stroke="#a3161c" stroke-width="0.95" opacity="0.9"/>
<circle cx="294.54" cy="363.03" r="1.85" fill="none" stroke="#a3161c" stroke-width="0.95" opacity="0.9"/>
<circle cx="295.57" cy="363.03" r="1.85" fill="none" stroke="#a3161c" stroke-width="0.95" opacity="0.9"/>
<circle cx="295.41" cy="361.58" r="1.85" fill="none" stroke="#a3161c" stroke-width="0.95" opacity="0.9"/>
<circle cx="296.24" cy="363" r="1.85" fill="none" stroke="#a3161c" stroke-width="0.95" opacity="0.9"/>
<circle cx="296.3" cy="362.79" r="1.85" fill="none" stroke="#a3161c" stroke-width="0.95" opacity="0.9"/>
<circle cx="297.36" cy="363.55" r="1.85" fill="none" stroke="#a3161c" stroke-width="0.95" opacity="0.9"/>
<circle cx="297.01" cy="362.52" r="1.85" fill="none" stroke="#a3161c" stroke-width="0.95" opacity="0.9"/>
<circle cx="298.29" cy="364.54" r="1.85" fill="none" stroke="#a3161c" stroke-width="0.95" opacity="0.9"/>
<circle cx="298.29" cy="361.47" r="1.85" fill="none" stroke="#a3161c" stroke-width="0.95" opacity="0.9"/>
<circle cx="299" cy="363.08" r="1.85" fill="none" stroke="#a3161c" stroke-width="0.95" opacity="0.9"/>
<circle cx="299.14" cy="363.03" r="1.85" fill="none" stroke="#a3161c" stroke-width="0.95" opacity="0.9"/>
<circle cx="299.7" cy="363.57" r="1.85" fill="none" stroke="#a3161c" stroke-width="0.95" opacity="0.9"/>
<circle cx="300.02" cy="364.52" r="1.85" fill="none" stroke="#a3161c" stroke-width="0.95" opacity="0.9"/>
<circle cx="300.54" cy="364.27" r="1.85" fill="none" stroke="#a3161c" stroke-width="0.95" opacity="0.9"/>
<circle cx="300.72" cy="363.53" r="1.85" fill="none" stroke="#a3161c" stroke-width="0.95" opacity="0.9"/>
<circle cx="301.66" cy="362.33" r="1.85" fill="none" stroke="#a3161c" stroke-width="0.95" opacity="0.9"/>
<circle cx="301.82" cy="363.76" r="1.85" fill="none" stroke="#a3161c" stroke-width="0.95" opacity="0.9"/>
<circle cx="302.68" cy="363.83" r="1.85" fill="none" stroke="#a3161c" stroke-width="0.95" opacity="0.9"/>
<circle cx="302.53" cy="362.95" r="1.85" fill="none" stroke="#a3161c" stroke-width="0.95" opacity="0.9"/>
<circle cx="303.22" cy="362.55" r="1.85" fill="none" stroke="#a3161c" stroke-width="0.95" opacity="0.9"/>
<circle cx="303.26" cy="362.25" r="1.85" fill="none" stroke="#a3161c" stroke-width="0.95" opacity="0.9"/>
<circle cx="304.41" cy="363.38" r="1.85" fill="none" stroke="#a3161c" stroke-width="0.95" opacity="0.9"/>
<circle cx="304.58" cy="363.6" r="1.85" fill="none" stroke="#a3161c" stroke-width="0.95" opacity="0.9"/>
<circle cx="305.27" cy="364.17" r="1.85" fill="none" stroke="#a3161c" stroke-width="0.95" opacity="0.9"/>
<circle cx="305.02" cy="362.66" r="1.85" fill="none" stroke="#a3161c" stroke-width="0.95" opacity="0.9"/>
<circle cx="306.02" cy="364.53" r="1.85" fill="none" stroke="#a3161c" stroke-width="0.95" opacity="0.9"/>
<circle cx="306.25" cy="363.37" r="1.85" fill="none" stroke="#a3161c" stroke-width="0.95" opacity="0.9"/>
<circle cx="306.85" cy="363.35" r="1.85" fill="none" stroke="#a3161c" stroke-width="0.95" opacity="0.9"/>
<circle cx="307.16" cy="362.46" r="1.85" fill="none" stroke="#a3161c" stroke-width="0.95" opacity="0.9"/>
<circle cx="307.86" cy="363.3" r="1.85" fill="none" stroke="#a3161c" stroke-width="0.95" opacity="0.9"/>
<circle cx="308.01" cy="365.58" r="1.85" fill="none" stroke="#a3161c" stroke-width="0.95" opacity="0.9"/>
<circle cx="308.73" cy="362.88" r="1.85" fill="none" stroke="#a3161c" stroke-width="0.95" opacity="0.9"/>
<circle cx="309.08" cy="364.51" r="1.85" fill="none" stroke="#a3161c" stroke-width="0.95" opacity="0.9"/>
<circle cx="309.65" cy="362.4" r="1.85" fill="none" stroke="#a3161c" stroke-width="0.95" opacity="0.9"/>
<circle cx="309.8" cy="363.02" r="1.85" fill="none" stroke="#a3161c" stroke-width="0.95" opacity="0.9"/>
<circle cx="310.51" cy="363.24" r="1.85" fill="none" stroke="#a3161c" stroke-width="0.95" opacity="0.9"/>
<circle cx="310.88" cy="362.72" r="1.85" fill="none" stroke="#a3161c" stroke-width="0.95" opacity="0.9"/>
<circle cx="311.35" cy="364.11" r="1.85" fill="none" stroke="#a3161c" stroke-width="0.95" opacity="0.9"/>
<circle cx="311.66" cy="363.08" r="1.85" fill="none" stroke="#a3161c" stroke-width="0.95" opacity="0.9"/>
<circle cx="312.37" cy="362.88" r="1.85" fill="none" stroke="#a3161c" stroke-width="0.95" opacity="0.9"/>
<circle cx="312.21" cy="365.16" r="1.85" fill="none" stroke="#a3161c" stroke-width="0.95" opacity="0.9"/>
<circle cx="313.34" cy="363.45" r="1.85" fill="none" stroke="#a3161c" stroke-width="0.95" opacity="0.9"/>
<circle cx="313.25" cy="364.71" r="1.85" fill="none" stroke="#a3161c" stroke-width="0.95" opacity="0.9"/>
<circle cx="314.27" cy="363.83" r="1.85" fill="none" stroke="#a3161c" stroke-width="0.95" opacity="0.9"/>
<circle cx="314.03" cy="363.64" r="1.85" fill="none" stroke="#a3161c" stroke-width="0.95" opacity="0.9"/>
<circle cx="315.38" cy="362.79" r="1.85" fill="none" stroke="#a3161c" stroke-width="0.95" opacity="0.9"/>
<circle cx="315.11" cy="361.16" r="1.85" fill="none" stroke="#a3161c" stroke-width="0.95" opacity="0.9"/>
<circle cx="316.03" cy="363.4" r="1.85" fill="none" stroke="#a3161c" stroke-width="0.95" opacity="0.9"/>
<circle cx="316.14" cy="363.18" r="1.85" fill="none" stroke="#a3161c" stroke-width="0.95" opacity="0.9"/>
<circle cx="316.92" cy="363.31" r="1.85" fill="none" stroke="#a3161c" stroke-width="0.95" opacity="0.9"/>
<circle cx="317.12" cy="364.4" r="1.85" fill="none" stroke="#a3161c" stroke-width="0.95" opacity="0.9"/>
<circle cx="318.03" cy="365.55" r="1.85" fill="none" stroke="#a3161c" stroke-width="0.95" opacity="0.9"/>
<circle cx="317.81" cy="365.83" r="1.85" fill="none" stroke="#a3161c" stroke-width="0.95" opacity="0.9"/>
<circle cx="318.92" cy="363.13" r="1.85" fill="none" stroke="#a3161c" stroke-width="0.95" opacity="0.9"/>
<circle cx="318.89" cy="364.34" r="1.85" fill="none" stroke="#a3161c" stroke-width="0.95" opacity="0.9"/>
<circle cx="319.49" cy="364.65" r="1.85" fill="none" stroke="#a3161c" stroke-width="0.95" opacity="0.9"/>
<circle cx="319.76" cy="363.76" r="1.85" fill="none" stroke="#a3161c" stroke-width="0.95" opacity="0.9"/>
<circle cx="320.45" cy="363.02" r="1.85" fill="none" stroke="#a3161c" stroke-width="0.95" opacity="0.9"/>
<circle cx="320.36" cy="363.21" r="1.85" fill="none" stroke="#a3161c" stroke-width="0.95" opacity="0.9"/>
<circle cx="321.64" cy="361.9" r="1.85" fill="none" stroke="#a3161c" stroke-width="0.95" opacity="0.9"/>
<circle cx="321.26" cy="363.81" r="1.85" fill="none" stroke="#a3161c" stroke-width="0.95" opacity="0.9"/>
<circle cx="322.58" cy="364.87" r="1.85" fill="none" stroke="#a3161c" stroke-width="0.95" opacity="0.9"/>
<circle cx="322.22" cy="362.46" r="1.85" fill="none" stroke="#a3161c" stroke-width="0.95" opacity="0.9"/>
<circle cx="323.15" cy="362.52" r="1.85" fill="none" stroke="#a3161c" stroke-width="0.95" opacity="0.9"/>
<circle cx="323.37" cy="363.63" r="1.85" fill="none" stroke="#a3161c" stroke-width="0.95" opacity="0.9"/>
<circle cx="323.93" cy="363.67" r="1.85" fill="none" stroke="#a3161c" stroke-width="0.95" opacity="0.9"/>
<circle cx="324.34" cy="363.69" r="1.85" fill="none" stroke="#a3161c" stroke-width="0.95" opacity="0.9"/>
<circle cx="325.11" cy="363.83" r="1.85" fill="none" stroke="#a3161c" stroke-width="0.95" opacity="0.9"/>
<circle cx="324.86" cy="365.3" r="1.85" fill="none" stroke="#a3161c" stroke-width="0.95" opacity="0.9"/>
<circle cx="325.74" cy="364.16" r="1.85" fill="none" stroke="#a3161c" stroke-width="0.95" opacity="0.9"/>
<circle cx="325.89" cy="364.32" r="1.85" fill="none" stroke="#a3161c" stroke-width="0.95" opacity="0.9"/>
<circle cx="326.65" cy="363.47" r="1.85" fill="none" stroke="#a3161c" stroke-width="0.95" opacity="0.9"/>
<circle cx="326.92" cy="363.86" r="1.85" fill="none" stroke="#a3161c" stroke-width="0.95" opacity="0.9"/>
<circle cx="327.58" cy="364.65" r="1.85" fill="none" stroke="#a3161c" stroke-width="0.95" opacity="0.9"/>
<circle cx="327.69" cy="363.94" r="1.85" fill="none" stroke="#a3161c" stroke-width="0.95" opacity="0.9"/>
<circle cx="328.65" cy="364.01" r="1.85" fill="none" stroke="#a3161c" stroke-width="0.95" opacity="0.9"/>
<circle cx="328.49" cy="363.98" r="1.85" fill="none" stroke="#a3161c" stroke-width="0.95" opacity="0.9"/>
<circle cx="329.54" cy="363.87" r="1.85" fill="none" stroke="#a3161c" stroke-width="0.95" opacity="0.9"/>
<circle cx="329.43" cy="364.42" r="1.85" fill="none" stroke="#a3161c" stroke-width="0.95" opacity="0.9"/>
<circle cx="330.42" cy="364.77" r="1.85" fill="none" stroke="#a3161c" stroke-width="0.95" opacity="0.9"/>
<circle cx="330.36" cy="364.87" r="1.85" fill="none" stroke="#a3161c" stroke-width="0.95" opacity="0.9"/>
<circle cx="331.53" cy="364.22" r="1.85" fill="none" stroke="#a3161c" stroke-width="0.95" opacity="0.9"/>
<circle cx="331.2" cy="365.05" r="1.85" fill="none" stroke="#a3161c" stroke-width="0.95" opacity="0.9"/>
<circle cx="332.1" cy="362.54" r="1.85" fill="none" stroke="#a3161c" stroke-width="0.95" opacity="0.9"/>
<circle cx="332.38" cy="363.57" r="1.85" fill="none" stroke="#a3161c" stroke-width="0.95" opacity="0.9"/>
<circle cx="332.98" cy="363.91" r="1.85" fill="none" stroke="#a3161c" stroke-width="0.95" opacity="0.9"/>
<circle cx="333.01" cy="364.7" r="1.85" fill="none" stroke="#a3161c" stroke-width="0.95" opacity="0.9"/>
<circle cx="333.98" cy="363.91" r="1.85" fill="none" stroke="#a3161c" stroke-width="0.95" opacity="0.9"/>
<circle cx="334.02" cy="364.01" r="1.85" fill="none" stroke="#a3161c" stroke-width="0.95" opacity="0.9"/>
<circle cx="335.08" cy="364.73" r="1.85" fill="none" stroke="#a3161c" stroke-width="0.95" opacity="0.9"/>
<circle cx="335.09" cy="364.23" r="1.85" fill="none" stroke="#a3161c" stroke-width="0.95" opacity="0.9"/>
<circle cx="335.97" cy="365.7" r="1.85" fill="none" stroke="#a3161c" stroke-width="0.95" opacity="0.9"/>
<circle cx="335.68" cy="365.63" r="1.85" fill="none" stroke="#a3161c" stroke-width="0.95" opacity="0.9"/>
<circle cx="336.95" cy="364.58" r="1.85" fill="none" stroke="#a3161c" stroke-width="0.95" opacity="0.9"/>
<circle cx="336.68" cy="364.71" r="1.85" fill="none" stroke="#a3161c" stroke-width="0.95" opacity="0.9"/>
<circle cx="337.45" cy="363.45" r="1.85" fill="none" stroke="#a3161c" stroke-width="0.95" opacity="0.9"/>
<circle cx="337.61" cy="364.67" r="1.85" fill="none" stroke="#a3161c" stroke-width="0.95" opacity="0.9"/>
<circle cx="338.74" cy="364.77" r="1.85" fill="none" stroke="#a3161c" stroke-width="0.95" opacity="0.9"/>
<circle cx="338.46" cy="365.7" r="1.85" fill="none" stroke="#a3161c" stroke-width="0.95" opacity="0.9"/>
<circle cx="339.63" cy="364.19" r="1.85" fill="none" stroke="#a3161c" stroke-width="0.95" opacity="0.9"/>
<circle cx="339.63" cy="364.41" r="1.85" fill="none" stroke="#a3161c" stroke-width="0.95" opacity="0.9"/>
<circle cx="340.23" cy="364.57" r="1.85" fill="none" stroke="#a3161c" stroke-width="0.95" opacity="0.9"/>
<circle cx="340.27" cy="364.96" r="1.85" fill="none" stroke="#a3161c" stroke-width="0.95" opacity="0.9"/>
<circle cx="341.33" cy="364.53" r="1.85" fill="none" stroke="#a3161c" stroke-width="0.95" opacity="0.9"/>
<circle cx="341.38" cy="366.19" r="1.85" fill="none" stroke="#a3161c" stroke-width="0.95" opacity="0.9"/>
<circle cx="342.18" cy="364.64" r="1.85" fill="none" stroke="#a3161c" stroke-width="0.95" opacity="0.9"/>
<circle cx="342.33" cy="365.27" r="1.85" fill="none" stroke="#a3161c" stroke-width="0.95" opacity="0.9"/>
<circle cx="343.17" cy="366.15" r="1.85" fill="none" stroke="#a3161c" stroke-width="0.95" opacity="0.9"/>
<circle cx="342.9" cy="363.93" r="1.85" fill="none" stroke="#a3161c" stroke-width="0.95" opacity="0.9"/>
<circle cx="344.18" cy="364.8" r="1.85" fill="none" stroke="#a3161c" stroke-width="0.95" opacity="0.9"/>
<circle cx="343.99" cy="365.61" r="1.85" fill="none" stroke="#a3161c" stroke-width="0.95" opacity="0.9"/>
<circle cx="345.06" cy="365.28" r="1.85" fill="none" stroke="#a3161c" stroke-width="0.95" opacity="0.9"/>
<circle cx="344.75" cy="363.43" r="1.85" fill="none" stroke="#a3161c" stroke-width="0.95" opacity="0.9"/>
<circle cx="345.99" cy="364.69" r="1.85" fill="none" stroke="#a3161c" stroke-width="0.95" opacity="0.9"/>
<circle cx="345.7" cy="365.57" r="1.85" fill="none" stroke="#a3161c" stroke-width="0.95" opacity="0.9"/>
<circle cx="346.45" cy="366.26" r="1.85" fill="none" stroke="#a3161c" stroke-width="0.95" opacity="0.9"/>
<circle cx="346.79" cy="364.99" r="1.85" fill="none" stroke="#a3161c" stroke-width="0.95" opacity="0.9"/>
<circle cx="347.41" cy="365.4" r="1.85" fill="none" stroke="#a3161c" stroke-width="0.95" opacity="0.9"/>
<circle cx="347.34" cy="366.24" r="1.85" fill="none" stroke="#a3161c" stroke-width="0.95" opacity="0.9"/>
<circle cx="348.47" cy="365.85" r="1.85" fill="none" stroke="#a3161c" stroke-width="0.95" opacity="0.9"/>
<circle cx="348.52" cy="364.41" r="1.85" fill="none" stroke="#a3161c" stroke-width="0.95" opacity="0.9"/>
<circle cx="349.17" cy="363.52" r="1.85" fill="none" stroke="#a3161c" stroke-width="0.95" opacity="0.9"/>
<circle cx="349.44" cy="364.56" r="1.85" fill="none" stroke="#a3161c" stroke-width="0.95" opacity="0.9"/>
<circle cx="350.17" cy="364.99" r="1.85" fill="none" stroke="#a3161c" stroke-width="0.95" opacity="0.9"/>
<circle cx="350.17" cy="365.59" r="1.85" fill="none" stroke="#a3161c" stroke-width="0.95" opacity="0.9"/>
<circle cx="351.36" cy="364.06" r="1.85" fill="none" stroke="#a3161c" stroke-width="0.95" opacity="0.9"/>
<circle cx="351.18" cy="365.78" r="1.85" fill="none" stroke="#a3161c" stroke-width="0.95" opacity="0.9"/>
<circle cx="351.96" cy="365.69" r="1.85" fill="none" stroke="#a3161c" stroke-width="0.95" opacity="0.9"/>
<circle cx="351.95" cy="365.47" r="1.85" fill="none" stroke="#a3161c" stroke-width="0.95" opacity="0.9"/>
<circle cx="353.03" cy="364.13" r="1.85" fill="none" stroke="#a3161c" stroke-width="0.95" opacity="0.9"/>
<circle cx="352.97" cy="364.27" r="1.85" fill="none" stroke="#a3161c" stroke-width="0.95" opacity="0.9"/>
<circle cx="354.05" cy="364.53" r="1.85" fill="none" stroke="#a3161c" stroke-width="0.95" opacity="0.9"/>
<circle cx="353.74" cy="364.5" r="1.85" fill="none" stroke="#a3161c" stroke-width="0.95" opacity="0.9"/>
<circle cx="354.83" cy="365.32" r="1.85" fill="none" stroke="#a3161c" stroke-width="0.95" opacity="0.9"/>
<circle cx="354.81" cy="364.61" r="1.85" fill="none" stroke="#a3161c" stroke-width="0.95" opacity="0.9"/>
<circle cx="355.85" cy="364.12" r="1.85" fill="none" stroke="#a3161c" stroke-width="0.95" opacity="0.9"/>
<circle cx="355.43" cy="363.98" r="1.85" fill="none" stroke="#a3161c" stroke-width="0.95" opacity="0.9"/>
<circle cx="356.74" cy="364" r="1.85" fill="none" stroke="#a3161c" stroke-width="0.95" opacity="0.9"/>
<circle cx="356.42" cy="363.79" r="1.85" fill="none" stroke="#a3161c" stroke-width="0.95" opacity="0.9"/>
<circle cx="357.49" cy="365.53" r="1.85" fill="none" stroke="#a3161c" stroke-width="0.95" opacity="0.9"/>
<circle cx="357.26" cy="364.77" r="1.85" fill="none" stroke="#a3161c" stroke-width="0.95" opacity="0.9"/>
<circle cx="358.56" cy="364.74" r="1.85" fill="none" stroke="#a3161c" stroke-width="0.95" opacity="0.9"/>
<circle cx="358.29" cy="366.75" r="1.85" fill="none" stroke="#a3161c" stroke-width="0.95" opacity="0.9"/>
<circle cx="359.34" cy="365.37" r="1.85" fill="none" stroke="#a3161c" stroke-width="0.95" opacity="0.9"/>
<circle cx="359.1" cy="364.65" r="1.85" fill="none" stroke="#a3161c" stroke-width="0.95" opacity="0.9"/>
<circle cx="360.15" cy="365.18" r="1.85" fill="none" stroke="#a3161c" stroke-width="0.95" opacity="0.9"/>
<circle cx="360.13" cy="365.64" r="1.85" fill="none" stroke="#a3161c" stroke-width="0.95" opacity="0.9"/>
<circle cx="361" cy="364.98" r="1.85" fill="none" stroke="#a3161c" stroke-width="0.95" opacity="0.9"/>
<circle cx="360.99" cy="365.9" r="1.85" fill="none" stroke="#a3161c" stroke-width="0.95" opacity="0.9"/>
<circle cx="362.01" cy="365.2" r="1.85" fill="none" stroke="#a3161c" stroke-width="0.95" opacity="0.9"/>
<circle cx="361.86" cy="364.76" r="1.85" fill="none" stroke="#a3161c" stroke-width="0.95" opacity="0.9"/>
<circle cx="363.06" cy="365.48" r="1.85" fill="none" stroke="#a3161c" stroke-width="0.95" opacity="0.9"/>
<circle cx="362.96" cy="365.58" r="1.85" fill="none" stroke="#a3161c" stroke-width="0.95" opacity="0.9"/>
<circle cx="363.63" cy="365.86" r="1.85" fill="none" stroke="#a3161c" stroke-width="0.95" opacity="0.9"/>
<circle cx="363.95" cy="365.14" r="1.85" fill="none" stroke="#a3161c" stroke-width="0.95" opacity="0.9"/>
<circle cx="364.5" cy="366.96" r="1.85" fill="none" stroke="#a3161c" stroke-width="0.95" opacity="0.9"/>
<circle cx="364.82" cy="365.99" r="1.85" fill="none" stroke="#a3161c" stroke-width="0.95" opacity="0.9"/>
<circle cx="365.54" cy="364.35" r="1.85" fill="none" stroke="#a3161c" stroke-width="0.95" opacity="0.9"/>
<circle cx="365.53" cy="364.2" r="1.85" fill="none" stroke="#a3161c" stroke-width="0.95" opacity="0.9"/>
<circle cx="366.25" cy="365.15" r="1.85" fill="none" stroke="#a3161c" stroke-width="0.95" opacity="0.9"/>
<circle cx="366.6" cy="366.3" r="1.85" fill="none" stroke="#a3161c" stroke-width="0.95" opacity="0.9"/>
<circle cx="367.48" cy="364.73" r="1.85" fill="none" stroke="#a3161c" stroke-width="0.95" opacity="0.9"/>
<circle cx="367.44" cy="365.08" r="1.85" fill="none" stroke="#a3161c" stroke-width="0.95" opacity="0.9"/>
<circle cx="368.14" cy="366.37" r="1.85" fill="none" stroke="#a3161c" stroke-width="0.95" opacity="0.9"/>
<circle cx="368.18" cy="366.14" r="1.85" fill="none" stroke="#a3161c" stroke-width="0.95" opacity="0.9"/>
<circle cx="368.93" cy="364.64" r="1.85" fill="none" stroke="#a3161c" stroke-width="0.95" opacity="0.9"/>
<circle cx="369.3" cy="363.53" r="1.85" fill="none" stroke="#a3161c" stroke-width="0.95" opacity="0.9"/>
<circle cx="369.99" cy="365.73" r="1.85" fill="none" stroke="#a3161c" stroke-width="0.95" opacity="0.9"/>
<circle cx="370.17" cy="365.22" r="1.85" fill="none" stroke="#a3161c" stroke-width="0.95" opacity="0.9"/>
<circle cx="370.93" cy="365.06" r="1.85" fill="none" stroke="#a3161c" stroke-width="0.95" opacity="0.9"/>
<circle cx="370.75" cy="364.37" r="1.85" fill="none" stroke="#a3161c" stroke-width="0.95" opacity="0.9"/>
<circle cx="371.93" cy="366.19" r="1.85" fill="none" stroke="#a3161c" stroke-width="0.95" opacity="0.9"/>
<circle cx="371.68" cy="364.78" r="1.85" fill="none" stroke="#a3161c" stroke-width="0.95" opacity="0.9"/>
<circle cx="372.69" cy="364.65" r="1.85" fill="none" stroke="#a3161c" stroke-width="0.95" opacity="0.9"/>
<circle cx="372.78" cy="365.24" r="1.85" fill="none" stroke="#a3161c" stroke-width="0.95" opacity="0.9"/>
<circle cx="373.5" cy="365.78" r="1.85" fill="none" stroke="#a3161c" stroke-width="0.95" opacity="0.9"/>
<circle cx="373.83" cy="363.86" r="1.85" fill="none" stroke="#a3161c" stroke-width="0.95" opacity="0.9"/>
<circle cx="374.39" cy="364.71" r="1.85" fill="none" stroke="#a3161c" stroke-width="0.95" opacity="0.9"/>
<circle cx="374.45" cy="365.7" r="1.85" fill="none" stroke="#a3161c" stroke-width="0.95" opacity="0.9"/>
<circle cx="375.69" cy="365.91" r="1.85" fill="none" stroke="#a3161c" stroke-width="0.95" opacity="0.9"/>
<circle cx="375.34" cy="365.7" r="1.85" fill="none" stroke="#a3161c" stroke-width="0.95" opacity="0.9"/>
<circle cx="376.16" cy="366.85" r="1.85" fill="none" stroke="#a3161c" stroke-width="0.95" opacity="0.9"/>
<circle cx="376.43" cy="364.15" r="1.85" fill="none" stroke="#a3161c" stroke-width="0.95" opacity="0.9"/>
<circle cx="377.38" cy="365.4" r="1.85" fill="none" stroke="#a3161c" stroke-width="0.95" opacity="0.9"/>
<circle cx="377.13" cy="365.81" r="1.85" fill="none" stroke="#a3161c" stroke-width="0.95" opacity="0.9"/>
<circle cx="378" cy="365.97" r="1.85" fill="none" stroke="#a3161c" stroke-width="0.95" opacity="0.9"/>
<circle cx="377.91" cy="366.13" r="1.85" fill="none" stroke="#a3161c" stroke-width="0.95" opacity="0.9"/>
<circle cx="378.98" cy="366.06" r="1.85" fill="none" stroke="#a3161c" stroke-width="0.95" opacity="0.9"/>
<circle cx="379.3" cy="365.04" r="1.85" fill="none" stroke="#a3161c" stroke-width="0.95" opacity="0.9"/>
<circle cx="379.89" cy="365.51" r="1.85" fill="none" stroke="#a3161c" stroke-width="0.95" opacity="0.9"/>
<circle cx="379.94" cy="365.14" r="1.85" fill="none" stroke="#a3161c" stroke-width="0.95" opacity="0.9"/>
<circle cx="380.6" cy="366.78" r="1.85" fill="none" stroke="#a3161c" stroke-width="0.95" opacity="0.9"/>
<circle cx="380.81" cy="364.89" r="1.85" fill="none" stroke="#a3161c" stroke-width="0.95" opacity="0.9"/>
<circle cx="381.61" cy="366.87" r="1.85" fill="none" stroke="#a3161c" stroke-width="0.95" opacity="0.9"/>
<circle cx="381.58" cy="365.34" r="1.85" fill="none" stroke="#a3161c" stroke-width="0.95" opacity="0.9"/>
<circle cx="382.86" cy="365.28" r="1.85" fill="none" stroke="#a3161c" stroke-width="0.95" opacity="0.9"/>
<circle cx="382.53" cy="365.66" r="1.85" fill="none" stroke="#a3161c" stroke-width="0.95" opacity="0.9"/>
<circle cx="383.33" cy="364.41" r="1.85" fill="none" stroke="#a3161c" stroke-width="0.95" opacity="0.9"/>
<circle cx="383.52" cy="365.92" r="1.85" fill="none" stroke="#a3161c" stroke-width="0.95" opacity="0.9"/>
<circle cx="384.57" cy="364.93" r="1.85" fill="none" stroke="#a3161c" stroke-width="0.95" opacity="0.9"/>
<circle cx="384.45" cy="366.36" r="1.85" fill="none" stroke="#a3161c" stroke-width="0.95" opacity="0.9"/>
<circle cx="385.59" cy="365.79" r="1.85" fill="none" stroke="#a3161c" stroke-width="0.95" opacity="0.9"/>
<circle cx="385.32" cy="365.77" r="1.85" fill="none" stroke="#a3161c" stroke-width="0.95" opacity="0.9"/>
<circle cx="386.37" cy="366.26" r="1.85" fill="none" stroke="#a3161c" stroke-width="0.95" opacity="0.9"/>
<circle cx="386.13" cy="364.83" r="1.85" fill="none" stroke="#a3161c" stroke-width="0.95" opacity="0.9"/>
<circle cx="387.35" cy="365.62" r="1.85" fill="none" stroke="#a3161c" stroke-width="0.95" opacity="0.9"/>
<circle cx="387.29" cy="366.03" r="1.85" fill="none" stroke="#a3161c" stroke-width="0.95" opacity="0.9"/>
<circle cx="388.07" cy="365.75" r="1.85" fill="none" stroke="#a3161c" stroke-width="0.95" opacity="0.9"/>
<circle cx="388.12" cy="366.57" r="1.85" fill="none" stroke="#a3161c" stroke-width="0.95" opacity="0.9"/>
<circle cx="389.17" cy="365.55" r="1.85" fill="none" stroke="#a3161c" stroke-width="0.95" opacity="0.9"/>
<circle cx="388.87" cy="364.89" r="1.85" fill="none" stroke="#a3161c" stroke-width="0.95" opacity="0.9"/>
<circle cx="389.76" cy="366.07" r="1.85" fill="none" stroke="#a3161c" stroke-width="0.95" opacity="0.9"/>
<circle cx="389.81" cy="367.04" r="1.85" fill="none" stroke="#a3161c" stroke-width="0.95" opacity="0.9"/>
<circle cx="390.62" cy="364.72" r="1.85" fill="none" stroke="#a3161c" stroke-width="0.95" opacity="0.9"/>
<circle cx="390.81" cy="365.13" r="1.85" fill="none" stroke="#a3161c" stroke-width="0.95" opacity="0.9"/>
<circle cx="391.48" cy="365.98" r="1.85" fill="none" stroke="#a3161c" stroke-width="0.95" opacity="0.9"/>
<circle cx="391.67" cy="365.1" r="1.85" fill="none" stroke="#a3161c" stroke-width="0.95" opacity="0.9"/>
<circle cx="392.33" cy="365.25" r="1.85" fill="none" stroke="#a3161c" stroke-width="0.95" opacity="0.9"/>
<circle cx="392.73" cy="366.09" r="1.85" fill="none" stroke="#a3161c" stroke-width="0.95" opacity="0.9"/>
<circle cx="393.59" cy="365.89" r="1.85" fill="none" stroke="#a3161c" stroke-width="0.95" opacity="0.9"/>
<circle cx="393.5" cy="364.55" r="1.85" fill="none" stroke="#a3161c" stroke-width="0.95" opacity="0.9"/>
<circle cx="394.15" cy="366.55" r="1.85" fill="none" stroke="#a3161c" stroke-width="0.95" opacity="0.9"/>
<circle cx="394.2" cy="366.89" r="1.85" fill="none" stroke="#a3161c" stroke-width="0.95" opacity="0.9"/>
<circle cx="395.06" cy="366.15" r="1.85" fill="none" stroke="#a3161c" stroke-width="0.95" opacity="0.9"/>
<circle cx="395.06" cy="366.26" r="1.85" fill="none" stroke="#a3161c" stroke-width="0.95" opacity="0.9"/>
<circle cx="396.05" cy="365.49" r="1.85" fill="none" stroke="#a3161c" stroke-width="0.95" opacity="0.9"/>
<circle cx="396.12" cy="365.22" r="1.85" fill="none" stroke="#a3161c" stroke-width="0.95" opacity="0.9"/>
<circle cx="397.25" cy="364.94" r="1.85" fill="none" stroke="#a3161c" stroke-width="0.95" opacity="0.9"/>
<circle cx="396.89" cy="364.65" r="1.85" fill="none" stroke="#a3161c" stroke-width="0.95" opacity="0.9"/>
<circle cx="398.05" cy="364.94" r="1.85" fill="none" stroke="#a3161c" stroke-width="0.95" opacity="0.9"/>
<circle cx="397.95" cy="364.72" r="1.85" fill="none" stroke="#a3161c" stroke-width="0.95" opacity="0.9"/>
<circle cx="398.98" cy="367.43" r="1.85" fill="none" stroke="#a3161c" stroke-width="0.95" opacity="0.9"/>
<circle cx="398.9" cy="366.72" r="1.85" fill="none" stroke="#a3161c" stroke-width="0.95" opacity="0.9"/>
<circle cx="399.89" cy="366.89" r="1.85" fill="none" stroke="#a3161c" stroke-width="0.95" opacity="0.9"/>
<circle cx="399.78" cy="365.29" r="1.85" fill="none" stroke="#a3161c" stroke-width="0.95" opacity="0.9"/>
<circle cx="400.64" cy="366.67" r="1.85" fill="none" stroke="#a3161c" stroke-width="0.95" opacity="0.9"/>
<circle cx="400.6" cy="366.76" r="1.85" fill="none" stroke="#a3161c" stroke-width="0.95" opacity="0.9"/>
<circle cx="401.38" cy="366.78" r="1.85" fill="none" stroke="#a3161c" stroke-width="0.95" opacity="0.9"/>
<circle cx="401.77" cy="367.24" r="1.85" fill="none" stroke="#a3161c" stroke-width="0.95" opacity="0.9"/>
<circle cx="402.2" cy="365.3" r="1.85" fill="none" stroke="#a3161c" stroke-width="0.95" opacity="0.9"/>
<circle cx="402.32" cy="365.22" r="1.85" fill="none" stroke="#a3161c" stroke-width="0.95" opacity="0.9"/>
<circle cx="403.27" cy="366.6" r="1.85" fill="none" stroke="#a3161c" stroke-width="0.95" opacity="0.9"/>
<circle cx="403.39" cy="365.92" r="1.85" fill="none" stroke="#a3161c" stroke-width="0.95" opacity="0.9"/>
<circle cx="404.21" cy="365.77" r="1.85" fill="none" stroke="#a3161c" stroke-width="0.95" opacity="0.9"/>
<circle cx="404.13" cy="367.97" r="1.85" fill="none" stroke="#a3161c" stroke-width="0.95" opacity="0.9"/>
<circle cx="404.93" cy="365.73" r="1.85" fill="none" stroke="#a3161c" stroke-width="0.95" opacity="0.9"/>
<circle cx="405.06" cy="366.14" r="1.85" fill="none" stroke="#a3161c" stroke-width="0.95" opacity="0.9"/>
<circle cx="406.3" cy="367.36" r="1.85" fill="none" stroke="#a3161c" stroke-width="0.95" opacity="0.9"/>
<circle cx="406.13" cy="366.92" r="1.85" fill="none" stroke="#a3161c" stroke-width="0.95" opacity="0.9"/>
<circle cx="406.93" cy="366.45" r="1.85" fill="none" stroke="#a3161c" stroke-width="0.95" opacity="0.9"/>
<circle cx="406.78" cy="367.12" r="1.85" fill="none" stroke="#a3161c" stroke-width="0.95" opacity="0.9"/>
<circle cx="407.68" cy="366.76" r="1.85" fill="none" stroke="#a3161c" stroke-width="0.95" opacity="0.9"/>
<circle cx="407.99" cy="366.04" r="1.85" fill="none" stroke="#a3161c" stroke-width="0.95" opacity="0.9"/>
<circle cx="408.85" cy="365.71" r="1.85" fill="none" stroke="#a3161c" stroke-width="0.95" opacity="0.9"/>
<circle cx="408.87" cy="366.33" r="1.85" fill="none" stroke="#a3161c" stroke-width="0.95" opacity="0.9"/>
<circle cx="409.84" cy="365.56" r="1.85" fill="none" stroke="#a3161c" stroke-width="0.95" opacity="0.9"/>
<circle cx="409.58" cy="365.72" r="1.85" fill="none" stroke="#a3161c" stroke-width="0.95" opacity="0.9"/>
<circle cx="410.71" cy="365.51" r="1.85" fill="none" stroke="#a3161c" stroke-width="0.95" opacity="0.9"/>
<circle cx="410.52" cy="365.44" r="1.85" fill="none" stroke="#a3161c" stroke-width="0.95" opacity="0.9"/>
<circle cx="411.56" cy="366.83" r="1.85" fill="none" stroke="#a3161c" stroke-width="0.95" opacity="0.9"/>
<circle cx="411.66" cy="365.57" r="1.85" fill="none" stroke="#a3161c" stroke-width="0.95" opacity="0.9"/>
<circle cx="412.56" cy="367.46" r="1.85" fill="none" stroke="#a3161c" stroke-width="0.95" opacity="0.9"/>
<circle cx="412.48" cy="367.7" r="1.85" fill="none" stroke="#a3161c" stroke-width="0.95" opacity="0.9"/>
<circle cx="413.34" cy="365.36" r="1.85" fill="none" stroke="#a3161c" stroke-width="0.95" opacity="0.9"/>
<circle cx="413.35" cy="365.87" r="1.85" fill="none" stroke="#a3161c" stroke-width="0.95" opacity="0.9"/>
<circle cx="414.1" cy="366.79" r="1.85" fill="none" stroke="#a3161c" stroke-width="0.95" opacity="0.9"/>
<circle cx="414.24" cy="367.5" r="1.85" fill="none" stroke="#a3161c" stroke-width="0.95" opacity="0.9"/>
<circle cx="415.05" cy="365.7" r="1.85" fill="none" stroke="#a3161c" stroke-width="0.95" opacity="0.9"/>
<circle cx="415.21" cy="366.2" r="1.85" fill="none" stroke="#a3161c" stroke-width="0.95" opacity="0.9"/>
<circle cx="415.88" cy="367.26" r="1.85" fill="none" stroke="#a3161c" stroke-width="0.95" opacity="0.9"/>
<circle cx="416.17" cy="366.72" r="1.85" fill="none" stroke="#a3161c" stroke-width="0.95" opacity="0.9"/>
<circle cx="417" cy="366.88" r="1.85" fill="none" stroke="#a3161c" stroke-width="0.95" opacity="0.9"/>
<circle cx="417.08" cy="367.01" r="1.85" fill="none" stroke="#a3161c" stroke-width="0.95" opacity="0.9"/>
<circle cx="417.99" cy="366.24" r="1.85" fill="none" stroke="#a3161c" stroke-width="0.95" opacity="0.9"/>
<circle cx="417.89" cy="366.32" r="1.85" fill="none" stroke="#a3161c" stroke-width="0.95" opacity="0.9"/>
<circle cx="418.53" cy="365.97" r="1.85" fill="none" stroke="#a3161c" stroke-width="0.95" opacity="0.9"/>
<circle cx="418.8" cy="367.15" r="1.85" fill="none" stroke="#a3161c" stroke-width="0.95" opacity="0.9"/>
<circle cx="419.66" cy="365.57" r="1.85" fill="none" stroke="#a3161c" stroke-width="0.95" opacity="0.9"/>
<circle cx="419.42" cy="367.01" r="1.85" fill="none" stroke="#a3161c" stroke-width="0.95" opacity="0.9"/>
<circle cx="420.27" cy="367.87" r="1.85" fill="none" stroke="#a3161c" stroke-width="0.95" opacity="0.9"/>
<circle cx="420.36" cy="366.8" r="1.85" fill="none" stroke="#a3161c" stroke-width="0.95" opacity="0.9"/>
<circle cx="421.48" cy="366.78" r="1.85" fill="none" stroke="#a3161c" stroke-width="0.95" opacity="0.9"/>
<circle cx="421.35" cy="366.27" r="1.85" fill="none" stroke="#a3161c" stroke-width="0.95" opacity="0.9"/>
<circle cx="422.26" cy="366.8" r="1.85" fill="none" stroke="#a3161c" stroke-width="0.95" opacity="0.9"/>
<circle cx="422.44" cy="365.4" r="1.85" fill="none" stroke="#a3161c" stroke-width="0.95" opacity="0.9"/>
<circle cx="422.96" cy="366.63" r="1.85" fill="none" stroke="#a3161c" stroke-width="0.95" opacity="0.9"/>
<circle cx="423.2" cy="366.88" r="1.85" fill="none" stroke="#a3161c" stroke-width="0.95" opacity="0.9"/>
<circle cx="424.14" cy="365.9" r="1.85" fill="none" stroke="#a3161c" stroke-width="0.95" opacity="0.9"/>
<circle cx="424.06" cy="368.2" r="1.85" fill="none" stroke="#a3161c" stroke-width="0.95" opacity="0.9"/>
<circle cx="425.16" cy="368.3" r="1.85" fill="none" stroke="#a3161c" stroke-width="0.95" opacity="0.9"/>
<circle cx="424.93" cy="367.06" r="1.85" fill="none" stroke="#a3161c" stroke-width="0.95" opacity="0.9"/>
<circle cx="425.75" cy="365.7" r="1.85" fill="none" stroke="#a3161c" stroke-width="0.95" opacity="0.9"/>
<circle cx="426" cy="366.33" r="1.85" fill="none" stroke="#a3161c" stroke-width="0.95" opacity="0.9"/>
<circle cx="426.94" cy="366.83" r="1.85" fill="none" stroke="#a3161c" stroke-width="0.95" opacity="0.9"/>
<circle cx="426.56" cy="367.92" r="1.85" fill="none" stroke="#a3161c" stroke-width="0.95" opacity="0.9"/>
<circle cx="427.6" cy="366.74" r="1.85" fill="none" stroke="#a3161c" stroke-width="0.95" opacity="0.9"/>
<circle cx="427.46" cy="366.47" r="1.85" fill="none" stroke="#a3161c" stroke-width="0.95" opacity="0.9"/>
<circle cx="428.45" cy="367.72" r="1.85" fill="none" stroke="#a3161c" stroke-width="0.95" opacity="0.9"/>
<circle cx="428.67" cy="367.48" r="1.85" fill="none" stroke="#a3161c" stroke-width="0.95" opacity="0.9"/>
<circle cx="429.29" cy="368.24" r="1.85" fill="none" stroke="#a3161c" stroke-width="0.95" opacity="0.9"/>
<circle cx="429.54" cy="366.84" r="1.85" fill="none" stroke="#a3161c" stroke-width="0.95" opacity="0.9"/>
<circle cx="430.19" cy="367.67" r="1.85" fill="none" stroke="#a3161c" stroke-width="0.95" opacity="0.9"/>
<circle cx="430.14" cy="366.63" r="1.85" fill="none" stroke="#a3161c" stroke-width="0.95" opacity="0.9"/>
<circle cx="228.5" cy="369.5" r="1.8" fill="none" stroke="#a3161c" stroke-width="0.9" opacity="0.9"/>
<circle cx="229.3" cy="366.5" r="1.8" fill="none" stroke="#a3161c" stroke-width="0.9" opacity="0.9"/>
<circle cx="230" cy="363" r="1.8" fill="none" stroke="#a3161c" stroke-width="0.9" opacity="0.9"/>
<circle cx="228.55" cy="372.75" r="1.75" fill="none" stroke="#2f5f8e" stroke-width="0.95" opacity="0.95"/>
<circle cx="229.63" cy="370.67" r="1.75" fill="none" stroke="#2f5f8e" stroke-width="0.95" opacity="0.95"/>
<circle cx="230.42" cy="368.98" r="1.75" fill="none" stroke="#2f5f8e" stroke-width="0.95" opacity="0.95"/>
<circle cx="231.13" cy="366.04" r="1.75" fill="none" stroke="#2f5f8e" stroke-width="0.95" opacity="0.95"/>
<circle cx="232.02" cy="365.19" r="1.75" fill="none" stroke="#2f5f8e" stroke-width="0.95" opacity="0.95"/>
<circle cx="232.68" cy="364.24" r="1.75" fill="none" stroke="#2f5f8e" stroke-width="0.95" opacity="0.95"/>
<circle cx="233.32" cy="365.19" r="1.75" fill="none" stroke="#2f5f8e" stroke-width="0.95" opacity="0.95"/>
<circle cx="234.18" cy="365.51" r="1.75" fill="none" stroke="#2f5f8e" stroke-width="0.95" opacity="0.95"/>
<circle cx="235.01" cy="366.95" r="1.75" fill="none" stroke="#2f5f8e" stroke-width="0.95" opacity="0.95"/>
<circle cx="236.01" cy="366.78" r="1.75" fill="none" stroke="#2f5f8e" stroke-width="0.95" opacity="0.95"/>
<circle cx="236.65" cy="367.35" r="1.75" fill="none" stroke="#2f5f8e" stroke-width="0.95" opacity="0.95"/>
<circle cx="237.63" cy="367.55" r="1.75" fill="none" stroke="#2f5f8e" stroke-width="0.95" opacity="0.95"/>
<circle cx="238.47" cy="368.18" r="1.75" fill="none" stroke="#2f5f8e" stroke-width="0.95" opacity="0.95"/>
<circle cx="239.08" cy="369.01" r="1.75" fill="none" stroke="#2f5f8e" stroke-width="0.95" opacity="0.95"/>
<circle cx="239.73" cy="369.55" r="1.75" fill="none" stroke="#2f5f8e" stroke-width="0.95" opacity="0.95"/>
<circle cx="240.54" cy="370.18" r="1.75" fill="none" stroke="#2f5f8e" stroke-width="0.95" opacity="0.95"/>
<circle cx="241.41" cy="369.96" r="1.75" fill="none" stroke="#2f5f8e" stroke-width="0.95" opacity="0.95"/>
<circle cx="242.13" cy="370.72" r="1.75" fill="none" stroke="#2f5f8e" stroke-width="0.95" opacity="0.95"/>
<circle cx="242.97" cy="371.67" r="1.75" fill="none" stroke="#2f5f8e" stroke-width="0.95" opacity="0.95"/>
<circle cx="243.83" cy="371.52" r="1.75" fill="none" stroke="#2f5f8e" stroke-width="0.95" opacity="0.95"/>
<circle cx="244.62" cy="372.66" r="1.75" fill="none" stroke="#2f5f8e" stroke-width="0.95" opacity="0.95"/>
<circle cx="245.41" cy="373.12" r="1.75" fill="none" stroke="#2f5f8e" stroke-width="0.95" opacity="0.95"/>
<circle cx="246.39" cy="372.87" r="1.75" fill="none" stroke="#2f5f8e" stroke-width="0.95" opacity="0.95"/>
<circle cx="247.02" cy="373.14" r="1.75" fill="none" stroke="#2f5f8e" stroke-width="0.95" opacity="0.95"/>
<circle cx="248" cy="373.5" r="1.75" fill="none" stroke="#2f5f8e" stroke-width="0.95" opacity="0.95"/>
<circle cx="248.75" cy="373.76" r="1.75" fill="none" stroke="#2f5f8e" stroke-width="0.95" opacity="0.95"/>
<circle cx="249.62" cy="375.51" r="1.75" fill="none" stroke="#2f5f8e" stroke-width="0.95" opacity="0.95"/>
<circle cx="250.48" cy="376.33" r="1.75" fill="none" stroke="#2f5f8e" stroke-width="0.95" opacity="0.95"/>
<circle cx="250.9" cy="376.48" r="1.75" fill="none" stroke="#2f5f8e" stroke-width="0.95" opacity="0.95"/>
<circle cx="251.82" cy="376.74" r="1.75" fill="none" stroke="#2f5f8e" stroke-width="0.95" opacity="0.95"/>
<circle cx="252.79" cy="377.8" r="1.75" fill="none" stroke="#2f5f8e" stroke-width="0.95" opacity="0.95"/>
<circle cx="253.48" cy="378.75" r="1.75" fill="none" stroke="#2f5f8e" stroke-width="0.95" opacity="0.95"/>
<circle cx="254.36" cy="380.59" r="1.75" fill="none" stroke="#2f5f8e" stroke-width="0.95" opacity="0.95"/>
<circle cx="255.01" cy="380.78" r="1.75" fill="none" stroke="#2f5f8e" stroke-width="0.95" opacity="0.95"/>
<circle cx="256.05" cy="382.35" r="1.75" fill="none" stroke="#2f5f8e" stroke-width="0.95" opacity="0.95"/>
<circle cx="256.8" cy="383.16" r="1.75" fill="none" stroke="#2f5f8e" stroke-width="0.95" opacity="0.95"/>
<circle cx="257.58" cy="383.76" r="1.75" fill="none" stroke="#2f5f8e" stroke-width="0.95" opacity="0.95"/>
<circle cx="258.14" cy="384.21" r="1.75" fill="none" stroke="#2f5f8e" stroke-width="0.95" opacity="0.95"/>
<circle cx="259.24" cy="385.62" r="1.75" fill="none" stroke="#2f5f8e" stroke-width="0.95" opacity="0.95"/>
<circle cx="259.88" cy="385.49" r="1.75" fill="none" stroke="#2f5f8e" stroke-width="0.95" opacity="0.95"/>
<circle cx="260.7" cy="386.37" r="1.75" fill="none" stroke="#2f5f8e" stroke-width="0.95" opacity="0.95"/>
<circle cx="261.64" cy="386.97" r="1.75" fill="none" stroke="#2f5f8e" stroke-width="0.95" opacity="0.95"/>
<circle cx="262.3" cy="387.39" r="1.75" fill="none" stroke="#2f5f8e" stroke-width="0.95" opacity="0.95"/>
<circle cx="263.29" cy="388.45" r="1.75" fill="none" stroke="#2f5f8e" stroke-width="0.95" opacity="0.95"/>
<circle cx="263.97" cy="388.61" r="1.75" fill="none" stroke="#2f5f8e" stroke-width="0.95" opacity="0.95"/>
<circle cx="264.73" cy="389.56" r="1.75" fill="none" stroke="#2f5f8e" stroke-width="0.95" opacity="0.95"/>
<circle cx="265.43" cy="389.48" r="1.75" fill="none" stroke="#2f5f8e" stroke-width="0.95" opacity="0.95"/>
<circle cx="266.14" cy="390.22" r="1.75" fill="none" stroke="#2f5f8e" stroke-width="0.95" opacity="0.95"/>
<circle cx="267.04" cy="391.81" r="1.75" fill="none" stroke="#2f5f8e" stroke-width="0.95" opacity="0.95"/>
<circle cx="267.8" cy="392.14" r="1.75" fill="none" stroke="#2f5f8e" stroke-width="0.95" opacity="0.95"/>
<circle cx="268.72" cy="392.53" r="1.75" fill="none" stroke="#2f5f8e" stroke-width="0.95" opacity="0.95"/>
<circle cx="269.5" cy="393.25" r="1.75" fill="none" stroke="#2f5f8e" stroke-width="0.95" opacity="0.95"/>
<circle cx="270.16" cy="393.66" r="1.75" fill="none" stroke="#2f5f8e" stroke-width="0.95" opacity="0.95"/>
<circle cx="271.3" cy="393.65" r="1.75" fill="none" stroke="#2f5f8e" stroke-width="0.95" opacity="0.95"/>
<circle cx="271.99" cy="395.45" r="1.75" fill="none" stroke="#2f5f8e" stroke-width="0.95" opacity="0.95"/>
<circle cx="272.65" cy="395.51" r="1.75" fill="none" stroke="#2f5f8e" stroke-width="0.95" opacity="0.95"/>
<circle cx="273.65" cy="395.56" r="1.75" fill="none" stroke="#2f5f8e" stroke-width="0.95" opacity="0.95"/>
<circle cx="274.33" cy="396.21" r="1.75" fill="none" stroke="#2f5f8e" stroke-width="0.95" opacity="0.95"/>
<circle cx="274.99" cy="396.9" r="1.75" fill="none" stroke="#2f5f8e" stroke-width="0.95" opacity="0.95"/>
<circle cx="275.79" cy="397.71" r="1.75" fill="none" stroke="#2f5f8e" stroke-width="0.95" opacity="0.95"/>
<circle cx="276.53" cy="397.34" r="1.75" fill="none" stroke="#2f5f8e" stroke-width="0.95" opacity="0.95"/>
<circle cx="277.38" cy="398.56" r="1.75" fill="none" stroke="#2f5f8e" stroke-width="0.95" opacity="0.95"/>
<circle cx="278.49" cy="399.02" r="1.75" fill="none" stroke="#2f5f8e" stroke-width="0.95" opacity="0.95"/>
<circle cx="279.25" cy="399.89" r="1.75" fill="none" stroke="#2f5f8e" stroke-width="0.95" opacity="0.95"/>
<circle cx="279.8" cy="400.11" r="1.75" fill="none" stroke="#2f5f8e" stroke-width="0.95" opacity="0.95"/>
<circle cx="280.66" cy="400.29" r="1.75" fill="none" stroke="#2f5f8e" stroke-width="0.95" opacity="0.95"/>
<circle cx="281.33" cy="400.56" r="1.75" fill="none" stroke="#2f5f8e" stroke-width="0.95" opacity="0.95"/>
<circle cx="282.16" cy="402.12" r="1.75" fill="none" stroke="#2f5f8e" stroke-width="0.95" opacity="0.95"/>
<circle cx="283.05" cy="401.4" r="1.75" fill="none" stroke="#2f5f8e" stroke-width="0.95" opacity="0.95"/>
<circle cx="283.8" cy="402.46" r="1.75" fill="none" stroke="#2f5f8e" stroke-width="0.95" opacity="0.95"/>
<circle cx="284.8" cy="402.73" r="1.75" fill="none" stroke="#2f5f8e" stroke-width="0.95" opacity="0.95"/>
<circle cx="285.58" cy="402.88" r="1.75" fill="none" stroke="#2f5f8e" stroke-width="0.95" opacity="0.95"/>
<circle cx="286.34" cy="403.11" r="1.75" fill="none" stroke="#2f5f8e" stroke-width="0.95" opacity="0.95"/>
<circle cx="287.02" cy="402.76" r="1.75" fill="none" stroke="#2f5f8e" stroke-width="0.95" opacity="0.95"/>
<circle cx="287.89" cy="402.95" r="1.75" fill="none" stroke="#2f5f8e" stroke-width="0.95" opacity="0.95"/>
<circle cx="288.55" cy="403.81" r="1.75" fill="none" stroke="#2f5f8e" stroke-width="0.95" opacity="0.95"/>
<circle cx="289.37" cy="403.57" r="1.75" fill="none" stroke="#2f5f8e" stroke-width="0.95" opacity="0.95"/>
<circle cx="290.33" cy="405.18" r="1.75" fill="none" stroke="#2f5f8e" stroke-width="0.95" opacity="0.95"/>
<circle cx="291.29" cy="405" r="1.75" fill="none" stroke="#2f5f8e" stroke-width="0.95" opacity="0.95"/>
<circle cx="292.06" cy="404.95" r="1.75" fill="none" stroke="#2f5f8e" stroke-width="0.95" opacity="0.95"/>
<circle cx="292.57" cy="406.25" r="1.75" fill="none" stroke="#2f5f8e" stroke-width="0.95" opacity="0.95"/>
<circle cx="293.67" cy="405.54" r="1.75" fill="none" stroke="#2f5f8e" stroke-width="0.95" opacity="0.95"/>
<circle cx="294.39" cy="405.98" r="1.75" fill="none" stroke="#2f5f8e" stroke-width="0.95" opacity="0.95"/>
<circle cx="295.29" cy="406.5" r="1.75" fill="none" stroke="#2f5f8e" stroke-width="0.95" opacity="0.95"/>
<circle cx="295.89" cy="406.75" r="1.75" fill="none" stroke="#2f5f8e" stroke-width="0.95" opacity="0.95"/>
<circle cx="296.57" cy="407.65" r="1.75" fill="none" stroke="#2f5f8e" stroke-width="0.95" opacity="0.95"/>
<circle cx="297.55" cy="408.59" r="1.75" fill="none" stroke="#2f5f8e" stroke-width="0.95" opacity="0.95"/>
<circle cx="298.32" cy="408.7" r="1.75" fill="none" stroke="#2f5f8e" stroke-width="0.95" opacity="0.95"/>
<circle cx="299.14" cy="408.65" r="1.75" fill="none" stroke="#2f5f8e" stroke-width="0.95" opacity="0.95"/>
<circle cx="300" cy="409.6" r="1.75" fill="none" stroke="#2f5f8e" stroke-width="0.95" opacity="0.95"/>
<circle cx="300.63" cy="409.71" r="1.75" fill="none" stroke="#2f5f8e" stroke-width="0.95" opacity="0.95"/>
<circle cx="301.68" cy="409.99" r="1.75" fill="none" stroke="#2f5f8e" stroke-width="0.95" opacity="0.95"/>
<circle cx="302.37" cy="411.21" r="1.75" fill="none" stroke="#2f5f8e" stroke-width="0.95" opacity="0.95"/>
<circle cx="303.06" cy="409.53" r="1.75" fill="none" stroke="#2f5f8e" stroke-width="0.95" opacity="0.95"/>
<circle cx="304" cy="410.49" r="1.75" fill="none" stroke="#2f5f8e" stroke-width="0.95" opacity="0.95"/>
<circle cx="304.81" cy="410.39" r="1.75" fill="none" stroke="#2f5f8e" stroke-width="0.95" opacity="0.95"/>
<circle cx="305.68" cy="411.45" r="1.75" fill="none" stroke="#2f5f8e" stroke-width="0.95" opacity="0.95"/>
<circle cx="306.33" cy="411.34" r="1.75" fill="none" stroke="#2f5f8e" stroke-width="0.95" opacity="0.95"/>
<circle cx="306.97" cy="412.19" r="1.75" fill="none" stroke="#2f5f8e" stroke-width="0.95" opacity="0.95"/>
<circle cx="307.87" cy="412.07" r="1.75" fill="none" stroke="#2f5f8e" stroke-width="0.95" opacity="0.95"/>
<circle cx="308.54" cy="411.59" r="1.75" fill="none" stroke="#2f5f8e" stroke-width="0.95" opacity="0.95"/>
<circle cx="309.62" cy="411.97" r="1.75" fill="none" stroke="#2f5f8e" stroke-width="0.95" opacity="0.95"/>
<circle cx="310.24" cy="413.53" r="1.75" fill="none" stroke="#2f5f8e" stroke-width="0.95" opacity="0.95"/>
<circle cx="311" cy="413" r="1.75" fill="none" stroke="#2f5f8e" stroke-width="0.95" opacity="0.95"/>
<circle cx="312.1" cy="412.64" r="1.75" fill="none" stroke="#2f5f8e" stroke-width="0.95" opacity="0.95"/>
<circle cx="312.53" cy="413.7" r="1.75" fill="none" stroke="#2f5f8e" stroke-width="0.95" opacity="0.95"/>
<circle cx="313.51" cy="414.43" r="1.75" fill="none" stroke="#2f5f8e" stroke-width="0.95" opacity="0.95"/>
<circle cx="314.14" cy="414.76" r="1.75" fill="none" stroke="#2f5f8e" stroke-width="0.95" opacity="0.95"/>
<circle cx="314.97" cy="414.05" r="1.75" fill="none" stroke="#2f5f8e" stroke-width="0.95" opacity="0.95"/>
<circle cx="316.08" cy="415.09" r="1.75" fill="none" stroke="#2f5f8e" stroke-width="0.95" opacity="0.95"/>
<circle cx="316.63" cy="415.15" r="1.75" fill="none" stroke="#2f5f8e" stroke-width="0.95" opacity="0.95"/>
<circle cx="317.66" cy="415.48" r="1.75" fill="none" stroke="#2f5f8e" stroke-width="0.95" opacity="0.95"/>
<circle cx="318.33" cy="416.34" r="1.75" fill="none" stroke="#2f5f8e" stroke-width="0.95" opacity="0.95"/>
<circle cx="319.23" cy="415.93" r="1.75" fill="none" stroke="#2f5f8e" stroke-width="0.95" opacity="0.95"/>
<circle cx="319.79" cy="417.21" r="1.75" fill="none" stroke="#2f5f8e" stroke-width="0.95" opacity="0.95"/>
<circle cx="320.68" cy="417.2" r="1.75" fill="none" stroke="#2f5f8e" stroke-width="0.95" opacity="0.95"/>
<circle cx="321.34" cy="417.38" r="1.75" fill="none" stroke="#2f5f8e" stroke-width="0.95" opacity="0.95"/>
<circle cx="322.33" cy="417.79" r="1.75" fill="none" stroke="#2f5f8e" stroke-width="0.95" opacity="0.95"/>
<circle cx="323.16" cy="417.03" r="1.75" fill="none" stroke="#2f5f8e" stroke-width="0.95" opacity="0.95"/>
<circle cx="323.87" cy="418.28" r="1.75" fill="none" stroke="#2f5f8e" stroke-width="0.95" opacity="0.95"/>
<circle cx="324.64" cy="418.06" r="1.75" fill="none" stroke="#2f5f8e" stroke-width="0.95" opacity="0.95"/>
<circle cx="325.41" cy="418.48" r="1.75" fill="none" stroke="#2f5f8e" stroke-width="0.95" opacity="0.95"/>
<circle cx="326.28" cy="418.06" r="1.75" fill="none" stroke="#2f5f8e" stroke-width="0.95" opacity="0.95"/>
<circle cx="327.11" cy="419.53" r="1.75" fill="none" stroke="#2f5f8e" stroke-width="0.95" opacity="0.95"/>
<circle cx="328.04" cy="419.59" r="1.75" fill="none" stroke="#2f5f8e" stroke-width="0.95" opacity="0.95"/>
<circle cx="328.81" cy="420.19" r="1.75" fill="none" stroke="#2f5f8e" stroke-width="0.95" opacity="0.95"/>
<circle cx="329.59" cy="420.31" r="1.75" fill="none" stroke="#2f5f8e" stroke-width="0.95" opacity="0.95"/>
<circle cx="330.34" cy="420.63" r="1.75" fill="none" stroke="#2f5f8e" stroke-width="0.95" opacity="0.95"/>
<circle cx="331.09" cy="419.9" r="1.75" fill="none" stroke="#2f5f8e" stroke-width="0.95" opacity="0.95"/>
<circle cx="236" cy="370.5" r="1.75" fill="none" stroke="#2f5f8e" stroke-width="0.95" opacity="0.95"/>
<circle cx="241" cy="373.86" r="1.75" fill="none" stroke="#2f5f8e" stroke-width="0.95" opacity="0.95"/>
<circle cx="250" cy="378.79" r="1.75" fill="none" stroke="#2f5f8e" stroke-width="0.95" opacity="0.95"/>
<circle cx="263.1" cy="391.93" r="1.75" fill="none" stroke="#2f5f8e" stroke-width="0.95" opacity="0.95"/>
<circle cx="275.5" cy="401.23" r="1.75" fill="none" stroke="#2f5f8e" stroke-width="0.95" opacity="0.95"/>
<circle cx="283.5" cy="406" r="1.75" fill="none" stroke="#2f5f8e" stroke-width="0.95" opacity="0.95"/>
<circle cx="291.5" cy="407.9" r="1.75" fill="none" stroke="#2f5f8e" stroke-width="0.95" opacity="0.95"/>
<circle cx="301" cy="412.2" r="1.75" fill="none" stroke="#2f5f8e" stroke-width="0.95" opacity="0.95"/>
<circle cx="309" cy="414.79" r="1.75" fill="none" stroke="#2f5f8e" stroke-width="0.95" opacity="0.95"/>
<circle cx="316" cy="418.04" r="1.75" fill="none" stroke="#2f5f8e" stroke-width="0.95" opacity="0.95"/>
<circle cx="322" cy="420.09" r="1.75" fill="none" stroke="#2f5f8e" stroke-width="0.95" opacity="0.95"/>
<circle cx="327" cy="422.41" r="1.75" fill="none" stroke="#2f5f8e" stroke-width="0.95" opacity="0.95"/>
<rect x="227.7" y="356.5" width="208.3" height="129.4" fill="none" stroke="#000" stroke-width="1.6"/>
<line x1="225.5" y1="485.9" x2="227.7" y2="485.9" stroke="#000" stroke-width="1" />
<text x="214.77" y="488.02" font-size="6.14" fill="#000" stroke="#000" stroke-width="0.3" font-weight="bold" textLength="10.74" lengthAdjust="spacingAndGlyphs">0.0</text>
<line x1="225.5" y1="462.3" x2="227.7" y2="462.3" stroke="#000" stroke-width="1" />
<text x="214.77" y="464.42" font-size="6.14" fill="#000" stroke="#000" stroke-width="0.3" font-weight="bold" textLength="10.74" lengthAdjust="spacingAndGlyphs">0.2</text>
<line x1="225.5" y1="438.7" x2="227.7" y2="438.7" stroke="#000" stroke-width="1" />
<text x="214.5" y="440.82" font-size="6.14" fill="#000" stroke="#000" stroke-width="0.3" font-weight="bold" textLength="10.74" lengthAdjust="spacingAndGlyphs">0.4</text>
<line x1="225.5" y1="415.1" x2="227.7" y2="415.1" stroke="#000" stroke-width="1" />
<text x="214.73" y="417.22" font-size="6.14" fill="#000" stroke="#000" stroke-width="0.3" font-weight="bold" textLength="10.74" lengthAdjust="spacingAndGlyphs">0.6</text>
<line x1="225.5" y1="391.5" x2="227.7" y2="391.5" stroke="#000" stroke-width="1" />
<text x="214.69" y="393.62" font-size="6.14" fill="#000" stroke="#000" stroke-width="0.3" font-weight="bold" textLength="10.74" lengthAdjust="spacingAndGlyphs">0.8</text>
<line x1="225.5" y1="367.9" x2="227.7" y2="367.9" stroke="#000" stroke-width="1" />
<text x="214.77" y="370.02" font-size="6.14" fill="#000" stroke="#000" stroke-width="0.3" font-weight="bold" textLength="10.74" lengthAdjust="spacingAndGlyphs">1.0</text>
<line x1="226.4" y1="474.1" x2="227.7" y2="474.1" stroke="#000" stroke-width="1" />
<line x1="226.4" y1="450.5" x2="227.7" y2="450.5" stroke="#000" stroke-width="1" />
<line x1="226.4" y1="426.9" x2="227.7" y2="426.9" stroke="#000" stroke-width="1" />
<line x1="226.4" y1="403.3" x2="227.7" y2="403.3" stroke="#000" stroke-width="1" />
<line x1="226.4" y1="379.7" x2="227.7" y2="379.7" stroke="#000" stroke-width="1" />
<line x1="227.7" y1="485.9" x2="227.7" y2="487.9" stroke="#000" stroke-width="1" />
<text x="225.76" y="495.1" font-size="6.57" fill="#000" stroke="#000" stroke-width="0.3" font-weight="bold" textLength="3.88" lengthAdjust="spacingAndGlyphs">0</text>
<line x1="269.4" y1="485.9" x2="269.4" y2="487.9" stroke="#000" stroke-width="1" />
<text x="263.61" y="495.1" font-size="6.57" fill="#000" stroke="#000" stroke-width="0.3" font-weight="bold" textLength="11.65" lengthAdjust="spacingAndGlyphs">200</text>
<line x1="311.1" y1="485.9" x2="311.1" y2="487.9" stroke="#000" stroke-width="1" />
<text x="305.38" y="495.1" font-size="6.57" fill="#000" stroke="#000" stroke-width="0.3" font-weight="bold" textLength="11.65" lengthAdjust="spacingAndGlyphs">400</text>
<line x1="352.8" y1="485.9" x2="352.8" y2="487.9" stroke="#000" stroke-width="1" />
<text x="347.01" y="495.1" font-size="6.57" fill="#000" stroke="#000" stroke-width="0.3" font-weight="bold" textLength="11.65" lengthAdjust="spacingAndGlyphs">600</text>
<line x1="394.5" y1="485.9" x2="394.5" y2="487.9" stroke="#000" stroke-width="1" />
<text x="388.72" y="495.1" font-size="6.57" fill="#000" stroke="#000" stroke-width="0.3" font-weight="bold" textLength="11.65" lengthAdjust="spacingAndGlyphs">800</text>
<line x1="436.2" y1="485.9" x2="436.2" y2="487.9" stroke="#000" stroke-width="1" />
<text x="428.35" y="495.1" font-size="6.57" fill="#000" stroke="#000" stroke-width="0.3" font-weight="bold" textLength="15.53" lengthAdjust="spacingAndGlyphs">1000</text>
<line x1="248.55" y1="485.9" x2="248.55" y2="487.2" stroke="#000" stroke-width="1" />
<line x1="290.25" y1="485.9" x2="290.25" y2="487.2" stroke="#000" stroke-width="1" />
<line x1="331.95" y1="485.9" x2="331.95" y2="487.2" stroke="#000" stroke-width="1" />
<line x1="373.65" y1="485.9" x2="373.65" y2="487.2" stroke="#000" stroke-width="1" />
<line x1="415.35" y1="485.9" x2="415.35" y2="487.2" stroke="#000" stroke-width="1" />
<text x="212.8" y="468.67" font-size="11.72" transform="rotate(-90 212.8 468.67)" fill="#000" stroke="#000" stroke-width="0.2" font-weight="bold" textLength="79.98" lengthAdjust="spacingAndGlyphs">Normalized PCE</text>
<text x="306.99" y="505.9" font-size="9.66" fill="#000" stroke="#000" stroke-width="0.2" font-weight="bold" textLength="33.73" lengthAdjust="spacingAndGlyphs" >Time/h</text>
<circle cx="238.5" cy="467.7" r="2.6" fill="#2b5b8b"/>
<circle cx="238" cy="467.2" r="0.6" fill="#fff" opacity="0.9"/>
<circle cx="238.5" cy="476.4" r="2.6" fill="#a5151c"/>
<circle cx="238" cy="475.9" r="0.6" fill="#fff" opacity="0.9"/>
<text x="247.92" y="470.3" font-size="6.76" fill="#000" stroke="#000" stroke-width="0.2" font-weight="bold" textLength="24.8" lengthAdjust="spacingAndGlyphs" >Control</text>
<text x="248.33" y="478.6" font-size="6.67" fill="#000" stroke="#000" stroke-width="0.2" font-weight="bold" textLength="20.45" lengthAdjust="spacingAndGlyphs" >Target</text>
<text x="310.18" y="438.9" font-size="7.03" fill="#000" stroke="#000" stroke-width="0.2" font-weight="bold" >Unencapsulated devices</text>
<text x="310.14" y="446.9" font-size="6.81" fill="#000" stroke="#000" stroke-width="0.2" font-weight="bold" textLength="19.55" lengthAdjust="spacingAndGlyphs" >MPPT</text>
<text x="376.68" y="386.3" font-size="7.86" fill="#a5151c" stroke="#a5151c" stroke-width="0.2" font-weight="bold" textLength="36.74" lengthAdjust="spacingAndGlyphs" >~ 99.98 %</text>
<text x="336.58" y="424.6" font-size="8.43" fill="#2b5b8b" stroke="#2b5b8b" stroke-width="0.2" font-weight="bold" textLength="36.53" lengthAdjust="spacingAndGlyphs" >~ 55.67 %</text>
<line x1="467.5" y1="433.8" x2="645" y2="433.8" stroke="#111" stroke-width="1.1" stroke-dasharray="2,1.6"/>
<line x1="468" y1="368.4" x2="675.5" y2="442.5" stroke="#ea8282" stroke-width="3.8" />
<circle cx="469" cy="364.5" r="1.5" fill="none" stroke="#d07070" stroke-width="0.9" opacity="0.8"/>
<circle cx="470.5" cy="365.5" r="1.5" fill="none" stroke="#d07070" stroke-width="0.9" opacity="0.8"/>
<circle cx="494" cy="374.5" r="1.5" fill="none" stroke="#d07070" stroke-width="0.9" opacity="0.8"/>
<circle cx="497" cy="375.5" r="1.5" fill="none" stroke="#d07070" stroke-width="0.9" opacity="0.8"/>
<circle cx="471" cy="369.47" r="1.15" fill="none" stroke="#5e1414" stroke-width="1.1" opacity="0.95"/>
<circle cx="475.75" cy="371.17" r="1.15" fill="none" stroke="#5e1414" stroke-width="1.1" opacity="0.95"/>
<circle cx="480.5" cy="372.86" r="1.15" fill="none" stroke="#5e1414" stroke-width="1.1" opacity="0.95"/>
<circle cx="485.25" cy="374.56" r="1.15" fill="none" stroke="#5e1414" stroke-width="1.1" opacity="0.95"/>
<circle cx="490" cy="376.26" r="1.15" fill="none" stroke="#5e1414" stroke-width="1.1" opacity="0.95"/>
<circle cx="494.75" cy="377.95" r="1.15" fill="none" stroke="#5e1414" stroke-width="1.1" opacity="0.95"/>
<circle cx="499.5" cy="379.65" r="1.15" fill="none" stroke="#5e1414" stroke-width="1.1" opacity="0.95"/>
<circle cx="504.25" cy="381.34" r="1.15" fill="none" stroke="#5e1414" stroke-width="1.1" opacity="0.95"/>
<circle cx="509" cy="383.04" r="1.15" fill="none" stroke="#5e1414" stroke-width="1.1" opacity="0.95"/>
<circle cx="513.75" cy="384.74" r="1.15" fill="none" stroke="#5e1414" stroke-width="1.1" opacity="0.95"/>
<circle cx="518.5" cy="386.43" r="1.15" fill="none" stroke="#5e1414" stroke-width="1.1" opacity="0.95"/>
<circle cx="523.25" cy="388.13" r="1.15" fill="none" stroke="#5e1414" stroke-width="1.1" opacity="0.95"/>
<circle cx="528" cy="389.83" r="1.15" fill="none" stroke="#5e1414" stroke-width="1.1" opacity="0.95"/>
<circle cx="532.75" cy="391.52" r="1.15" fill="none" stroke="#5e1414" stroke-width="1.1" opacity="0.95"/>
<circle cx="537.5" cy="393.22" r="1.15" fill="none" stroke="#5e1414" stroke-width="1.1" opacity="0.95"/>
<circle cx="542.25" cy="394.91" r="1.15" fill="none" stroke="#5e1414" stroke-width="1.1" opacity="0.95"/>
<circle cx="547" cy="396.61" r="1.15" fill="none" stroke="#5e1414" stroke-width="1.1" opacity="0.95"/>
<circle cx="551.75" cy="398.31" r="1.15" fill="none" stroke="#5e1414" stroke-width="1.1" opacity="0.95"/>
<circle cx="556.5" cy="400" r="1.15" fill="none" stroke="#5e1414" stroke-width="1.1" opacity="0.95"/>
<circle cx="561.25" cy="401.7" r="1.15" fill="none" stroke="#5e1414" stroke-width="1.1" opacity="0.95"/>
<circle cx="566" cy="403.4" r="1.15" fill="none" stroke="#5e1414" stroke-width="1.1" opacity="0.95"/>
<circle cx="570.75" cy="405.09" r="1.15" fill="none" stroke="#5e1414" stroke-width="1.1" opacity="0.95"/>
<circle cx="575.5" cy="406.79" r="1.15" fill="none" stroke="#5e1414" stroke-width="1.1" opacity="0.95"/>
<circle cx="580.25" cy="408.48" r="1.15" fill="none" stroke="#5e1414" stroke-width="1.1" opacity="0.95"/>
<circle cx="585" cy="410.18" r="1.15" fill="none" stroke="#5e1414" stroke-width="1.1" opacity="0.95"/>
<circle cx="589.75" cy="411.88" r="1.15" fill="none" stroke="#5e1414" stroke-width="1.1" opacity="0.95"/>
<circle cx="594.5" cy="413.57" r="1.15" fill="none" stroke="#5e1414" stroke-width="1.1" opacity="0.95"/>
<circle cx="599.25" cy="415.27" r="1.15" fill="none" stroke="#5e1414" stroke-width="1.1" opacity="0.95"/>
<circle cx="604" cy="416.97" r="1.15" fill="none" stroke="#5e1414" stroke-width="1.1" opacity="0.95"/>
<circle cx="608.75" cy="418.66" r="1.15" fill="none" stroke="#5e1414" stroke-width="1.1" opacity="0.95"/>
<circle cx="613.5" cy="420.36" r="1.15" fill="none" stroke="#5e1414" stroke-width="1.1" opacity="0.95"/>
<circle cx="618.25" cy="422.05" r="1.15" fill="none" stroke="#5e1414" stroke-width="1.1" opacity="0.95"/>
<circle cx="623" cy="423.75" r="1.15" fill="none" stroke="#5e1414" stroke-width="1.1" opacity="0.95"/>
<circle cx="627.75" cy="425.45" r="1.15" fill="none" stroke="#5e1414" stroke-width="1.1" opacity="0.95"/>
<circle cx="632.5" cy="427.14" r="1.15" fill="none" stroke="#5e1414" stroke-width="1.1" opacity="0.95"/>
<circle cx="637.25" cy="428.84" r="1.15" fill="none" stroke="#5e1414" stroke-width="1.1" opacity="0.95"/>
<circle cx="642" cy="430.54" r="1.15" fill="none" stroke="#5e1414" stroke-width="1.1" opacity="0.95"/>
<circle cx="646.75" cy="432.23" r="1.15" fill="none" stroke="#5e1414" stroke-width="1.1" opacity="0.95"/>
<circle cx="651.5" cy="433.93" r="1.15" fill="none" stroke="#5e1414" stroke-width="1.1" opacity="0.95"/>
<circle cx="656.25" cy="435.62" r="1.15" fill="none" stroke="#5e1414" stroke-width="1.1" opacity="0.95"/>
<circle cx="661" cy="437.32" r="1.15" fill="none" stroke="#5e1414" stroke-width="1.1" opacity="0.95"/>
<circle cx="665.75" cy="439.02" r="1.15" fill="none" stroke="#5e1414" stroke-width="1.1" opacity="0.95"/>
<circle cx="670.5" cy="440.71" r="1.15" fill="none" stroke="#5e1414" stroke-width="1.1" opacity="0.95"/>
<rect x="467.5" y="357.5" width="208" height="128.9" fill="none" stroke="#000" stroke-width="1.6"/>
<line x1="465.3" y1="486.41" x2="467.5" y2="486.41" stroke="#000" stroke-width="1" />
<text x="454.01" y="488.58" font-size="6.29" fill="#000" stroke="#000" stroke-width="0.3" font-weight="bold" textLength="9.94" lengthAdjust="spacingAndGlyphs">0.6</text>
<line x1="465.3" y1="460.12" x2="467.5" y2="460.12" stroke="#000" stroke-width="1" />
<text x="454.09" y="462.29" font-size="6.29" fill="#000" stroke="#000" stroke-width="0.3" font-weight="bold" textLength="9.94" lengthAdjust="spacingAndGlyphs">0.7</text>
<line x1="465.3" y1="433.83" x2="467.5" y2="433.83" stroke="#000" stroke-width="1" />
<text x="453.98" y="436" font-size="6.29" fill="#000" stroke="#000" stroke-width="0.3" font-weight="bold" textLength="9.94" lengthAdjust="spacingAndGlyphs">0.8</text>
<line x1="465.3" y1="407.54" x2="467.5" y2="407.54" stroke="#000" stroke-width="1" />
<text x="454.01" y="409.71" font-size="6.29" fill="#000" stroke="#000" stroke-width="0.3" font-weight="bold" textLength="9.94" lengthAdjust="spacingAndGlyphs">0.9</text>
<line x1="465.3" y1="381.25" x2="467.5" y2="381.25" stroke="#000" stroke-width="1" />
<text x="454.05" y="383.42" font-size="6.29" fill="#000" stroke="#000" stroke-width="0.3" font-weight="bold" textLength="9.94" lengthAdjust="spacingAndGlyphs">1.0</text>
<line x1="466.2" y1="473.26" x2="467.5" y2="473.26" stroke="#000" stroke-width="1" />
<line x1="466.2" y1="446.98" x2="467.5" y2="446.98" stroke="#000" stroke-width="1" />
<line x1="466.2" y1="420.69" x2="467.5" y2="420.69" stroke="#000" stroke-width="1" />
<line x1="466.2" y1="394.39" x2="467.5" y2="394.39" stroke="#000" stroke-width="1" />
<line x1="466.2" y1="368.11" x2="467.5" y2="368.11" stroke="#000" stroke-width="1" />
<line x1="467.3" y1="486.4" x2="467.3" y2="488.4" stroke="#000" stroke-width="1" />
<text x="465.42" y="495.9" font-size="6.57" fill="#000" stroke="#000" stroke-width="0.3" font-weight="bold" textLength="3.78" lengthAdjust="spacingAndGlyphs">0</text>
<line x1="502.05" y1="486.4" x2="502.05" y2="488.4" stroke="#000" stroke-width="1" />
<text x="494.41" y="495.9" font-size="6.57" fill="#000" stroke="#000" stroke-width="0.3" font-weight="bold" textLength="15.11" lengthAdjust="spacingAndGlyphs">1000</text>
<line x1="536.8" y1="486.4" x2="536.8" y2="488.4" stroke="#000" stroke-width="1" />
<text x="529.26" y="495.9" font-size="6.57" fill="#000" stroke="#000" stroke-width="0.3" font-weight="bold" textLength="15.11" lengthAdjust="spacingAndGlyphs">2000</text>
<line x1="571.55" y1="486.4" x2="571.55" y2="488.4" stroke="#000" stroke-width="1" />
<text x="564.04" y="495.9" font-size="6.57" fill="#000" stroke="#000" stroke-width="0.3" font-weight="bold" textLength="15.11" lengthAdjust="spacingAndGlyphs">3000</text>
<line x1="606.3" y1="486.4" x2="606.3" y2="488.4" stroke="#000" stroke-width="1" />
<text x="598.83" y="495.9" font-size="6.57" fill="#000" stroke="#000" stroke-width="0.3" font-weight="bold" textLength="15.11" lengthAdjust="spacingAndGlyphs">4000</text>
<line x1="641.05" y1="486.4" x2="641.05" y2="488.4" stroke="#000" stroke-width="1" />
<text x="633.53" y="495.9" font-size="6.57" fill="#000" stroke="#000" stroke-width="0.3" font-weight="bold" textLength="15.11" lengthAdjust="spacingAndGlyphs">5000</text>
<line x1="675.8" y1="486.4" x2="675.8" y2="488.4" stroke="#000" stroke-width="1" />
<text x="668.26" y="495.9" font-size="6.57" fill="#000" stroke="#000" stroke-width="0.3" font-weight="bold" textLength="15.11" lengthAdjust="spacingAndGlyphs">6000</text>
<line x1="484.68" y1="486.4" x2="484.68" y2="487.7" stroke="#000" stroke-width="1" />
<line x1="519.43" y1="486.4" x2="519.43" y2="487.7" stroke="#000" stroke-width="1" />
<line x1="554.18" y1="486.4" x2="554.18" y2="487.7" stroke="#000" stroke-width="1" />
<line x1="588.93" y1="486.4" x2="588.93" y2="487.7" stroke="#000" stroke-width="1" />
<line x1="623.67" y1="486.4" x2="623.67" y2="487.7" stroke="#000" stroke-width="1" />
<line x1="658.43" y1="486.4" x2="658.43" y2="487.7" stroke="#000" stroke-width="1" />
<text x="452.5" y="471.97" font-size="10.34" transform="rotate(-90 452.5 471.97)" fill="#000" stroke="#000" stroke-width="0.2" font-weight="bold">Normalized PCE</text>
<text x="546.3" y="506.8" font-size="10.34" fill="#000" stroke="#000" stroke-width="0.2" font-weight="bold" >Time/h</text>
<text x="639.46" y="366.8" font-size="7.97" fill="#000" stroke="#000" stroke-width="0.2" font-weight="bold" textLength="23.15" lengthAdjust="spacingAndGlyphs" >MPPT</text>
<line x1="623.8" y1="371.8" x2="638.8" y2="371.8" stroke="#ec8c8c" stroke-width="3" />
<circle cx="631.3" cy="371.8" r="1.1" fill="none" stroke="#6e1a1a" stroke-width="1" opacity="1"/>
<text x="641.23" y="374.3" font-size="7.97" fill="#a5151c" stroke="#a5151c" stroke-width="0.2" font-weight="bold" textLength="20.65" lengthAdjust="spacingAndGlyphs" >Target</text>
<text x="615.7" y="447.6" font-size="6.67" fill="#a5151c" stroke="#a5151c" stroke-width="0.2" font-weight="bold" font-style="italic" textLength="3.5" lengthAdjust="spacingAndGlyphs" >T</text>
<text x="619.76" y="449.7" font-size="3.29" fill="#a5151c" stroke="#a5151c" stroke-width="0.2" font-weight="bold" textLength="5.35" lengthAdjust="spacingAndGlyphs" >80</text>
<text x="625.23" y="447.6" font-size="6.34" fill="#a5151c" stroke="#a5151c" stroke-width="0.2" font-weight="bold" textLength="23.48" lengthAdjust="spacingAndGlyphs" >=5209h</text>
</svg>
</body></html>
